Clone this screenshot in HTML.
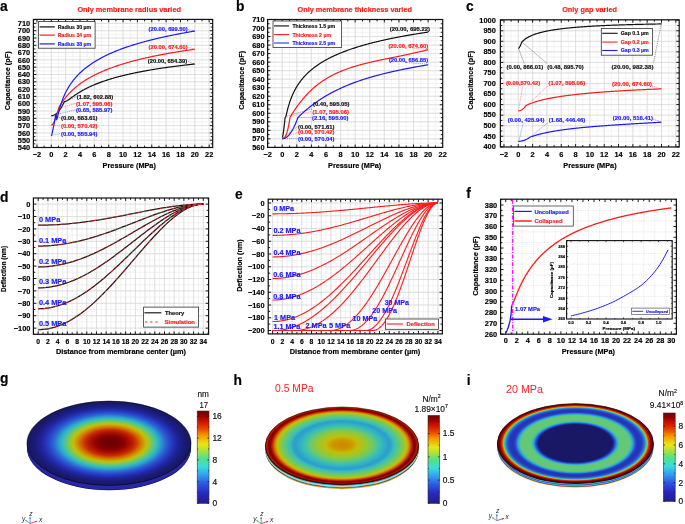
<!DOCTYPE html><html><head><meta charset="utf-8"><style>html,body{margin:0;padding:0;background:#fff;}svg{display:block;will-change:transform;}</style></head><body>
<svg width="685" height="524" viewBox="0 0 685 524" font-family='"Liberation Sans", sans-serif'>
<rect width="685" height="524" fill="#fff"/>
<line x1="36.95" y1="19.4" x2="36.95" y2="147.5" stroke="#ebebeb" stroke-width="0.6" />
<line x1="44.12" y1="19.4" x2="44.12" y2="147.5" stroke="#ebebeb" stroke-width="0.6" />
<line x1="51.3" y1="19.4" x2="51.3" y2="147.5" stroke="#ebebeb" stroke-width="0.6" />
<line x1="58.48" y1="19.4" x2="58.48" y2="147.5" stroke="#ebebeb" stroke-width="0.6" />
<line x1="65.65" y1="19.4" x2="65.65" y2="147.5" stroke="#ebebeb" stroke-width="0.6" />
<line x1="72.83" y1="19.4" x2="72.83" y2="147.5" stroke="#ebebeb" stroke-width="0.6" />
<line x1="80" y1="19.4" x2="80" y2="147.5" stroke="#ebebeb" stroke-width="0.6" />
<line x1="87.18" y1="19.4" x2="87.18" y2="147.5" stroke="#ebebeb" stroke-width="0.6" />
<line x1="94.36" y1="19.4" x2="94.36" y2="147.5" stroke="#ebebeb" stroke-width="0.6" />
<line x1="101.53" y1="19.4" x2="101.53" y2="147.5" stroke="#ebebeb" stroke-width="0.6" />
<line x1="108.71" y1="19.4" x2="108.71" y2="147.5" stroke="#ebebeb" stroke-width="0.6" />
<line x1="115.88" y1="19.4" x2="115.88" y2="147.5" stroke="#ebebeb" stroke-width="0.6" />
<line x1="123.06" y1="19.4" x2="123.06" y2="147.5" stroke="#ebebeb" stroke-width="0.6" />
<line x1="130.24" y1="19.4" x2="130.24" y2="147.5" stroke="#ebebeb" stroke-width="0.6" />
<line x1="137.41" y1="19.4" x2="137.41" y2="147.5" stroke="#ebebeb" stroke-width="0.6" />
<line x1="144.59" y1="19.4" x2="144.59" y2="147.5" stroke="#ebebeb" stroke-width="0.6" />
<line x1="151.76" y1="19.4" x2="151.76" y2="147.5" stroke="#ebebeb" stroke-width="0.6" />
<line x1="158.94" y1="19.4" x2="158.94" y2="147.5" stroke="#ebebeb" stroke-width="0.6" />
<line x1="166.12" y1="19.4" x2="166.12" y2="147.5" stroke="#ebebeb" stroke-width="0.6" />
<line x1="173.29" y1="19.4" x2="173.29" y2="147.5" stroke="#ebebeb" stroke-width="0.6" />
<line x1="180.47" y1="19.4" x2="180.47" y2="147.5" stroke="#ebebeb" stroke-width="0.6" />
<line x1="187.64" y1="19.4" x2="187.64" y2="147.5" stroke="#ebebeb" stroke-width="0.6" />
<line x1="194.82" y1="19.4" x2="194.82" y2="147.5" stroke="#ebebeb" stroke-width="0.6" />
<line x1="202" y1="19.4" x2="202" y2="147.5" stroke="#ebebeb" stroke-width="0.6" />
<line x1="209.17" y1="19.4" x2="209.17" y2="147.5" stroke="#ebebeb" stroke-width="0.6" />
<line x1="33.4" y1="143.85" x2="212.7" y2="143.85" stroke="#ebebeb" stroke-width="0.6" />
<line x1="33.4" y1="140.2" x2="212.7" y2="140.2" stroke="#ebebeb" stroke-width="0.6" />
<line x1="33.4" y1="136.55" x2="212.7" y2="136.55" stroke="#ebebeb" stroke-width="0.6" />
<line x1="33.4" y1="132.9" x2="212.7" y2="132.9" stroke="#ebebeb" stroke-width="0.6" />
<line x1="33.4" y1="129.25" x2="212.7" y2="129.25" stroke="#ebebeb" stroke-width="0.6" />
<line x1="33.4" y1="125.6" x2="212.7" y2="125.6" stroke="#ebebeb" stroke-width="0.6" />
<line x1="33.4" y1="121.95" x2="212.7" y2="121.95" stroke="#ebebeb" stroke-width="0.6" />
<line x1="33.4" y1="118.3" x2="212.7" y2="118.3" stroke="#ebebeb" stroke-width="0.6" />
<line x1="33.4" y1="114.65" x2="212.7" y2="114.65" stroke="#ebebeb" stroke-width="0.6" />
<line x1="33.4" y1="111" x2="212.7" y2="111" stroke="#ebebeb" stroke-width="0.6" />
<line x1="33.4" y1="107.35" x2="212.7" y2="107.35" stroke="#ebebeb" stroke-width="0.6" />
<line x1="33.4" y1="103.7" x2="212.7" y2="103.7" stroke="#ebebeb" stroke-width="0.6" />
<line x1="33.4" y1="100.05" x2="212.7" y2="100.05" stroke="#ebebeb" stroke-width="0.6" />
<line x1="33.4" y1="96.4" x2="212.7" y2="96.4" stroke="#ebebeb" stroke-width="0.6" />
<line x1="33.4" y1="92.75" x2="212.7" y2="92.75" stroke="#ebebeb" stroke-width="0.6" />
<line x1="33.4" y1="89.1" x2="212.7" y2="89.1" stroke="#ebebeb" stroke-width="0.6" />
<line x1="33.4" y1="85.45" x2="212.7" y2="85.45" stroke="#ebebeb" stroke-width="0.6" />
<line x1="33.4" y1="81.8" x2="212.7" y2="81.8" stroke="#ebebeb" stroke-width="0.6" />
<line x1="33.4" y1="78.15" x2="212.7" y2="78.15" stroke="#ebebeb" stroke-width="0.6" />
<line x1="33.4" y1="74.5" x2="212.7" y2="74.5" stroke="#ebebeb" stroke-width="0.6" />
<line x1="33.4" y1="70.85" x2="212.7" y2="70.85" stroke="#ebebeb" stroke-width="0.6" />
<line x1="33.4" y1="67.2" x2="212.7" y2="67.2" stroke="#ebebeb" stroke-width="0.6" />
<line x1="33.4" y1="63.55" x2="212.7" y2="63.55" stroke="#ebebeb" stroke-width="0.6" />
<line x1="33.4" y1="59.9" x2="212.7" y2="59.9" stroke="#ebebeb" stroke-width="0.6" />
<line x1="33.4" y1="56.25" x2="212.7" y2="56.25" stroke="#ebebeb" stroke-width="0.6" />
<line x1="33.4" y1="52.6" x2="212.7" y2="52.6" stroke="#ebebeb" stroke-width="0.6" />
<line x1="33.4" y1="48.95" x2="212.7" y2="48.95" stroke="#ebebeb" stroke-width="0.6" />
<line x1="33.4" y1="45.3" x2="212.7" y2="45.3" stroke="#ebebeb" stroke-width="0.6" />
<line x1="33.4" y1="41.65" x2="212.7" y2="41.65" stroke="#ebebeb" stroke-width="0.6" />
<line x1="33.4" y1="38" x2="212.7" y2="38" stroke="#ebebeb" stroke-width="0.6" />
<line x1="33.4" y1="34.35" x2="212.7" y2="34.35" stroke="#ebebeb" stroke-width="0.6" />
<line x1="33.4" y1="30.7" x2="212.7" y2="30.7" stroke="#ebebeb" stroke-width="0.6" />
<line x1="33.4" y1="27.05" x2="212.7" y2="27.05" stroke="#ebebeb" stroke-width="0.6" />
<line x1="33.4" y1="23.4" x2="212.7" y2="23.4" stroke="#ebebeb" stroke-width="0.6" />
<line x1="33.4" y1="19.75" x2="212.7" y2="19.75" stroke="#ebebeb" stroke-width="0.6" />
<line x1="36.95" y1="19.4" x2="36.95" y2="147.5" stroke="#d4d4d4" stroke-width="0.6" />
<line x1="51.3" y1="19.4" x2="51.3" y2="147.5" stroke="#d4d4d4" stroke-width="0.6" />
<line x1="65.65" y1="19.4" x2="65.65" y2="147.5" stroke="#d4d4d4" stroke-width="0.6" />
<line x1="80" y1="19.4" x2="80" y2="147.5" stroke="#d4d4d4" stroke-width="0.6" />
<line x1="94.36" y1="19.4" x2="94.36" y2="147.5" stroke="#d4d4d4" stroke-width="0.6" />
<line x1="108.71" y1="19.4" x2="108.71" y2="147.5" stroke="#d4d4d4" stroke-width="0.6" />
<line x1="123.06" y1="19.4" x2="123.06" y2="147.5" stroke="#d4d4d4" stroke-width="0.6" />
<line x1="137.41" y1="19.4" x2="137.41" y2="147.5" stroke="#d4d4d4" stroke-width="0.6" />
<line x1="151.76" y1="19.4" x2="151.76" y2="147.5" stroke="#d4d4d4" stroke-width="0.6" />
<line x1="166.12" y1="19.4" x2="166.12" y2="147.5" stroke="#d4d4d4" stroke-width="0.6" />
<line x1="180.47" y1="19.4" x2="180.47" y2="147.5" stroke="#d4d4d4" stroke-width="0.6" />
<line x1="194.82" y1="19.4" x2="194.82" y2="147.5" stroke="#d4d4d4" stroke-width="0.6" />
<line x1="209.17" y1="19.4" x2="209.17" y2="147.5" stroke="#d4d4d4" stroke-width="0.6" />
<line x1="33.4" y1="140.2" x2="212.7" y2="140.2" stroke="#d4d4d4" stroke-width="0.6" />
<line x1="33.4" y1="132.9" x2="212.7" y2="132.9" stroke="#d4d4d4" stroke-width="0.6" />
<line x1="33.4" y1="125.6" x2="212.7" y2="125.6" stroke="#d4d4d4" stroke-width="0.6" />
<line x1="33.4" y1="118.3" x2="212.7" y2="118.3" stroke="#d4d4d4" stroke-width="0.6" />
<line x1="33.4" y1="111" x2="212.7" y2="111" stroke="#d4d4d4" stroke-width="0.6" />
<line x1="33.4" y1="103.7" x2="212.7" y2="103.7" stroke="#d4d4d4" stroke-width="0.6" />
<line x1="33.4" y1="96.4" x2="212.7" y2="96.4" stroke="#d4d4d4" stroke-width="0.6" />
<line x1="33.4" y1="89.1" x2="212.7" y2="89.1" stroke="#d4d4d4" stroke-width="0.6" />
<line x1="33.4" y1="81.8" x2="212.7" y2="81.8" stroke="#d4d4d4" stroke-width="0.6" />
<line x1="33.4" y1="74.5" x2="212.7" y2="74.5" stroke="#d4d4d4" stroke-width="0.6" />
<line x1="33.4" y1="67.2" x2="212.7" y2="67.2" stroke="#d4d4d4" stroke-width="0.6" />
<line x1="33.4" y1="59.9" x2="212.7" y2="59.9" stroke="#d4d4d4" stroke-width="0.6" />
<line x1="33.4" y1="52.6" x2="212.7" y2="52.6" stroke="#d4d4d4" stroke-width="0.6" />
<line x1="33.4" y1="45.3" x2="212.7" y2="45.3" stroke="#d4d4d4" stroke-width="0.6" />
<line x1="33.4" y1="38" x2="212.7" y2="38" stroke="#d4d4d4" stroke-width="0.6" />
<line x1="33.4" y1="30.7" x2="212.7" y2="30.7" stroke="#d4d4d4" stroke-width="0.6" />
<line x1="33.4" y1="23.4" x2="212.7" y2="23.4" stroke="#d4d4d4" stroke-width="0.6" />
<path d="M51.3,115.66 L51.75,115.65 L52.2,115.6 L52.65,115.51 L53.1,115.4 L53.55,115.25 L54,115.06 L54.45,114.85 L54.9,114.59 L55.35,114.31 L55.8,113.99 L56.25,113.64 L56.7,113.26 L57.15,112.84 L57.6,112.39 L58.06,111.9 L58.51,111.38 L58.96,110.83 L59.41,110.25 L59.86,109.63 L60.31,108.97 L60.76,108.29 L61.21,107.57 L61.66,106.82 L62.11,106.03 L62.56,105.21 L63.01,104.36 L63.46,103.47 L63.91,102.55 L64.36,101.6 L64.36,101.6 L65.02,101.55 L65.67,101.36 L66.33,101.07 L66.98,100.72 L67.64,100.32 L68.29,99.89 L68.95,99.44 L69.6,98.98 L70.26,98.51 L70.92,98.04 L71.57,97.57 L72.23,97.1 L72.88,96.63 L73.54,96.17 L74.19,95.72 L74.85,95.26 L75.51,94.82 L76.16,94.38 L76.82,93.95 L77.47,93.53 L78.13,93.11 L78.78,92.7 L79.44,92.3 L80.09,91.9 L80.75,91.51 L81.41,91.13 L82.06,90.76 L82.72,90.39 L83.37,90.02 L84.03,89.67 L84.68,89.32 L85.34,88.97 L85.99,88.63 L86.65,88.3 L87.31,87.97 L87.96,87.65 L88.62,87.33 L89.27,87.02 L89.93,86.71 L90.58,86.41 L91.24,86.11 L91.89,85.81 L92.55,85.53 L93.21,85.24 L93.86,84.96 L94.52,84.68 L95.17,84.41 L95.83,84.14 L96.48,83.88 L97.14,83.62 L97.79,83.36 L98.45,83.11 L99.11,82.86 L99.76,82.61 L100.42,82.37 L101.07,82.13 L101.73,81.89 L102.38,81.66 L103.04,81.43 L103.69,81.2 L104.35,80.97 L105.01,80.75 L105.66,80.53 L106.32,80.32 L106.97,80.1 L107.63,79.89 L108.28,79.68 L108.94,79.48 L109.6,79.27 L110.25,79.07 L110.91,78.87 L111.56,78.68 L112.22,78.48 L112.87,78.29 L113.53,78.1 L114.18,77.91 L114.84,77.73 L115.5,77.54 L116.15,77.36 L116.81,77.18 L117.46,77 L118.12,76.83 L118.77,76.66 L119.43,76.48 L120.08,76.31 L120.74,76.14 L121.4,75.98 L122.05,75.81 L122.71,75.65 L123.36,75.49 L124.02,75.33 L124.67,75.17 L125.33,75.01 L125.98,74.86 L126.64,74.7 L127.3,74.55 L127.95,74.4 L128.61,74.25 L129.26,74.1 L129.92,73.96 L130.57,73.81 L131.23,73.67 L131.88,73.53 L132.54,73.38 L133.2,73.24 L133.85,73.11 L134.51,72.97 L135.16,72.83 L135.82,72.7 L136.47,72.56 L137.13,72.43 L137.78,72.3 L138.44,72.17 L139.1,72.04 L139.75,71.91 L140.41,71.79 L141.06,71.66 L141.72,71.54 L142.37,71.41 L143.03,71.29 L143.69,71.17 L144.34,71.05 L145,70.93 L145.65,70.81 L146.31,70.69 L146.96,70.57 L147.62,70.46 L148.27,70.34 L148.93,70.23 L149.59,70.12 L150.24,70 L150.9,69.89 L151.55,69.78 L152.21,69.67 L152.86,69.57 L153.52,69.46 L154.17,69.35 L154.83,69.24 L155.49,69.14 L156.14,69.03 L156.8,68.93 L157.45,68.83 L158.11,68.73 L158.76,68.62 L159.42,68.52 L160.07,68.42 L160.73,68.32 L161.39,68.23 L162.04,68.13 L162.7,68.03 L163.35,67.93 L164.01,67.84 L164.66,67.74 L165.32,67.65 L165.97,67.56 L166.63,67.46 L167.29,67.37 L167.94,67.28 L168.6,67.19 L169.25,67.1 L169.91,67.01 L170.56,66.92 L171.22,66.83 L171.87,66.74 L172.53,66.65 L173.19,66.57 L173.84,66.48 L174.5,66.39 L175.15,66.31 L175.81,66.23 L176.46,66.14 L177.12,66.06 L177.78,65.97 L178.43,65.89 L179.09,65.81 L179.74,65.73 L180.4,65.65 L181.05,65.57 L181.71,65.49 L182.36,65.41 L183.02,65.33 L183.68,65.25 L184.33,65.17 L184.99,65.1 L185.64,65.02 L186.3,64.94 L186.95,64.87 L187.61,64.79 L188.26,64.72 L188.92,64.64 L189.58,64.57 L190.23,64.5 L190.89,64.42 L191.54,64.35 L192.2,64.28 L192.85,64.21 L193.51,64.14 L194.16,64.07 L194.82,63.99" fill="none" stroke="#111111" stroke-width="1.2" stroke-linejoin="round" />
<path d="M51.3,125.29 L51.56,125.21 L51.83,125.04 L52.09,124.82 L52.36,124.54 L52.62,124.21 L52.89,123.85 L53.15,123.44 L53.42,123 L53.68,122.53 L53.95,122.02 L54.21,121.48 L54.48,120.91 L54.74,120.31 L55.01,119.68 L55.27,119.03 L55.54,118.35 L55.8,117.64 L56.07,116.91 L56.33,116.15 L56.6,115.37 L56.86,114.56 L57.12,113.73 L57.39,112.88 L57.65,112.01 L57.92,111.11 L58.18,110.19 L58.45,109.25 L58.71,108.29 L58.98,107.31 L58.98,107.31 L59.66,106.12 L60.34,104.98 L61.03,103.89 L61.71,102.84 L62.39,101.83 L63.07,100.86 L63.76,99.92 L64.44,99.01 L65.12,98.13 L65.8,97.28 L66.49,96.45 L67.17,95.65 L67.85,94.87 L68.54,94.12 L69.22,93.39 L69.9,92.67 L70.58,91.98 L71.27,91.3 L71.95,90.64 L72.63,90 L73.31,89.37 L74,88.76 L74.68,88.16 L75.36,87.58 L76.04,87 L76.73,86.44 L77.41,85.9 L78.09,85.36 L78.77,84.84 L79.46,84.32 L80.14,83.82 L80.82,83.33 L81.5,82.85 L82.19,82.37 L82.87,81.91 L83.55,81.45 L84.24,81 L84.92,80.56 L85.6,80.13 L86.28,79.7 L86.97,79.29 L87.65,78.88 L88.33,78.47 L89.01,78.08 L89.7,77.69 L90.38,77.3 L91.06,76.92 L91.74,76.55 L92.43,76.18 L93.11,75.82 L93.79,75.47 L94.47,75.12 L95.16,74.77 L95.84,74.43 L96.52,74.1 L97.21,73.77 L97.89,73.44 L98.57,73.12 L99.25,72.81 L99.94,72.5 L100.62,72.19 L101.3,71.88 L101.98,71.58 L102.67,71.29 L103.35,71 L104.03,70.71 L104.71,70.42 L105.4,70.14 L106.08,69.87 L106.76,69.59 L107.44,69.32 L108.13,69.05 L108.81,68.79 L109.49,68.53 L110.17,68.27 L110.86,68.01 L111.54,67.76 L112.22,67.51 L112.91,67.27 L113.59,67.02 L114.27,66.78 L114.95,66.54 L115.64,66.31 L116.32,66.08 L117,65.85 L117.68,65.62 L118.37,65.39 L119.05,65.17 L119.73,64.95 L120.41,64.73 L121.1,64.51 L121.78,64.3 L122.46,64.09 L123.14,63.88 L123.83,63.67 L124.51,63.46 L125.19,63.26 L125.88,63.06 L126.56,62.86 L127.24,62.66 L127.92,62.47 L128.61,62.27 L129.29,62.08 L129.97,61.89 L130.65,61.7 L131.34,61.51 L132.02,61.33 L132.7,61.14 L133.38,60.96 L134.07,60.78 L134.75,60.6 L135.43,60.43 L136.11,60.25 L136.8,60.08 L137.48,59.91 L138.16,59.73 L138.85,59.57 L139.53,59.4 L140.21,59.23 L140.89,59.07 L141.58,58.9 L142.26,58.74 L142.94,58.58 L143.62,58.42 L144.31,58.26 L144.99,58.1 L145.67,57.95 L146.35,57.79 L147.04,57.64 L147.72,57.49 L148.4,57.34 L149.08,57.19 L149.77,57.04 L150.45,56.89 L151.13,56.75 L151.81,56.6 L152.5,56.46 L153.18,56.31 L153.86,56.17 L154.55,56.03 L155.23,55.89 L155.91,55.75 L156.59,55.62 L157.28,55.48 L157.96,55.34 L158.64,55.21 L159.32,55.08 L160.01,54.94 L160.69,54.81 L161.37,54.68 L162.05,54.55 L162.74,54.42 L163.42,54.29 L164.1,54.17 L164.78,54.04 L165.47,53.92 L166.15,53.79 L166.83,53.67 L167.52,53.55 L168.2,53.42 L168.88,53.3 L169.56,53.18 L170.25,53.06 L170.93,52.95 L171.61,52.83 L172.29,52.71 L172.98,52.59 L173.66,52.48 L174.34,52.36 L175.02,52.25 L175.71,52.14 L176.39,52.03 L177.07,51.91 L177.75,51.8 L178.44,51.69 L179.12,51.58 L179.8,51.47 L180.48,51.37 L181.17,51.26 L181.85,51.15 L182.53,51.05 L183.22,50.94 L183.9,50.84 L184.58,50.73 L185.26,50.63 L185.95,50.52 L186.63,50.42 L187.31,50.32 L187.99,50.22 L188.68,50.12 L189.36,50.02 L190.04,49.92 L190.72,49.82 L191.41,49.72 L192.09,49.63 L192.77,49.53 L193.45,49.43 L194.14,49.34 L194.82,49.24" fill="none" stroke="#ff1a1a" stroke-width="1.2" stroke-linejoin="round" />
<path d="M51.3,135.86 L51.46,135.48 L51.62,134.98 L51.78,134.42 L51.94,133.83 L52.1,133.2 L52.27,132.55 L52.43,131.88 L52.59,131.19 L52.75,130.48 L52.91,129.75 L53.07,129.01 L53.23,128.26 L53.39,127.49 L53.55,126.72 L53.71,125.93 L53.87,125.13 L54.03,124.31 L54.2,123.49 L54.36,122.67 L54.52,121.83 L54.68,120.98 L54.84,120.13 L55,119.27 L55.16,118.4 L55.32,117.52 L55.48,116.63 L55.64,115.74 L55.8,114.85 L55.96,113.94 L55.96,113.94 L56.66,119.73 L57.36,117.55 L58.06,114.65 L58.76,111.81 L59.45,109.16 L60.15,106.71 L60.85,104.45 L61.55,102.36 L62.24,100.41 L62.94,98.59 L63.64,96.89 L64.34,95.29 L65.04,93.77 L65.73,92.34 L66.43,90.98 L67.13,89.69 L67.83,88.45 L68.52,87.28 L69.22,86.15 L69.92,85.06 L70.62,84.02 L71.32,83.02 L72.01,82.05 L72.71,81.12 L73.41,80.22 L74.11,79.35 L74.8,78.51 L75.5,77.69 L76.2,76.9 L76.9,76.13 L77.6,75.38 L78.29,74.66 L78.99,73.95 L79.69,73.26 L80.39,72.59 L81.08,71.94 L81.78,71.3 L82.48,70.68 L83.18,70.07 L83.88,69.48 L84.57,68.9 L85.27,68.33 L85.97,67.77 L86.67,67.23 L87.36,66.7 L88.06,66.17 L88.76,65.66 L89.46,65.16 L90.15,64.67 L90.85,64.19 L91.55,63.71 L92.25,63.25 L92.95,62.79 L93.64,62.34 L94.34,61.9 L95.04,61.47 L95.74,61.04 L96.43,60.62 L97.13,60.21 L97.83,59.81 L98.53,59.41 L99.23,59.01 L99.92,58.63 L100.62,58.25 L101.32,57.87 L102.02,57.5 L102.71,57.14 L103.41,56.78 L104.11,56.43 L104.81,56.08 L105.51,55.73 L106.2,55.39 L106.9,55.06 L107.6,54.73 L108.3,54.4 L108.99,54.08 L109.69,53.77 L110.39,53.45 L111.09,53.14 L111.79,52.84 L112.48,52.54 L113.18,52.24 L113.88,51.94 L114.58,51.65 L115.27,51.37 L115.97,51.08 L116.67,50.8 L117.37,50.52 L118.07,50.25 L118.76,49.98 L119.46,49.71 L120.16,49.45 L120.86,49.18 L121.55,48.92 L122.25,48.67 L122.95,48.41 L123.65,48.16 L124.35,47.91 L125.04,47.67 L125.74,47.42 L126.44,47.18 L127.14,46.94 L127.83,46.71 L128.53,46.47 L129.23,46.24 L129.93,46.01 L130.63,45.79 L131.32,45.56 L132.02,45.34 L132.72,45.12 L133.42,44.9 L134.11,44.68 L134.81,44.47 L135.51,44.26 L136.21,44.05 L136.91,43.84 L137.6,43.63 L138.3,43.43 L139,43.22 L139.7,43.02 L140.39,42.82 L141.09,42.62 L141.79,42.43 L142.49,42.23 L143.19,42.04 L143.88,41.85 L144.58,41.66 L145.28,41.47 L145.98,41.28 L146.67,41.1 L147.37,40.92 L148.07,40.73 L148.77,40.55 L149.47,40.37 L150.16,40.2 L150.86,40.02 L151.56,39.85 L152.26,39.67 L152.95,39.5 L153.65,39.33 L154.35,39.16 L155.05,38.99 L155.75,38.82 L156.44,38.66 L157.14,38.49 L157.84,38.33 L158.54,38.17 L159.23,38.01 L159.93,37.85 L160.63,37.69 L161.33,37.53 L162.02,37.37 L162.72,37.22 L163.42,37.06 L164.12,36.91 L164.82,36.76 L165.51,36.61 L166.21,36.46 L166.91,36.31 L167.61,36.16 L168.3,36.01 L169,35.87 L169.7,35.72 L170.4,35.58 L171.1,35.43 L171.79,35.29 L172.49,35.15 L173.19,35.01 L173.89,34.87 L174.58,34.73 L175.28,34.6 L175.98,34.46 L176.68,34.32 L177.38,34.19 L178.07,34.05 L178.77,33.92 L179.47,33.79 L180.17,33.66 L180.86,33.53 L181.56,33.4 L182.26,33.27 L182.96,33.14 L183.66,33.01 L184.35,32.88 L185.05,32.76 L185.75,32.63 L186.45,32.51 L187.14,32.38 L187.84,32.26 L188.54,32.14 L189.24,32.01 L189.94,31.89 L190.63,31.77 L191.33,31.65 L192.03,31.53 L192.73,31.42 L193.42,31.3 L194.12,31.18 L194.82,31.07" fill="none" stroke="#1a1aff" stroke-width="1.2" stroke-linejoin="round" />
<line x1="36.95" y1="147.5" x2="36.95" y2="144.6" stroke="#111" stroke-width="0.95" />
<line x1="36.95" y1="19.4" x2="36.95" y2="22.3" stroke="#111" stroke-width="0.95" />
<line x1="51.3" y1="147.5" x2="51.3" y2="144.6" stroke="#111" stroke-width="0.95" />
<line x1="51.3" y1="19.4" x2="51.3" y2="22.3" stroke="#111" stroke-width="0.95" />
<line x1="65.65" y1="147.5" x2="65.65" y2="144.6" stroke="#111" stroke-width="0.95" />
<line x1="65.65" y1="19.4" x2="65.65" y2="22.3" stroke="#111" stroke-width="0.95" />
<line x1="80" y1="147.5" x2="80" y2="144.6" stroke="#111" stroke-width="0.95" />
<line x1="80" y1="19.4" x2="80" y2="22.3" stroke="#111" stroke-width="0.95" />
<line x1="94.36" y1="147.5" x2="94.36" y2="144.6" stroke="#111" stroke-width="0.95" />
<line x1="94.36" y1="19.4" x2="94.36" y2="22.3" stroke="#111" stroke-width="0.95" />
<line x1="108.71" y1="147.5" x2="108.71" y2="144.6" stroke="#111" stroke-width="0.95" />
<line x1="108.71" y1="19.4" x2="108.71" y2="22.3" stroke="#111" stroke-width="0.95" />
<line x1="123.06" y1="147.5" x2="123.06" y2="144.6" stroke="#111" stroke-width="0.95" />
<line x1="123.06" y1="19.4" x2="123.06" y2="22.3" stroke="#111" stroke-width="0.95" />
<line x1="137.41" y1="147.5" x2="137.41" y2="144.6" stroke="#111" stroke-width="0.95" />
<line x1="137.41" y1="19.4" x2="137.41" y2="22.3" stroke="#111" stroke-width="0.95" />
<line x1="151.76" y1="147.5" x2="151.76" y2="144.6" stroke="#111" stroke-width="0.95" />
<line x1="151.76" y1="19.4" x2="151.76" y2="22.3" stroke="#111" stroke-width="0.95" />
<line x1="166.12" y1="147.5" x2="166.12" y2="144.6" stroke="#111" stroke-width="0.95" />
<line x1="166.12" y1="19.4" x2="166.12" y2="22.3" stroke="#111" stroke-width="0.95" />
<line x1="180.47" y1="147.5" x2="180.47" y2="144.6" stroke="#111" stroke-width="0.95" />
<line x1="180.47" y1="19.4" x2="180.47" y2="22.3" stroke="#111" stroke-width="0.95" />
<line x1="194.82" y1="147.5" x2="194.82" y2="144.6" stroke="#111" stroke-width="0.95" />
<line x1="194.82" y1="19.4" x2="194.82" y2="22.3" stroke="#111" stroke-width="0.95" />
<line x1="209.17" y1="147.5" x2="209.17" y2="144.6" stroke="#111" stroke-width="0.95" />
<line x1="209.17" y1="19.4" x2="209.17" y2="22.3" stroke="#111" stroke-width="0.95" />
<line x1="44.12" y1="147.5" x2="44.12" y2="145.6" stroke="#111" stroke-width="0.95" />
<line x1="44.12" y1="19.4" x2="44.12" y2="21.3" stroke="#111" stroke-width="0.95" />
<line x1="58.48" y1="147.5" x2="58.48" y2="145.6" stroke="#111" stroke-width="0.95" />
<line x1="58.48" y1="19.4" x2="58.48" y2="21.3" stroke="#111" stroke-width="0.95" />
<line x1="72.83" y1="147.5" x2="72.83" y2="145.6" stroke="#111" stroke-width="0.95" />
<line x1="72.83" y1="19.4" x2="72.83" y2="21.3" stroke="#111" stroke-width="0.95" />
<line x1="87.18" y1="147.5" x2="87.18" y2="145.6" stroke="#111" stroke-width="0.95" />
<line x1="87.18" y1="19.4" x2="87.18" y2="21.3" stroke="#111" stroke-width="0.95" />
<line x1="101.53" y1="147.5" x2="101.53" y2="145.6" stroke="#111" stroke-width="0.95" />
<line x1="101.53" y1="19.4" x2="101.53" y2="21.3" stroke="#111" stroke-width="0.95" />
<line x1="115.88" y1="147.5" x2="115.88" y2="145.6" stroke="#111" stroke-width="0.95" />
<line x1="115.88" y1="19.4" x2="115.88" y2="21.3" stroke="#111" stroke-width="0.95" />
<line x1="130.24" y1="147.5" x2="130.24" y2="145.6" stroke="#111" stroke-width="0.95" />
<line x1="130.24" y1="19.4" x2="130.24" y2="21.3" stroke="#111" stroke-width="0.95" />
<line x1="144.59" y1="147.5" x2="144.59" y2="145.6" stroke="#111" stroke-width="0.95" />
<line x1="144.59" y1="19.4" x2="144.59" y2="21.3" stroke="#111" stroke-width="0.95" />
<line x1="158.94" y1="147.5" x2="158.94" y2="145.6" stroke="#111" stroke-width="0.95" />
<line x1="158.94" y1="19.4" x2="158.94" y2="21.3" stroke="#111" stroke-width="0.95" />
<line x1="173.29" y1="147.5" x2="173.29" y2="145.6" stroke="#111" stroke-width="0.95" />
<line x1="173.29" y1="19.4" x2="173.29" y2="21.3" stroke="#111" stroke-width="0.95" />
<line x1="187.64" y1="147.5" x2="187.64" y2="145.6" stroke="#111" stroke-width="0.95" />
<line x1="187.64" y1="19.4" x2="187.64" y2="21.3" stroke="#111" stroke-width="0.95" />
<line x1="202" y1="147.5" x2="202" y2="145.6" stroke="#111" stroke-width="0.95" />
<line x1="202" y1="19.4" x2="202" y2="21.3" stroke="#111" stroke-width="0.95" />
<line x1="33.4" y1="140.2" x2="36.3" y2="140.2" stroke="#111" stroke-width="0.95" />
<line x1="212.7" y1="140.2" x2="209.8" y2="140.2" stroke="#111" stroke-width="0.95" />
<line x1="33.4" y1="132.9" x2="36.3" y2="132.9" stroke="#111" stroke-width="0.95" />
<line x1="212.7" y1="132.9" x2="209.8" y2="132.9" stroke="#111" stroke-width="0.95" />
<line x1="33.4" y1="125.6" x2="36.3" y2="125.6" stroke="#111" stroke-width="0.95" />
<line x1="212.7" y1="125.6" x2="209.8" y2="125.6" stroke="#111" stroke-width="0.95" />
<line x1="33.4" y1="118.3" x2="36.3" y2="118.3" stroke="#111" stroke-width="0.95" />
<line x1="212.7" y1="118.3" x2="209.8" y2="118.3" stroke="#111" stroke-width="0.95" />
<line x1="33.4" y1="111" x2="36.3" y2="111" stroke="#111" stroke-width="0.95" />
<line x1="212.7" y1="111" x2="209.8" y2="111" stroke="#111" stroke-width="0.95" />
<line x1="33.4" y1="103.7" x2="36.3" y2="103.7" stroke="#111" stroke-width="0.95" />
<line x1="212.7" y1="103.7" x2="209.8" y2="103.7" stroke="#111" stroke-width="0.95" />
<line x1="33.4" y1="96.4" x2="36.3" y2="96.4" stroke="#111" stroke-width="0.95" />
<line x1="212.7" y1="96.4" x2="209.8" y2="96.4" stroke="#111" stroke-width="0.95" />
<line x1="33.4" y1="89.1" x2="36.3" y2="89.1" stroke="#111" stroke-width="0.95" />
<line x1="212.7" y1="89.1" x2="209.8" y2="89.1" stroke="#111" stroke-width="0.95" />
<line x1="33.4" y1="81.8" x2="36.3" y2="81.8" stroke="#111" stroke-width="0.95" />
<line x1="212.7" y1="81.8" x2="209.8" y2="81.8" stroke="#111" stroke-width="0.95" />
<line x1="33.4" y1="74.5" x2="36.3" y2="74.5" stroke="#111" stroke-width="0.95" />
<line x1="212.7" y1="74.5" x2="209.8" y2="74.5" stroke="#111" stroke-width="0.95" />
<line x1="33.4" y1="67.2" x2="36.3" y2="67.2" stroke="#111" stroke-width="0.95" />
<line x1="212.7" y1="67.2" x2="209.8" y2="67.2" stroke="#111" stroke-width="0.95" />
<line x1="33.4" y1="59.9" x2="36.3" y2="59.9" stroke="#111" stroke-width="0.95" />
<line x1="212.7" y1="59.9" x2="209.8" y2="59.9" stroke="#111" stroke-width="0.95" />
<line x1="33.4" y1="52.6" x2="36.3" y2="52.6" stroke="#111" stroke-width="0.95" />
<line x1="212.7" y1="52.6" x2="209.8" y2="52.6" stroke="#111" stroke-width="0.95" />
<line x1="33.4" y1="45.3" x2="36.3" y2="45.3" stroke="#111" stroke-width="0.95" />
<line x1="212.7" y1="45.3" x2="209.8" y2="45.3" stroke="#111" stroke-width="0.95" />
<line x1="33.4" y1="38" x2="36.3" y2="38" stroke="#111" stroke-width="0.95" />
<line x1="212.7" y1="38" x2="209.8" y2="38" stroke="#111" stroke-width="0.95" />
<line x1="33.4" y1="30.7" x2="36.3" y2="30.7" stroke="#111" stroke-width="0.95" />
<line x1="212.7" y1="30.7" x2="209.8" y2="30.7" stroke="#111" stroke-width="0.95" />
<line x1="33.4" y1="23.4" x2="36.3" y2="23.4" stroke="#111" stroke-width="0.95" />
<line x1="212.7" y1="23.4" x2="209.8" y2="23.4" stroke="#111" stroke-width="0.95" />
<line x1="33.4" y1="143.85" x2="35.3" y2="143.85" stroke="#111" stroke-width="0.95" />
<line x1="212.7" y1="143.85" x2="210.8" y2="143.85" stroke="#111" stroke-width="0.95" />
<line x1="33.4" y1="136.55" x2="35.3" y2="136.55" stroke="#111" stroke-width="0.95" />
<line x1="212.7" y1="136.55" x2="210.8" y2="136.55" stroke="#111" stroke-width="0.95" />
<line x1="33.4" y1="129.25" x2="35.3" y2="129.25" stroke="#111" stroke-width="0.95" />
<line x1="212.7" y1="129.25" x2="210.8" y2="129.25" stroke="#111" stroke-width="0.95" />
<line x1="33.4" y1="121.95" x2="35.3" y2="121.95" stroke="#111" stroke-width="0.95" />
<line x1="212.7" y1="121.95" x2="210.8" y2="121.95" stroke="#111" stroke-width="0.95" />
<line x1="33.4" y1="114.65" x2="35.3" y2="114.65" stroke="#111" stroke-width="0.95" />
<line x1="212.7" y1="114.65" x2="210.8" y2="114.65" stroke="#111" stroke-width="0.95" />
<line x1="33.4" y1="107.35" x2="35.3" y2="107.35" stroke="#111" stroke-width="0.95" />
<line x1="212.7" y1="107.35" x2="210.8" y2="107.35" stroke="#111" stroke-width="0.95" />
<line x1="33.4" y1="100.05" x2="35.3" y2="100.05" stroke="#111" stroke-width="0.95" />
<line x1="212.7" y1="100.05" x2="210.8" y2="100.05" stroke="#111" stroke-width="0.95" />
<line x1="33.4" y1="92.75" x2="35.3" y2="92.75" stroke="#111" stroke-width="0.95" />
<line x1="212.7" y1="92.75" x2="210.8" y2="92.75" stroke="#111" stroke-width="0.95" />
<line x1="33.4" y1="85.45" x2="35.3" y2="85.45" stroke="#111" stroke-width="0.95" />
<line x1="212.7" y1="85.45" x2="210.8" y2="85.45" stroke="#111" stroke-width="0.95" />
<line x1="33.4" y1="78.15" x2="35.3" y2="78.15" stroke="#111" stroke-width="0.95" />
<line x1="212.7" y1="78.15" x2="210.8" y2="78.15" stroke="#111" stroke-width="0.95" />
<line x1="33.4" y1="70.85" x2="35.3" y2="70.85" stroke="#111" stroke-width="0.95" />
<line x1="212.7" y1="70.85" x2="210.8" y2="70.85" stroke="#111" stroke-width="0.95" />
<line x1="33.4" y1="63.55" x2="35.3" y2="63.55" stroke="#111" stroke-width="0.95" />
<line x1="212.7" y1="63.55" x2="210.8" y2="63.55" stroke="#111" stroke-width="0.95" />
<line x1="33.4" y1="56.25" x2="35.3" y2="56.25" stroke="#111" stroke-width="0.95" />
<line x1="212.7" y1="56.25" x2="210.8" y2="56.25" stroke="#111" stroke-width="0.95" />
<line x1="33.4" y1="48.95" x2="35.3" y2="48.95" stroke="#111" stroke-width="0.95" />
<line x1="212.7" y1="48.95" x2="210.8" y2="48.95" stroke="#111" stroke-width="0.95" />
<line x1="33.4" y1="41.65" x2="35.3" y2="41.65" stroke="#111" stroke-width="0.95" />
<line x1="212.7" y1="41.65" x2="210.8" y2="41.65" stroke="#111" stroke-width="0.95" />
<line x1="33.4" y1="34.35" x2="35.3" y2="34.35" stroke="#111" stroke-width="0.95" />
<line x1="212.7" y1="34.35" x2="210.8" y2="34.35" stroke="#111" stroke-width="0.95" />
<line x1="33.4" y1="27.05" x2="35.3" y2="27.05" stroke="#111" stroke-width="0.95" />
<line x1="212.7" y1="27.05" x2="210.8" y2="27.05" stroke="#111" stroke-width="0.95" />
<line x1="33.4" y1="19.75" x2="35.3" y2="19.75" stroke="#111" stroke-width="0.95" />
<line x1="212.7" y1="19.75" x2="210.8" y2="19.75" stroke="#111" stroke-width="0.95" />
<rect x="33.4" y="19.4" width="179.3" height="128.1" fill="none" stroke="#111" stroke-width="1.2"/>
<text x="36.95" y="157.3" font-size="7.4" text-anchor="middle" font-weight="bold" fill="#000" stroke="#000" stroke-width="0.16" >−2</text>
<text x="51.3" y="157.3" font-size="7.4" text-anchor="middle" font-weight="bold" fill="#000" stroke="#000" stroke-width="0.16" >0</text>
<text x="65.65" y="157.3" font-size="7.4" text-anchor="middle" font-weight="bold" fill="#000" stroke="#000" stroke-width="0.16" >2</text>
<text x="80" y="157.3" font-size="7.4" text-anchor="middle" font-weight="bold" fill="#000" stroke="#000" stroke-width="0.16" >4</text>
<text x="94.36" y="157.3" font-size="7.4" text-anchor="middle" font-weight="bold" fill="#000" stroke="#000" stroke-width="0.16" >6</text>
<text x="108.71" y="157.3" font-size="7.4" text-anchor="middle" font-weight="bold" fill="#000" stroke="#000" stroke-width="0.16" >8</text>
<text x="123.06" y="157.3" font-size="7.4" text-anchor="middle" font-weight="bold" fill="#000" stroke="#000" stroke-width="0.16" >10</text>
<text x="137.41" y="157.3" font-size="7.4" text-anchor="middle" font-weight="bold" fill="#000" stroke="#000" stroke-width="0.16" >12</text>
<text x="151.76" y="157.3" font-size="7.4" text-anchor="middle" font-weight="bold" fill="#000" stroke="#000" stroke-width="0.16" >14</text>
<text x="166.12" y="157.3" font-size="7.4" text-anchor="middle" font-weight="bold" fill="#000" stroke="#000" stroke-width="0.16" >16</text>
<text x="180.47" y="157.3" font-size="7.4" text-anchor="middle" font-weight="bold" fill="#000" stroke="#000" stroke-width="0.16" >18</text>
<text x="194.82" y="157.3" font-size="7.4" text-anchor="middle" font-weight="bold" fill="#000" stroke="#000" stroke-width="0.16" >20</text>
<text x="209.17" y="157.3" font-size="7.4" text-anchor="middle" font-weight="bold" fill="#000" stroke="#000" stroke-width="0.16" >22</text>
<text x="30.2" y="150.1" font-size="7.4" text-anchor="end" font-weight="bold" fill="#000" stroke="#000" stroke-width="0.16" >540</text>
<text x="30.2" y="142.8" font-size="7.4" text-anchor="end" font-weight="bold" fill="#000" stroke="#000" stroke-width="0.16" >550</text>
<text x="30.2" y="135.5" font-size="7.4" text-anchor="end" font-weight="bold" fill="#000" stroke="#000" stroke-width="0.16" >560</text>
<text x="30.2" y="128.2" font-size="7.4" text-anchor="end" font-weight="bold" fill="#000" stroke="#000" stroke-width="0.16" >570</text>
<text x="30.2" y="120.9" font-size="7.4" text-anchor="end" font-weight="bold" fill="#000" stroke="#000" stroke-width="0.16" >580</text>
<text x="30.2" y="113.6" font-size="7.4" text-anchor="end" font-weight="bold" fill="#000" stroke="#000" stroke-width="0.16" >590</text>
<text x="30.2" y="106.3" font-size="7.4" text-anchor="end" font-weight="bold" fill="#000" stroke="#000" stroke-width="0.16" >600</text>
<text x="30.2" y="99" font-size="7.4" text-anchor="end" font-weight="bold" fill="#000" stroke="#000" stroke-width="0.16" >610</text>
<text x="30.2" y="91.7" font-size="7.4" text-anchor="end" font-weight="bold" fill="#000" stroke="#000" stroke-width="0.16" >620</text>
<text x="30.2" y="84.4" font-size="7.4" text-anchor="end" font-weight="bold" fill="#000" stroke="#000" stroke-width="0.16" >630</text>
<text x="30.2" y="77.1" font-size="7.4" text-anchor="end" font-weight="bold" fill="#000" stroke="#000" stroke-width="0.16" >640</text>
<text x="30.2" y="69.8" font-size="7.4" text-anchor="end" font-weight="bold" fill="#000" stroke="#000" stroke-width="0.16" >650</text>
<text x="30.2" y="62.5" font-size="7.4" text-anchor="end" font-weight="bold" fill="#000" stroke="#000" stroke-width="0.16" >660</text>
<text x="30.2" y="55.2" font-size="7.4" text-anchor="end" font-weight="bold" fill="#000" stroke="#000" stroke-width="0.16" >670</text>
<text x="30.2" y="47.9" font-size="7.4" text-anchor="end" font-weight="bold" fill="#000" stroke="#000" stroke-width="0.16" >680</text>
<text x="30.2" y="40.6" font-size="7.4" text-anchor="end" font-weight="bold" fill="#000" stroke="#000" stroke-width="0.16" >690</text>
<text x="30.2" y="33.3" font-size="7.4" text-anchor="end" font-weight="bold" fill="#000" stroke="#000" stroke-width="0.16" >700</text>
<text x="30.2" y="26" font-size="7.4" text-anchor="end" font-weight="bold" fill="#000" stroke="#000" stroke-width="0.16" >710</text>
<text x="0" y="10.6" font-size="13.8" text-anchor="start" font-weight="bold" fill="#000" stroke="#000" stroke-width="0.16" >a</text>
<text x="77.4" y="11.9" font-size="7.2" text-anchor="start" font-weight="bold" fill="#ff1a1a" stroke="#ff1a1a" stroke-width="0.16" textLength="103.6" lengthAdjust="spacingAndGlyphs" >Only membrane radius varied</text>
<text x="10.2" y="80.8" font-size="7.2" text-anchor="middle" font-weight="bold" fill="#000" stroke="#000" stroke-width="0.16" textLength="58.8" lengthAdjust="spacingAndGlyphs" transform="rotate(-90 10.2 80.8)" >Capacitance (pF)</text>
<text x="102.6" y="167.5" font-size="7.2" text-anchor="start" font-weight="bold" fill="#000" stroke="#000" stroke-width="0.16" textLength="53.3" lengthAdjust="spacingAndGlyphs" >Pressure (MPa)</text>
<rect x="38.5" y="21.6" width="56.6" height="26.6" fill="#fff" stroke="#333" stroke-width="0.8"/>
<line x1="39.6" y1="26.9" x2="54.8" y2="26.9" stroke="#111111" stroke-width="1.2" />
<text x="57.8" y="28.7" font-size="5.2" text-anchor="start" font-weight="bold" fill="#111111" stroke="#111111" stroke-width="0.16" textLength="33.3" lengthAdjust="spacingAndGlyphs" >Radius 30 µm</text>
<line x1="39.6" y1="35.1" x2="54.8" y2="35.1" stroke="#ff1a1a" stroke-width="1.2" />
<text x="57.8" y="36.9" font-size="5.2" text-anchor="start" font-weight="bold" fill="#ff1a1a" stroke="#ff1a1a" stroke-width="0.16" textLength="33.3" lengthAdjust="spacingAndGlyphs" >Radius 34 µm</text>
<line x1="39.6" y1="43.9" x2="54.8" y2="43.9" stroke="#1a1aff" stroke-width="1.2" />
<text x="57.8" y="45.7" font-size="5.2" text-anchor="start" font-weight="bold" fill="#1a1aff" stroke="#1a1aff" stroke-width="0.16" textLength="33.3" lengthAdjust="spacingAndGlyphs" >Radius 38 µm</text>
<text x="76.7" y="98.6" font-size="5.6" text-anchor="start" font-weight="bold" fill="#111111" stroke="#111111" stroke-width="0.16" textLength="36.5" lengthAdjust="spacingAndGlyphs" >(1.82, 602.88)</text>
<text x="75.9" y="105.6" font-size="5.6" text-anchor="start" font-weight="bold" fill="#ff1a1a" stroke="#ff1a1a" stroke-width="0.16" textLength="36.5" lengthAdjust="spacingAndGlyphs" >(1.07, 595.06)</text>
<text x="75.9" y="111.9" font-size="5.6" text-anchor="start" font-weight="bold" fill="#1a1aff" stroke="#1a1aff" stroke-width="0.16" textLength="36.5" lengthAdjust="spacingAndGlyphs" >(0.65, 585.97)</text>
<text x="61" y="119.8" font-size="5.6" text-anchor="start" font-weight="bold" fill="#111111" stroke="#111111" stroke-width="0.16" textLength="36.5" lengthAdjust="spacingAndGlyphs" >(0.00, 583.61)</text>
<text x="61" y="127.8" font-size="5.6" text-anchor="start" font-weight="bold" fill="#ff1a1a" stroke="#ff1a1a" stroke-width="0.16" textLength="36.5" lengthAdjust="spacingAndGlyphs" >(0.00, 570.42)</text>
<text x="61" y="135.7" font-size="5.6" text-anchor="start" font-weight="bold" fill="#1a1aff" stroke="#1a1aff" stroke-width="0.16" textLength="36.5" lengthAdjust="spacingAndGlyphs" >(0.00, 555.94)</text>
<text x="148.6" y="31.1" font-size="5.6" text-anchor="start" font-weight="bold" fill="#1a1aff" stroke="#1a1aff" stroke-width="0.16" textLength="39.1" lengthAdjust="spacingAndGlyphs" >(20.00, 699.50)</text>
<text x="148.6" y="49.1" font-size="5.6" text-anchor="start" font-weight="bold" fill="#ff1a1a" stroke="#ff1a1a" stroke-width="0.16" textLength="39.1" lengthAdjust="spacingAndGlyphs" >(20.00, 674.60)</text>
<text x="147.8" y="63.1" font-size="5.6" text-anchor="start" font-weight="bold" fill="#111111" stroke="#111111" stroke-width="0.16" textLength="39.4" lengthAdjust="spacingAndGlyphs" >(20.00, 654.39)</text>
<line x1="76.5" y1="96.8" x2="64.4" y2="101.6" stroke="#111111" stroke-width="0.65" stroke-dasharray="1.0 0.9" stroke-opacity="0.7"/>
<line x1="75.5" y1="103.6" x2="59" y2="108.1" stroke="#ff1a1a" stroke-width="0.65" stroke-dasharray="1.0 0.9" stroke-opacity="0.7"/>
<line x1="75.5" y1="109.9" x2="56" y2="114.6" stroke="#1a1aff" stroke-width="0.65" stroke-dasharray="1.0 0.9" stroke-opacity="0.7"/>
<line x1="60.2" y1="117.6" x2="51.5" y2="115.6" stroke="#111111" stroke-width="0.65" stroke-dasharray="1.0 0.9" stroke-opacity="0.7"/>
<line x1="60" y1="125.8" x2="51.5" y2="125.3" stroke="#ff1a1a" stroke-width="0.65" stroke-dasharray="1.0 0.9" stroke-opacity="0.7"/>
<line x1="60" y1="133.5" x2="51.5" y2="135.6" stroke="#1a1aff" stroke-width="0.65" stroke-dasharray="1.0 0.9" stroke-opacity="0.7"/>
<line x1="188.5" y1="29.5" x2="194.7" y2="30.9" stroke="#1a1aff" stroke-width="0.65" stroke-dasharray="1.0 0.9" stroke-opacity="0.7"/>
<line x1="188.5" y1="47.3" x2="194.7" y2="49.3" stroke="#ff1a1a" stroke-width="0.65" stroke-dasharray="1.0 0.9" stroke-opacity="0.7"/>
<line x1="188" y1="61.5" x2="194.7" y2="64" stroke="#111111" stroke-width="0.65" stroke-dasharray="1.0 0.9" stroke-opacity="0.7"/>
<line x1="267.61" y1="19.5" x2="267.61" y2="147.4" stroke="#ebebeb" stroke-width="0.6" />
<line x1="274.9" y1="19.5" x2="274.9" y2="147.4" stroke="#ebebeb" stroke-width="0.6" />
<line x1="282.2" y1="19.5" x2="282.2" y2="147.4" stroke="#ebebeb" stroke-width="0.6" />
<line x1="289.5" y1="19.5" x2="289.5" y2="147.4" stroke="#ebebeb" stroke-width="0.6" />
<line x1="296.79" y1="19.5" x2="296.79" y2="147.4" stroke="#ebebeb" stroke-width="0.6" />
<line x1="304.09" y1="19.5" x2="304.09" y2="147.4" stroke="#ebebeb" stroke-width="0.6" />
<line x1="311.38" y1="19.5" x2="311.38" y2="147.4" stroke="#ebebeb" stroke-width="0.6" />
<line x1="318.68" y1="19.5" x2="318.68" y2="147.4" stroke="#ebebeb" stroke-width="0.6" />
<line x1="325.98" y1="19.5" x2="325.98" y2="147.4" stroke="#ebebeb" stroke-width="0.6" />
<line x1="333.27" y1="19.5" x2="333.27" y2="147.4" stroke="#ebebeb" stroke-width="0.6" />
<line x1="340.57" y1="19.5" x2="340.57" y2="147.4" stroke="#ebebeb" stroke-width="0.6" />
<line x1="347.86" y1="19.5" x2="347.86" y2="147.4" stroke="#ebebeb" stroke-width="0.6" />
<line x1="355.16" y1="19.5" x2="355.16" y2="147.4" stroke="#ebebeb" stroke-width="0.6" />
<line x1="362.46" y1="19.5" x2="362.46" y2="147.4" stroke="#ebebeb" stroke-width="0.6" />
<line x1="369.75" y1="19.5" x2="369.75" y2="147.4" stroke="#ebebeb" stroke-width="0.6" />
<line x1="377.05" y1="19.5" x2="377.05" y2="147.4" stroke="#ebebeb" stroke-width="0.6" />
<line x1="384.34" y1="19.5" x2="384.34" y2="147.4" stroke="#ebebeb" stroke-width="0.6" />
<line x1="391.64" y1="19.5" x2="391.64" y2="147.4" stroke="#ebebeb" stroke-width="0.6" />
<line x1="398.94" y1="19.5" x2="398.94" y2="147.4" stroke="#ebebeb" stroke-width="0.6" />
<line x1="406.23" y1="19.5" x2="406.23" y2="147.4" stroke="#ebebeb" stroke-width="0.6" />
<line x1="413.53" y1="19.5" x2="413.53" y2="147.4" stroke="#ebebeb" stroke-width="0.6" />
<line x1="420.82" y1="19.5" x2="420.82" y2="147.4" stroke="#ebebeb" stroke-width="0.6" />
<line x1="428.12" y1="19.5" x2="428.12" y2="147.4" stroke="#ebebeb" stroke-width="0.6" />
<line x1="435.42" y1="19.5" x2="435.42" y2="147.4" stroke="#ebebeb" stroke-width="0.6" />
<line x1="267.6" y1="143.14" x2="442.7" y2="143.14" stroke="#ebebeb" stroke-width="0.6" />
<line x1="267.6" y1="138.87" x2="442.7" y2="138.87" stroke="#ebebeb" stroke-width="0.6" />
<line x1="267.6" y1="134.61" x2="442.7" y2="134.61" stroke="#ebebeb" stroke-width="0.6" />
<line x1="267.6" y1="130.35" x2="442.7" y2="130.35" stroke="#ebebeb" stroke-width="0.6" />
<line x1="267.6" y1="126.08" x2="442.7" y2="126.08" stroke="#ebebeb" stroke-width="0.6" />
<line x1="267.6" y1="121.82" x2="442.7" y2="121.82" stroke="#ebebeb" stroke-width="0.6" />
<line x1="267.6" y1="117.56" x2="442.7" y2="117.56" stroke="#ebebeb" stroke-width="0.6" />
<line x1="267.6" y1="113.29" x2="442.7" y2="113.29" stroke="#ebebeb" stroke-width="0.6" />
<line x1="267.6" y1="109.03" x2="442.7" y2="109.03" stroke="#ebebeb" stroke-width="0.6" />
<line x1="267.6" y1="104.76" x2="442.7" y2="104.76" stroke="#ebebeb" stroke-width="0.6" />
<line x1="267.6" y1="100.5" x2="442.7" y2="100.5" stroke="#ebebeb" stroke-width="0.6" />
<line x1="267.6" y1="96.24" x2="442.7" y2="96.24" stroke="#ebebeb" stroke-width="0.6" />
<line x1="267.6" y1="91.97" x2="442.7" y2="91.97" stroke="#ebebeb" stroke-width="0.6" />
<line x1="267.6" y1="87.71" x2="442.7" y2="87.71" stroke="#ebebeb" stroke-width="0.6" />
<line x1="267.6" y1="83.45" x2="442.7" y2="83.45" stroke="#ebebeb" stroke-width="0.6" />
<line x1="267.6" y1="79.18" x2="442.7" y2="79.18" stroke="#ebebeb" stroke-width="0.6" />
<line x1="267.6" y1="74.92" x2="442.7" y2="74.92" stroke="#ebebeb" stroke-width="0.6" />
<line x1="267.6" y1="70.66" x2="442.7" y2="70.66" stroke="#ebebeb" stroke-width="0.6" />
<line x1="267.6" y1="66.39" x2="442.7" y2="66.39" stroke="#ebebeb" stroke-width="0.6" />
<line x1="267.6" y1="62.13" x2="442.7" y2="62.13" stroke="#ebebeb" stroke-width="0.6" />
<line x1="267.6" y1="57.87" x2="442.7" y2="57.87" stroke="#ebebeb" stroke-width="0.6" />
<line x1="267.6" y1="53.6" x2="442.7" y2="53.6" stroke="#ebebeb" stroke-width="0.6" />
<line x1="267.6" y1="49.34" x2="442.7" y2="49.34" stroke="#ebebeb" stroke-width="0.6" />
<line x1="267.6" y1="45.08" x2="442.7" y2="45.08" stroke="#ebebeb" stroke-width="0.6" />
<line x1="267.6" y1="40.81" x2="442.7" y2="40.81" stroke="#ebebeb" stroke-width="0.6" />
<line x1="267.6" y1="36.55" x2="442.7" y2="36.55" stroke="#ebebeb" stroke-width="0.6" />
<line x1="267.6" y1="32.29" x2="442.7" y2="32.29" stroke="#ebebeb" stroke-width="0.6" />
<line x1="267.6" y1="28.02" x2="442.7" y2="28.02" stroke="#ebebeb" stroke-width="0.6" />
<line x1="267.6" y1="23.76" x2="442.7" y2="23.76" stroke="#ebebeb" stroke-width="0.6" />
<line x1="267.61" y1="19.5" x2="267.61" y2="147.4" stroke="#d4d4d4" stroke-width="0.6" />
<line x1="282.2" y1="19.5" x2="282.2" y2="147.4" stroke="#d4d4d4" stroke-width="0.6" />
<line x1="296.79" y1="19.5" x2="296.79" y2="147.4" stroke="#d4d4d4" stroke-width="0.6" />
<line x1="311.38" y1="19.5" x2="311.38" y2="147.4" stroke="#d4d4d4" stroke-width="0.6" />
<line x1="325.98" y1="19.5" x2="325.98" y2="147.4" stroke="#d4d4d4" stroke-width="0.6" />
<line x1="340.57" y1="19.5" x2="340.57" y2="147.4" stroke="#d4d4d4" stroke-width="0.6" />
<line x1="355.16" y1="19.5" x2="355.16" y2="147.4" stroke="#d4d4d4" stroke-width="0.6" />
<line x1="369.75" y1="19.5" x2="369.75" y2="147.4" stroke="#d4d4d4" stroke-width="0.6" />
<line x1="384.34" y1="19.5" x2="384.34" y2="147.4" stroke="#d4d4d4" stroke-width="0.6" />
<line x1="398.94" y1="19.5" x2="398.94" y2="147.4" stroke="#d4d4d4" stroke-width="0.6" />
<line x1="413.53" y1="19.5" x2="413.53" y2="147.4" stroke="#d4d4d4" stroke-width="0.6" />
<line x1="428.12" y1="19.5" x2="428.12" y2="147.4" stroke="#d4d4d4" stroke-width="0.6" />
<line x1="267.6" y1="138.87" x2="442.7" y2="138.87" stroke="#d4d4d4" stroke-width="0.6" />
<line x1="267.6" y1="130.35" x2="442.7" y2="130.35" stroke="#d4d4d4" stroke-width="0.6" />
<line x1="267.6" y1="121.82" x2="442.7" y2="121.82" stroke="#d4d4d4" stroke-width="0.6" />
<line x1="267.6" y1="113.29" x2="442.7" y2="113.29" stroke="#d4d4d4" stroke-width="0.6" />
<line x1="267.6" y1="104.76" x2="442.7" y2="104.76" stroke="#d4d4d4" stroke-width="0.6" />
<line x1="267.6" y1="96.24" x2="442.7" y2="96.24" stroke="#d4d4d4" stroke-width="0.6" />
<line x1="267.6" y1="87.71" x2="442.7" y2="87.71" stroke="#d4d4d4" stroke-width="0.6" />
<line x1="267.6" y1="79.18" x2="442.7" y2="79.18" stroke="#d4d4d4" stroke-width="0.6" />
<line x1="267.6" y1="70.66" x2="442.7" y2="70.66" stroke="#d4d4d4" stroke-width="0.6" />
<line x1="267.6" y1="62.13" x2="442.7" y2="62.13" stroke="#d4d4d4" stroke-width="0.6" />
<line x1="267.6" y1="53.6" x2="442.7" y2="53.6" stroke="#d4d4d4" stroke-width="0.6" />
<line x1="267.6" y1="45.08" x2="442.7" y2="45.08" stroke="#d4d4d4" stroke-width="0.6" />
<line x1="267.6" y1="36.55" x2="442.7" y2="36.55" stroke="#d4d4d4" stroke-width="0.6" />
<line x1="267.6" y1="28.02" x2="442.7" y2="28.02" stroke="#d4d4d4" stroke-width="0.6" />
<path d="M282.2,137.5 L282.3,137.37 L282.4,137.14 L282.5,136.84 L282.6,136.48 L282.7,136.07 L282.8,135.62 L282.9,135.13 L283.01,134.6 L283.11,134.04 L283.21,133.45 L283.31,132.83 L283.41,132.18 L283.51,131.5 L283.61,130.8 L283.71,130.06 L283.81,129.31 L283.91,128.53 L284.01,127.73 L284.11,126.9 L284.21,126.05 L284.31,125.18 L284.41,124.29 L284.51,123.38 L284.62,122.45 L284.72,121.5 L284.82,120.53 L284.92,119.54 L285.02,118.54 L285.12,117.51 L285.12,117.51 L285.84,116.55 L286.56,113.67 L287.27,110.71 L287.99,107.94 L288.71,105.4 L289.43,103.07 L290.15,100.92 L290.87,98.93 L291.59,97.09 L292.3,95.36 L293.02,93.75 L293.74,92.23 L294.46,90.79 L295.18,89.44 L295.9,88.15 L296.62,86.92 L297.33,85.75 L298.05,84.63 L298.77,83.56 L299.49,82.54 L300.21,81.55 L300.93,80.6 L301.65,79.69 L302.36,78.81 L303.08,77.95 L303.8,77.13 L304.52,76.33 L305.24,75.56 L305.96,74.81 L306.68,74.09 L307.4,73.38 L308.11,72.69 L308.83,72.03 L309.55,71.38 L310.27,70.74 L310.99,70.13 L311.71,69.52 L312.43,68.94 L313.14,68.36 L313.86,67.8 L314.58,67.26 L315.3,66.72 L316.02,66.2 L316.74,65.69 L317.46,65.18 L318.17,64.69 L318.89,64.21 L319.61,63.74 L320.33,63.28 L321.05,62.82 L321.77,62.38 L322.49,61.94 L323.2,61.51 L323.92,61.09 L324.64,60.68 L325.36,60.27 L326.08,59.87 L326.8,59.48 L327.52,59.09 L328.23,58.71 L328.95,58.34 L329.67,57.97 L330.39,57.61 L331.11,57.25 L331.83,56.9 L332.55,56.55 L333.26,56.21 L333.98,55.88 L334.7,55.54 L335.42,55.22 L336.14,54.9 L336.86,54.58 L337.58,54.27 L338.29,53.96 L339.01,53.65 L339.73,53.35 L340.45,53.06 L341.17,52.76 L341.89,52.48 L342.61,52.19 L343.33,51.91 L344.04,51.63 L344.76,51.36 L345.48,51.09 L346.2,50.82 L346.92,50.55 L347.64,50.29 L348.36,50.03 L349.07,49.78 L349.79,49.53 L350.51,49.28 L351.23,49.03 L351.95,48.79 L352.67,48.55 L353.39,48.31 L354.1,48.07 L354.82,47.84 L355.54,47.61 L356.26,47.38 L356.98,47.15 L357.7,46.93 L358.42,46.71 L359.13,46.49 L359.85,46.27 L360.57,46.06 L361.29,45.84 L362.01,45.63 L362.73,45.42 L363.45,45.22 L364.16,45.01 L364.88,44.81 L365.6,44.61 L366.32,44.41 L367.04,44.22 L367.76,44.02 L368.48,43.83 L369.19,43.64 L369.91,43.45 L370.63,43.26 L371.35,43.07 L372.07,42.89 L372.79,42.7 L373.51,42.52 L374.22,42.34 L374.94,42.17 L375.66,41.99 L376.38,41.81 L377.1,41.64 L377.82,41.47 L378.54,41.3 L379.26,41.13 L379.97,40.96 L380.69,40.79 L381.41,40.63 L382.13,40.46 L382.85,40.3 L383.57,40.14 L384.29,39.98 L385,39.82 L385.72,39.66 L386.44,39.51 L387.16,39.35 L387.88,39.2 L388.6,39.05 L389.32,38.9 L390.03,38.75 L390.75,38.6 L391.47,38.45 L392.19,38.3 L392.91,38.16 L393.63,38.01 L394.35,37.87 L395.06,37.72 L395.78,37.58 L396.5,37.44 L397.22,37.3 L397.94,37.16 L398.66,37.03 L399.38,36.89 L400.09,36.75 L400.81,36.62 L401.53,36.48 L402.25,36.35 L402.97,36.22 L403.69,36.09 L404.41,35.96 L405.12,35.83 L405.84,35.7 L406.56,35.57 L407.28,35.45 L408,35.32 L408.72,35.19 L409.44,35.07 L410.15,34.95 L410.87,34.82 L411.59,34.7 L412.31,34.58 L413.03,34.46 L413.75,34.34 L414.47,34.22 L415.19,34.1 L415.9,33.99 L416.62,33.87 L417.34,33.75 L418.06,33.64 L418.78,33.52 L419.5,33.41 L420.22,33.3 L420.93,33.19 L421.65,33.07 L422.37,32.96 L423.09,32.85 L423.81,32.74 L424.53,32.63 L425.25,32.53 L425.96,32.42 L426.68,32.31 L427.4,32.2 L428.12,32.1" fill="none" stroke="#111111" stroke-width="1.2" stroke-linejoin="round" />
<path d="M282.2,138.51 L282.47,138.51 L282.74,138.49 L283.01,138.44 L283.28,138.37 L283.55,138.26 L283.82,138.11 L284.08,137.91 L284.35,137.68 L284.62,137.39 L284.89,137.05 L285.16,136.65 L285.43,136.2 L285.7,135.69 L285.97,135.11 L286.24,134.47 L286.51,133.76 L286.78,132.99 L287.05,132.14 L287.31,131.21 L287.58,130.22 L287.85,129.14 L288.12,127.98 L288.39,126.75 L288.66,125.42 L288.93,124.02 L289.2,122.52 L289.47,120.94 L289.74,119.27 L290.01,117.5 L290.01,117.5 L290.7,116.32 L291.39,115.16 L292.09,114.03 L292.78,112.91 L293.48,111.82 L294.17,110.75 L294.86,109.7 L295.56,108.67 L296.25,107.66 L296.95,106.68 L297.64,105.71 L298.34,104.76 L299.03,103.83 L299.72,102.92 L300.42,102.02 L301.11,101.15 L301.81,100.29 L302.5,99.45 L303.19,98.62 L303.89,97.81 L304.58,97.02 L305.28,96.24 L305.97,95.48 L306.66,94.73 L307.36,94 L308.05,93.28 L308.75,92.58 L309.44,91.89 L310.13,91.21 L310.83,90.55 L311.52,89.9 L312.22,89.26 L312.91,88.63 L313.6,88.02 L314.3,87.42 L314.99,86.83 L315.69,86.25 L316.38,85.69 L317.07,85.13 L317.77,84.59 L318.46,84.05 L319.16,83.53 L319.85,83.01 L320.54,82.51 L321.24,82.02 L321.93,81.53 L322.63,81.06 L323.32,80.59 L324.01,80.13 L324.71,79.68 L325.4,79.24 L326.1,78.81 L326.79,78.39 L327.48,77.97 L328.18,77.57 L328.87,77.16 L329.57,76.77 L330.26,76.39 L330.95,76.01 L331.65,75.64 L332.34,75.27 L333.04,74.92 L333.73,74.57 L334.43,74.22 L335.12,73.88 L335.81,73.55 L336.51,73.22 L337.2,72.9 L337.9,72.59 L338.59,72.28 L339.28,71.98 L339.98,71.68 L340.67,71.39 L341.37,71.1 L342.06,70.82 L342.75,70.54 L343.45,70.26 L344.14,70 L344.84,69.73 L345.53,69.47 L346.22,69.22 L346.92,68.96 L347.61,68.72 L348.31,68.47 L349,68.23 L349.69,68 L350.39,67.77 L351.08,67.54 L351.78,67.31 L352.47,67.09 L353.16,66.87 L353.86,66.66 L354.55,66.45 L355.25,66.24 L355.94,66.03 L356.63,65.83 L357.33,65.63 L358.02,65.43 L358.72,65.23 L359.41,65.04 L360.1,64.85 L360.8,64.66 L361.49,64.48 L362.19,64.29 L362.88,64.11 L363.57,63.93 L364.27,63.76 L364.96,63.58 L365.66,63.41 L366.35,63.24 L367.04,63.07 L367.74,62.9 L368.43,62.74 L369.13,62.57 L369.82,62.41 L370.51,62.25 L371.21,62.09 L371.9,61.93 L372.6,61.77 L373.29,61.61 L373.99,61.46 L374.68,61.3 L375.37,61.15 L376.07,61 L376.76,60.85 L377.46,60.7 L378.15,60.55 L378.84,60.4 L379.54,60.25 L380.23,60.11 L380.93,59.96 L381.62,59.82 L382.31,59.67 L383.01,59.53 L383.7,59.38 L384.4,59.24 L385.09,59.1 L385.78,58.95 L386.48,58.81 L387.17,58.67 L387.87,58.53 L388.56,58.38 L389.25,58.24 L389.95,58.1 L390.64,57.96 L391.34,57.82 L392.03,57.68 L392.72,57.54 L393.42,57.4 L394.11,57.25 L394.81,57.11 L395.5,56.97 L396.19,56.83 L396.89,56.69 L397.58,56.55 L398.28,56.4 L398.97,56.26 L399.66,56.12 L400.36,55.98 L401.05,55.83 L401.75,55.69 L402.44,55.54 L403.13,55.4 L403.83,55.25 L404.52,55.11 L405.22,54.96 L405.91,54.81 L406.6,54.67 L407.3,54.52 L407.99,54.37 L408.69,54.22 L409.38,54.07 L410.08,53.92 L410.77,53.77 L411.46,53.61 L412.16,53.46 L412.85,53.31 L413.55,53.15 L414.24,53 L414.93,52.84 L415.63,52.68 L416.32,52.52 L417.02,52.36 L417.71,52.2 L418.4,52.04 L419.1,51.88 L419.79,51.72 L420.49,51.55 L421.18,51.39 L421.87,51.22 L422.57,51.06 L423.26,50.89 L423.96,50.72 L424.65,50.55 L425.34,50.38 L426.04,50.21 L426.73,50.03 L427.43,49.86 L428.12,49.68" fill="none" stroke="#ff1a1a" stroke-width="1.2" stroke-linejoin="round" />
<path d="M282.2,138.84 L282.74,138.81 L283.29,138.74 L283.83,138.61 L284.37,138.43 L284.92,138.21 L285.46,137.93 L286,137.6 L286.55,137.22 L287.09,136.79 L287.63,136.31 L288.18,135.78 L288.72,135.19 L289.26,134.56 L289.81,133.88 L290.35,133.14 L290.89,132.36 L291.44,131.53 L291.98,130.64 L292.53,129.7 L293.07,128.72 L293.61,127.68 L294.16,126.59 L294.7,125.45 L295.24,124.26 L295.79,123.02 L296.33,121.73 L296.87,120.39 L297.42,119 L297.96,117.56 L297.96,117.56 L298.61,116.91 L299.27,116.27 L299.92,115.63 L300.58,115.01 L301.23,114.39 L301.88,113.78 L302.54,113.18 L303.19,112.59 L303.85,112 L304.5,111.42 L305.15,110.85 L305.81,110.29 L306.46,109.73 L307.12,109.18 L307.77,108.64 L308.42,108.1 L309.08,107.57 L309.73,107.05 L310.39,106.54 L311.04,106.02 L311.69,105.52 L312.35,105.02 L313,104.53 L313.66,104.05 L314.31,103.57 L314.97,103.09 L315.62,102.62 L316.27,102.16 L316.93,101.7 L317.58,101.25 L318.24,100.81 L318.89,100.37 L319.54,99.93 L320.2,99.5 L320.85,99.07 L321.51,98.65 L322.16,98.24 L322.81,97.83 L323.47,97.42 L324.12,97.02 L324.78,96.62 L325.43,96.23 L326.08,95.84 L326.74,95.46 L327.39,95.08 L328.05,94.71 L328.7,94.34 L329.35,93.97 L330.01,93.61 L330.66,93.25 L331.32,92.9 L331.97,92.55 L332.63,92.2 L333.28,91.86 L333.93,91.52 L334.59,91.19 L335.24,90.86 L335.9,90.53 L336.55,90.21 L337.2,89.89 L337.86,89.57 L338.51,89.26 L339.17,88.95 L339.82,88.64 L340.47,88.34 L341.13,88.04 L341.78,87.74 L342.44,87.45 L343.09,87.16 L343.74,86.87 L344.4,86.58 L345.05,86.3 L345.71,86.02 L346.36,85.75 L347.01,85.48 L347.67,85.21 L348.32,84.94 L348.98,84.67 L349.63,84.41 L350.29,84.15 L350.94,83.9 L351.59,83.64 L352.25,83.39 L352.9,83.14 L353.56,82.89 L354.21,82.65 L354.86,82.41 L355.52,82.17 L356.17,81.93 L356.83,81.7 L357.48,81.47 L358.13,81.24 L358.79,81.01 L359.44,80.78 L360.1,80.56 L360.75,80.34 L361.4,80.12 L362.06,79.9 L362.71,79.68 L363.37,79.47 L364.02,79.26 L364.67,79.05 L365.33,78.84 L365.98,78.64 L366.64,78.43 L367.29,78.23 L367.95,78.03 L368.6,77.83 L369.25,77.64 L369.91,77.44 L370.56,77.25 L371.22,77.06 L371.87,76.87 L372.52,76.68 L373.18,76.49 L373.83,76.31 L374.49,76.12 L375.14,75.94 L375.79,75.76 L376.45,75.58 L377.1,75.41 L377.76,75.23 L378.41,75.06 L379.06,74.88 L379.72,74.71 L380.37,74.54 L381.03,74.37 L381.68,74.21 L382.33,74.04 L382.99,73.88 L383.64,73.71 L384.3,73.55 L384.95,73.39 L385.61,73.23 L386.26,73.07 L386.91,72.91 L387.57,72.76 L388.22,72.6 L388.88,72.45 L389.53,72.3 L390.18,72.14 L390.84,71.99 L391.49,71.85 L392.15,71.7 L392.8,71.55 L393.45,71.4 L394.11,71.26 L394.76,71.11 L395.42,70.97 L396.07,70.83 L396.72,70.69 L397.38,70.55 L398.03,70.41 L398.69,70.27 L399.34,70.13 L399.99,70 L400.65,69.86 L401.3,69.73 L401.96,69.59 L402.61,69.46 L403.27,69.33 L403.92,69.2 L404.57,69.07 L405.23,68.94 L405.88,68.81 L406.54,68.68 L407.19,68.55 L407.84,68.43 L408.5,68.3 L409.15,68.17 L409.81,68.05 L410.46,67.93 L411.11,67.8 L411.77,67.68 L412.42,67.56 L413.08,67.44 L413.73,67.32 L414.38,67.2 L415.04,67.08 L415.69,66.96 L416.35,66.84 L417,66.73 L417.65,66.61 L418.31,66.49 L418.96,66.38 L419.62,66.26 L420.27,66.15 L420.93,66.03 L421.58,65.92 L422.23,65.81 L422.89,65.7 L423.54,65.58 L424.2,65.47 L424.85,65.36 L425.5,65.25 L426.16,65.14 L426.81,65.03 L427.47,64.92 L428.12,64.82" fill="none" stroke="#1a1aff" stroke-width="1.2" stroke-linejoin="round" />
<line x1="267.61" y1="147.4" x2="267.61" y2="144.5" stroke="#111" stroke-width="0.95" />
<line x1="267.61" y1="19.5" x2="267.61" y2="22.4" stroke="#111" stroke-width="0.95" />
<line x1="282.2" y1="147.4" x2="282.2" y2="144.5" stroke="#111" stroke-width="0.95" />
<line x1="282.2" y1="19.5" x2="282.2" y2="22.4" stroke="#111" stroke-width="0.95" />
<line x1="296.79" y1="147.4" x2="296.79" y2="144.5" stroke="#111" stroke-width="0.95" />
<line x1="296.79" y1="19.5" x2="296.79" y2="22.4" stroke="#111" stroke-width="0.95" />
<line x1="311.38" y1="147.4" x2="311.38" y2="144.5" stroke="#111" stroke-width="0.95" />
<line x1="311.38" y1="19.5" x2="311.38" y2="22.4" stroke="#111" stroke-width="0.95" />
<line x1="325.98" y1="147.4" x2="325.98" y2="144.5" stroke="#111" stroke-width="0.95" />
<line x1="325.98" y1="19.5" x2="325.98" y2="22.4" stroke="#111" stroke-width="0.95" />
<line x1="340.57" y1="147.4" x2="340.57" y2="144.5" stroke="#111" stroke-width="0.95" />
<line x1="340.57" y1="19.5" x2="340.57" y2="22.4" stroke="#111" stroke-width="0.95" />
<line x1="355.16" y1="147.4" x2="355.16" y2="144.5" stroke="#111" stroke-width="0.95" />
<line x1="355.16" y1="19.5" x2="355.16" y2="22.4" stroke="#111" stroke-width="0.95" />
<line x1="369.75" y1="147.4" x2="369.75" y2="144.5" stroke="#111" stroke-width="0.95" />
<line x1="369.75" y1="19.5" x2="369.75" y2="22.4" stroke="#111" stroke-width="0.95" />
<line x1="384.34" y1="147.4" x2="384.34" y2="144.5" stroke="#111" stroke-width="0.95" />
<line x1="384.34" y1="19.5" x2="384.34" y2="22.4" stroke="#111" stroke-width="0.95" />
<line x1="398.94" y1="147.4" x2="398.94" y2="144.5" stroke="#111" stroke-width="0.95" />
<line x1="398.94" y1="19.5" x2="398.94" y2="22.4" stroke="#111" stroke-width="0.95" />
<line x1="413.53" y1="147.4" x2="413.53" y2="144.5" stroke="#111" stroke-width="0.95" />
<line x1="413.53" y1="19.5" x2="413.53" y2="22.4" stroke="#111" stroke-width="0.95" />
<line x1="428.12" y1="147.4" x2="428.12" y2="144.5" stroke="#111" stroke-width="0.95" />
<line x1="428.12" y1="19.5" x2="428.12" y2="22.4" stroke="#111" stroke-width="0.95" />
<line x1="274.9" y1="147.4" x2="274.9" y2="145.5" stroke="#111" stroke-width="0.95" />
<line x1="274.9" y1="19.5" x2="274.9" y2="21.4" stroke="#111" stroke-width="0.95" />
<line x1="289.5" y1="147.4" x2="289.5" y2="145.5" stroke="#111" stroke-width="0.95" />
<line x1="289.5" y1="19.5" x2="289.5" y2="21.4" stroke="#111" stroke-width="0.95" />
<line x1="304.09" y1="147.4" x2="304.09" y2="145.5" stroke="#111" stroke-width="0.95" />
<line x1="304.09" y1="19.5" x2="304.09" y2="21.4" stroke="#111" stroke-width="0.95" />
<line x1="318.68" y1="147.4" x2="318.68" y2="145.5" stroke="#111" stroke-width="0.95" />
<line x1="318.68" y1="19.5" x2="318.68" y2="21.4" stroke="#111" stroke-width="0.95" />
<line x1="333.27" y1="147.4" x2="333.27" y2="145.5" stroke="#111" stroke-width="0.95" />
<line x1="333.27" y1="19.5" x2="333.27" y2="21.4" stroke="#111" stroke-width="0.95" />
<line x1="347.86" y1="147.4" x2="347.86" y2="145.5" stroke="#111" stroke-width="0.95" />
<line x1="347.86" y1="19.5" x2="347.86" y2="21.4" stroke="#111" stroke-width="0.95" />
<line x1="362.46" y1="147.4" x2="362.46" y2="145.5" stroke="#111" stroke-width="0.95" />
<line x1="362.46" y1="19.5" x2="362.46" y2="21.4" stroke="#111" stroke-width="0.95" />
<line x1="377.05" y1="147.4" x2="377.05" y2="145.5" stroke="#111" stroke-width="0.95" />
<line x1="377.05" y1="19.5" x2="377.05" y2="21.4" stroke="#111" stroke-width="0.95" />
<line x1="391.64" y1="147.4" x2="391.64" y2="145.5" stroke="#111" stroke-width="0.95" />
<line x1="391.64" y1="19.5" x2="391.64" y2="21.4" stroke="#111" stroke-width="0.95" />
<line x1="406.23" y1="147.4" x2="406.23" y2="145.5" stroke="#111" stroke-width="0.95" />
<line x1="406.23" y1="19.5" x2="406.23" y2="21.4" stroke="#111" stroke-width="0.95" />
<line x1="420.82" y1="147.4" x2="420.82" y2="145.5" stroke="#111" stroke-width="0.95" />
<line x1="420.82" y1="19.5" x2="420.82" y2="21.4" stroke="#111" stroke-width="0.95" />
<line x1="435.42" y1="147.4" x2="435.42" y2="145.5" stroke="#111" stroke-width="0.95" />
<line x1="435.42" y1="19.5" x2="435.42" y2="21.4" stroke="#111" stroke-width="0.95" />
<line x1="267.6" y1="138.87" x2="270.5" y2="138.87" stroke="#111" stroke-width="0.95" />
<line x1="442.7" y1="138.87" x2="439.8" y2="138.87" stroke="#111" stroke-width="0.95" />
<line x1="267.6" y1="130.35" x2="270.5" y2="130.35" stroke="#111" stroke-width="0.95" />
<line x1="442.7" y1="130.35" x2="439.8" y2="130.35" stroke="#111" stroke-width="0.95" />
<line x1="267.6" y1="121.82" x2="270.5" y2="121.82" stroke="#111" stroke-width="0.95" />
<line x1="442.7" y1="121.82" x2="439.8" y2="121.82" stroke="#111" stroke-width="0.95" />
<line x1="267.6" y1="113.29" x2="270.5" y2="113.29" stroke="#111" stroke-width="0.95" />
<line x1="442.7" y1="113.29" x2="439.8" y2="113.29" stroke="#111" stroke-width="0.95" />
<line x1="267.6" y1="104.76" x2="270.5" y2="104.76" stroke="#111" stroke-width="0.95" />
<line x1="442.7" y1="104.76" x2="439.8" y2="104.76" stroke="#111" stroke-width="0.95" />
<line x1="267.6" y1="96.24" x2="270.5" y2="96.24" stroke="#111" stroke-width="0.95" />
<line x1="442.7" y1="96.24" x2="439.8" y2="96.24" stroke="#111" stroke-width="0.95" />
<line x1="267.6" y1="87.71" x2="270.5" y2="87.71" stroke="#111" stroke-width="0.95" />
<line x1="442.7" y1="87.71" x2="439.8" y2="87.71" stroke="#111" stroke-width="0.95" />
<line x1="267.6" y1="79.18" x2="270.5" y2="79.18" stroke="#111" stroke-width="0.95" />
<line x1="442.7" y1="79.18" x2="439.8" y2="79.18" stroke="#111" stroke-width="0.95" />
<line x1="267.6" y1="70.66" x2="270.5" y2="70.66" stroke="#111" stroke-width="0.95" />
<line x1="442.7" y1="70.66" x2="439.8" y2="70.66" stroke="#111" stroke-width="0.95" />
<line x1="267.6" y1="62.13" x2="270.5" y2="62.13" stroke="#111" stroke-width="0.95" />
<line x1="442.7" y1="62.13" x2="439.8" y2="62.13" stroke="#111" stroke-width="0.95" />
<line x1="267.6" y1="53.6" x2="270.5" y2="53.6" stroke="#111" stroke-width="0.95" />
<line x1="442.7" y1="53.6" x2="439.8" y2="53.6" stroke="#111" stroke-width="0.95" />
<line x1="267.6" y1="45.08" x2="270.5" y2="45.08" stroke="#111" stroke-width="0.95" />
<line x1="442.7" y1="45.08" x2="439.8" y2="45.08" stroke="#111" stroke-width="0.95" />
<line x1="267.6" y1="36.55" x2="270.5" y2="36.55" stroke="#111" stroke-width="0.95" />
<line x1="442.7" y1="36.55" x2="439.8" y2="36.55" stroke="#111" stroke-width="0.95" />
<line x1="267.6" y1="28.02" x2="270.5" y2="28.02" stroke="#111" stroke-width="0.95" />
<line x1="442.7" y1="28.02" x2="439.8" y2="28.02" stroke="#111" stroke-width="0.95" />
<line x1="267.6" y1="143.14" x2="269.5" y2="143.14" stroke="#111" stroke-width="0.95" />
<line x1="442.7" y1="143.14" x2="440.8" y2="143.14" stroke="#111" stroke-width="0.95" />
<line x1="267.6" y1="134.61" x2="269.5" y2="134.61" stroke="#111" stroke-width="0.95" />
<line x1="442.7" y1="134.61" x2="440.8" y2="134.61" stroke="#111" stroke-width="0.95" />
<line x1="267.6" y1="126.08" x2="269.5" y2="126.08" stroke="#111" stroke-width="0.95" />
<line x1="442.7" y1="126.08" x2="440.8" y2="126.08" stroke="#111" stroke-width="0.95" />
<line x1="267.6" y1="117.56" x2="269.5" y2="117.56" stroke="#111" stroke-width="0.95" />
<line x1="442.7" y1="117.56" x2="440.8" y2="117.56" stroke="#111" stroke-width="0.95" />
<line x1="267.6" y1="109.03" x2="269.5" y2="109.03" stroke="#111" stroke-width="0.95" />
<line x1="442.7" y1="109.03" x2="440.8" y2="109.03" stroke="#111" stroke-width="0.95" />
<line x1="267.6" y1="100.5" x2="269.5" y2="100.5" stroke="#111" stroke-width="0.95" />
<line x1="442.7" y1="100.5" x2="440.8" y2="100.5" stroke="#111" stroke-width="0.95" />
<line x1="267.6" y1="91.97" x2="269.5" y2="91.97" stroke="#111" stroke-width="0.95" />
<line x1="442.7" y1="91.97" x2="440.8" y2="91.97" stroke="#111" stroke-width="0.95" />
<line x1="267.6" y1="83.45" x2="269.5" y2="83.45" stroke="#111" stroke-width="0.95" />
<line x1="442.7" y1="83.45" x2="440.8" y2="83.45" stroke="#111" stroke-width="0.95" />
<line x1="267.6" y1="74.92" x2="269.5" y2="74.92" stroke="#111" stroke-width="0.95" />
<line x1="442.7" y1="74.92" x2="440.8" y2="74.92" stroke="#111" stroke-width="0.95" />
<line x1="267.6" y1="66.39" x2="269.5" y2="66.39" stroke="#111" stroke-width="0.95" />
<line x1="442.7" y1="66.39" x2="440.8" y2="66.39" stroke="#111" stroke-width="0.95" />
<line x1="267.6" y1="57.87" x2="269.5" y2="57.87" stroke="#111" stroke-width="0.95" />
<line x1="442.7" y1="57.87" x2="440.8" y2="57.87" stroke="#111" stroke-width="0.95" />
<line x1="267.6" y1="49.34" x2="269.5" y2="49.34" stroke="#111" stroke-width="0.95" />
<line x1="442.7" y1="49.34" x2="440.8" y2="49.34" stroke="#111" stroke-width="0.95" />
<line x1="267.6" y1="40.81" x2="269.5" y2="40.81" stroke="#111" stroke-width="0.95" />
<line x1="442.7" y1="40.81" x2="440.8" y2="40.81" stroke="#111" stroke-width="0.95" />
<line x1="267.6" y1="32.29" x2="269.5" y2="32.29" stroke="#111" stroke-width="0.95" />
<line x1="442.7" y1="32.29" x2="440.8" y2="32.29" stroke="#111" stroke-width="0.95" />
<line x1="267.6" y1="23.76" x2="269.5" y2="23.76" stroke="#111" stroke-width="0.95" />
<line x1="442.7" y1="23.76" x2="440.8" y2="23.76" stroke="#111" stroke-width="0.95" />
<rect x="267.6" y="19.5" width="175.1" height="127.9" fill="none" stroke="#111" stroke-width="1.2"/>
<text x="267.61" y="157.3" font-size="7.4" text-anchor="middle" font-weight="bold" fill="#000" stroke="#000" stroke-width="0.16" >−2</text>
<text x="282.2" y="157.3" font-size="7.4" text-anchor="middle" font-weight="bold" fill="#000" stroke="#000" stroke-width="0.16" >0</text>
<text x="296.79" y="157.3" font-size="7.4" text-anchor="middle" font-weight="bold" fill="#000" stroke="#000" stroke-width="0.16" >2</text>
<text x="311.38" y="157.3" font-size="7.4" text-anchor="middle" font-weight="bold" fill="#000" stroke="#000" stroke-width="0.16" >4</text>
<text x="325.98" y="157.3" font-size="7.4" text-anchor="middle" font-weight="bold" fill="#000" stroke="#000" stroke-width="0.16" >6</text>
<text x="340.57" y="157.3" font-size="7.4" text-anchor="middle" font-weight="bold" fill="#000" stroke="#000" stroke-width="0.16" >8</text>
<text x="355.16" y="157.3" font-size="7.4" text-anchor="middle" font-weight="bold" fill="#000" stroke="#000" stroke-width="0.16" >10</text>
<text x="369.75" y="157.3" font-size="7.4" text-anchor="middle" font-weight="bold" fill="#000" stroke="#000" stroke-width="0.16" >12</text>
<text x="384.34" y="157.3" font-size="7.4" text-anchor="middle" font-weight="bold" fill="#000" stroke="#000" stroke-width="0.16" >14</text>
<text x="398.94" y="157.3" font-size="7.4" text-anchor="middle" font-weight="bold" fill="#000" stroke="#000" stroke-width="0.16" >16</text>
<text x="413.53" y="157.3" font-size="7.4" text-anchor="middle" font-weight="bold" fill="#000" stroke="#000" stroke-width="0.16" >18</text>
<text x="428.12" y="157.3" font-size="7.4" text-anchor="middle" font-weight="bold" fill="#000" stroke="#000" stroke-width="0.16" >20</text>
<text x="442.71" y="157.3" font-size="7.4" text-anchor="middle" font-weight="bold" fill="#000" stroke="#000" stroke-width="0.16" >22</text>
<text x="264.6" y="150" font-size="7.4" text-anchor="end" font-weight="bold" fill="#000" stroke="#000" stroke-width="0.16" >560</text>
<text x="264.6" y="141.47" font-size="7.4" text-anchor="end" font-weight="bold" fill="#000" stroke="#000" stroke-width="0.16" >570</text>
<text x="264.6" y="132.95" font-size="7.4" text-anchor="end" font-weight="bold" fill="#000" stroke="#000" stroke-width="0.16" >580</text>
<text x="264.6" y="124.42" font-size="7.4" text-anchor="end" font-weight="bold" fill="#000" stroke="#000" stroke-width="0.16" >590</text>
<text x="264.6" y="115.89" font-size="7.4" text-anchor="end" font-weight="bold" fill="#000" stroke="#000" stroke-width="0.16" >600</text>
<text x="264.6" y="107.36" font-size="7.4" text-anchor="end" font-weight="bold" fill="#000" stroke="#000" stroke-width="0.16" >610</text>
<text x="264.6" y="98.84" font-size="7.4" text-anchor="end" font-weight="bold" fill="#000" stroke="#000" stroke-width="0.16" >620</text>
<text x="264.6" y="90.31" font-size="7.4" text-anchor="end" font-weight="bold" fill="#000" stroke="#000" stroke-width="0.16" >630</text>
<text x="264.6" y="81.78" font-size="7.4" text-anchor="end" font-weight="bold" fill="#000" stroke="#000" stroke-width="0.16" >640</text>
<text x="264.6" y="73.26" font-size="7.4" text-anchor="end" font-weight="bold" fill="#000" stroke="#000" stroke-width="0.16" >650</text>
<text x="264.6" y="64.73" font-size="7.4" text-anchor="end" font-weight="bold" fill="#000" stroke="#000" stroke-width="0.16" >660</text>
<text x="264.6" y="56.2" font-size="7.4" text-anchor="end" font-weight="bold" fill="#000" stroke="#000" stroke-width="0.16" >670</text>
<text x="264.6" y="47.68" font-size="7.4" text-anchor="end" font-weight="bold" fill="#000" stroke="#000" stroke-width="0.16" >680</text>
<text x="264.6" y="39.15" font-size="7.4" text-anchor="end" font-weight="bold" fill="#000" stroke="#000" stroke-width="0.16" >690</text>
<text x="264.6" y="30.62" font-size="7.4" text-anchor="end" font-weight="bold" fill="#000" stroke="#000" stroke-width="0.16" >700</text>
<text x="264.6" y="22.1" font-size="7.4" text-anchor="end" font-weight="bold" fill="#000" stroke="#000" stroke-width="0.16" >710</text>
<text x="236" y="11.3" font-size="13.8" text-anchor="start" font-weight="bold" fill="#000" stroke="#000" stroke-width="0.16" >b</text>
<text x="297.5" y="11.9" font-size="7.2" text-anchor="start" font-weight="bold" fill="#ff1a1a" stroke="#ff1a1a" stroke-width="0.16" textLength="114.4" lengthAdjust="spacingAndGlyphs" >Only membrane thickness varied</text>
<text x="244.4" y="80.3" font-size="7.2" text-anchor="middle" font-weight="bold" fill="#000" stroke="#000" stroke-width="0.16" textLength="58.8" lengthAdjust="spacingAndGlyphs" transform="rotate(-90 244.4 80.3)" >Capacitance (pF)</text>
<text x="328" y="167.5" font-size="7.2" text-anchor="start" font-weight="bold" fill="#000" stroke="#000" stroke-width="0.16" textLength="53.3" lengthAdjust="spacingAndGlyphs" >Pressure (MPa)</text>
<rect x="273" y="21" width="68.6" height="26.4" fill="#fff" stroke="#333" stroke-width="0.8"/>
<line x1="274" y1="25.9" x2="289" y2="25.9" stroke="#555555" stroke-width="1.6" />
<text x="292.4" y="28" font-size="5.2" text-anchor="start" font-weight="bold" fill="#111111" stroke="#111111" stroke-width="0.16" textLength="42.6" lengthAdjust="spacingAndGlyphs" >Thickness 1.5 µm</text>
<line x1="274" y1="34.6" x2="289" y2="34.6" stroke="#ff1a1a" stroke-width="1.1" />
<text x="292.4" y="36.8" font-size="5.2" text-anchor="start" font-weight="bold" fill="#ff1a1a" stroke="#ff1a1a" stroke-width="0.16" textLength="38.6" lengthAdjust="spacingAndGlyphs" >Thickness 2 µm</text>
<line x1="274" y1="43" x2="289" y2="43" stroke="#5a78ff" stroke-width="1.6" />
<text x="292.4" y="44.8" font-size="5.2" text-anchor="start" font-weight="bold" fill="#1a1aff" stroke="#1a1aff" stroke-width="0.16" textLength="42.6" lengthAdjust="spacingAndGlyphs" >Thickness 2.5 µm</text>
<text x="313" y="106.4" font-size="5.6" text-anchor="start" font-weight="bold" fill="#111111" stroke="#111111" stroke-width="0.16" textLength="36.5" lengthAdjust="spacingAndGlyphs" >(0.40, 595.05)</text>
<text x="312.4" y="113.6" font-size="5.6" text-anchor="start" font-weight="bold" fill="#ff1a1a" stroke="#ff1a1a" stroke-width="0.16" textLength="36.5" lengthAdjust="spacingAndGlyphs" >(1.07, 595.06)</text>
<text x="312" y="120.4" font-size="5.6" text-anchor="start" font-weight="bold" fill="#1a1aff" stroke="#1a1aff" stroke-width="0.16" textLength="36.5" lengthAdjust="spacingAndGlyphs" >(2.16, 595.00)</text>
<text x="298" y="128.6" font-size="5.6" text-anchor="start" font-weight="bold" fill="#111111" stroke="#111111" stroke-width="0.16" textLength="36.5" lengthAdjust="spacingAndGlyphs" >(0.00, 571.61)</text>
<text x="298" y="134.4" font-size="5.6" text-anchor="start" font-weight="bold" fill="#ff1a1a" stroke="#ff1a1a" stroke-width="0.16" textLength="36.5" lengthAdjust="spacingAndGlyphs" >(0.00, 570.42)</text>
<text x="298" y="140.6" font-size="5.6" text-anchor="start" font-weight="bold" fill="#1a1aff" stroke="#1a1aff" stroke-width="0.16" textLength="36.5" lengthAdjust="spacingAndGlyphs" >(0.00, 570.04)</text>
<text x="389.8" y="30.6" font-size="5.6" text-anchor="start" font-weight="bold" fill="#111111" stroke="#111111" stroke-width="0.16" textLength="40.2" lengthAdjust="spacingAndGlyphs" >(20.00, 695.22)</text>
<text x="388.4" y="47.5" font-size="5.6" text-anchor="start" font-weight="bold" fill="#ff1a1a" stroke="#ff1a1a" stroke-width="0.16" textLength="39.8" lengthAdjust="spacingAndGlyphs" >(20.00, 674.60)</text>
<text x="388.9" y="62" font-size="5.6" text-anchor="start" font-weight="bold" fill="#1a1aff" stroke="#1a1aff" stroke-width="0.16" textLength="39.3" lengthAdjust="spacingAndGlyphs" >(20.00, 656.85)</text>
<line x1="312" y1="108.9" x2="285.4" y2="116.6" stroke="#111111" stroke-width="0.65" stroke-dasharray="1.0 0.9" stroke-opacity="0.7"/>
<line x1="311.2" y1="111.5" x2="290.2" y2="116.6" stroke="#ff1a1a" stroke-width="0.65" stroke-dasharray="1.0 0.9" stroke-opacity="0.7"/>
<line x1="311.2" y1="117.5" x2="297.4" y2="117.5" stroke="#1a1aff" stroke-width="0.65" stroke-dasharray="1.0 0.9" stroke-opacity="0.7"/>
<line x1="297.5" y1="126.6" x2="282.6" y2="138" stroke="#111111" stroke-width="0.65" stroke-dasharray="1.0 0.9" stroke-opacity="0.7"/>
<line x1="297.5" y1="132.4" x2="282.6" y2="138.2" stroke="#ff1a1a" stroke-width="0.65" stroke-dasharray="1.0 0.9" stroke-opacity="0.7"/>
<line x1="297.5" y1="138.6" x2="282.6" y2="138.5" stroke="#1a1aff" stroke-width="0.65" stroke-dasharray="1.0 0.9" stroke-opacity="0.7"/>
<line x1="430" y1="30" x2="428.2" y2="31.7" stroke="#111111" stroke-width="0.65" stroke-dasharray="1.0 0.9" stroke-opacity="0.7"/>
<line x1="410" y1="47.8" x2="428.2" y2="49.4" stroke="#ff1a1a" stroke-width="0.65" stroke-dasharray="1.0 0.9" stroke-opacity="0.7"/>
<line x1="405" y1="62.5" x2="428.2" y2="64.3" stroke="#1a1aff" stroke-width="0.65" stroke-dasharray="1.0 0.9" stroke-opacity="0.7"/>
<line x1="503.98" y1="19.8" x2="503.98" y2="147" stroke="#ebebeb" stroke-width="0.6" />
<line x1="511.14" y1="19.8" x2="511.14" y2="147" stroke="#ebebeb" stroke-width="0.6" />
<line x1="518.3" y1="19.8" x2="518.3" y2="147" stroke="#ebebeb" stroke-width="0.6" />
<line x1="525.46" y1="19.8" x2="525.46" y2="147" stroke="#ebebeb" stroke-width="0.6" />
<line x1="532.62" y1="19.8" x2="532.62" y2="147" stroke="#ebebeb" stroke-width="0.6" />
<line x1="539.78" y1="19.8" x2="539.78" y2="147" stroke="#ebebeb" stroke-width="0.6" />
<line x1="546.94" y1="19.8" x2="546.94" y2="147" stroke="#ebebeb" stroke-width="0.6" />
<line x1="554.1" y1="19.8" x2="554.1" y2="147" stroke="#ebebeb" stroke-width="0.6" />
<line x1="561.26" y1="19.8" x2="561.26" y2="147" stroke="#ebebeb" stroke-width="0.6" />
<line x1="568.42" y1="19.8" x2="568.42" y2="147" stroke="#ebebeb" stroke-width="0.6" />
<line x1="575.58" y1="19.8" x2="575.58" y2="147" stroke="#ebebeb" stroke-width="0.6" />
<line x1="582.74" y1="19.8" x2="582.74" y2="147" stroke="#ebebeb" stroke-width="0.6" />
<line x1="589.9" y1="19.8" x2="589.9" y2="147" stroke="#ebebeb" stroke-width="0.6" />
<line x1="597.06" y1="19.8" x2="597.06" y2="147" stroke="#ebebeb" stroke-width="0.6" />
<line x1="604.22" y1="19.8" x2="604.22" y2="147" stroke="#ebebeb" stroke-width="0.6" />
<line x1="611.38" y1="19.8" x2="611.38" y2="147" stroke="#ebebeb" stroke-width="0.6" />
<line x1="618.54" y1="19.8" x2="618.54" y2="147" stroke="#ebebeb" stroke-width="0.6" />
<line x1="625.7" y1="19.8" x2="625.7" y2="147" stroke="#ebebeb" stroke-width="0.6" />
<line x1="632.86" y1="19.8" x2="632.86" y2="147" stroke="#ebebeb" stroke-width="0.6" />
<line x1="640.02" y1="19.8" x2="640.02" y2="147" stroke="#ebebeb" stroke-width="0.6" />
<line x1="647.18" y1="19.8" x2="647.18" y2="147" stroke="#ebebeb" stroke-width="0.6" />
<line x1="654.34" y1="19.8" x2="654.34" y2="147" stroke="#ebebeb" stroke-width="0.6" />
<line x1="661.5" y1="19.8" x2="661.5" y2="147" stroke="#ebebeb" stroke-width="0.6" />
<line x1="668.66" y1="19.8" x2="668.66" y2="147" stroke="#ebebeb" stroke-width="0.6" />
<line x1="675.82" y1="19.8" x2="675.82" y2="147" stroke="#ebebeb" stroke-width="0.6" />
<line x1="500.4" y1="146.8" x2="679.2" y2="146.8" stroke="#ebebeb" stroke-width="0.6" />
<line x1="500.4" y1="141.52" x2="679.2" y2="141.52" stroke="#ebebeb" stroke-width="0.6" />
<line x1="500.4" y1="136.25" x2="679.2" y2="136.25" stroke="#ebebeb" stroke-width="0.6" />
<line x1="500.4" y1="130.97" x2="679.2" y2="130.97" stroke="#ebebeb" stroke-width="0.6" />
<line x1="500.4" y1="125.7" x2="679.2" y2="125.7" stroke="#ebebeb" stroke-width="0.6" />
<line x1="500.4" y1="120.42" x2="679.2" y2="120.42" stroke="#ebebeb" stroke-width="0.6" />
<line x1="500.4" y1="115.15" x2="679.2" y2="115.15" stroke="#ebebeb" stroke-width="0.6" />
<line x1="500.4" y1="109.87" x2="679.2" y2="109.87" stroke="#ebebeb" stroke-width="0.6" />
<line x1="500.4" y1="104.6" x2="679.2" y2="104.6" stroke="#ebebeb" stroke-width="0.6" />
<line x1="500.4" y1="99.32" x2="679.2" y2="99.32" stroke="#ebebeb" stroke-width="0.6" />
<line x1="500.4" y1="94.05" x2="679.2" y2="94.05" stroke="#ebebeb" stroke-width="0.6" />
<line x1="500.4" y1="88.78" x2="679.2" y2="88.78" stroke="#ebebeb" stroke-width="0.6" />
<line x1="500.4" y1="83.5" x2="679.2" y2="83.5" stroke="#ebebeb" stroke-width="0.6" />
<line x1="500.4" y1="78.22" x2="679.2" y2="78.22" stroke="#ebebeb" stroke-width="0.6" />
<line x1="500.4" y1="72.95" x2="679.2" y2="72.95" stroke="#ebebeb" stroke-width="0.6" />
<line x1="500.4" y1="67.67" x2="679.2" y2="67.67" stroke="#ebebeb" stroke-width="0.6" />
<line x1="500.4" y1="62.4" x2="679.2" y2="62.4" stroke="#ebebeb" stroke-width="0.6" />
<line x1="500.4" y1="57.12" x2="679.2" y2="57.12" stroke="#ebebeb" stroke-width="0.6" />
<line x1="500.4" y1="51.85" x2="679.2" y2="51.85" stroke="#ebebeb" stroke-width="0.6" />
<line x1="500.4" y1="46.57" x2="679.2" y2="46.57" stroke="#ebebeb" stroke-width="0.6" />
<line x1="500.4" y1="41.3" x2="679.2" y2="41.3" stroke="#ebebeb" stroke-width="0.6" />
<line x1="500.4" y1="36.03" x2="679.2" y2="36.03" stroke="#ebebeb" stroke-width="0.6" />
<line x1="500.4" y1="30.75" x2="679.2" y2="30.75" stroke="#ebebeb" stroke-width="0.6" />
<line x1="500.4" y1="25.47" x2="679.2" y2="25.47" stroke="#ebebeb" stroke-width="0.6" />
<line x1="500.4" y1="20.2" x2="679.2" y2="20.2" stroke="#ebebeb" stroke-width="0.6" />
<line x1="503.98" y1="19.8" x2="503.98" y2="147" stroke="#d4d4d4" stroke-width="0.6" />
<line x1="518.3" y1="19.8" x2="518.3" y2="147" stroke="#d4d4d4" stroke-width="0.6" />
<line x1="532.62" y1="19.8" x2="532.62" y2="147" stroke="#d4d4d4" stroke-width="0.6" />
<line x1="546.94" y1="19.8" x2="546.94" y2="147" stroke="#d4d4d4" stroke-width="0.6" />
<line x1="561.26" y1="19.8" x2="561.26" y2="147" stroke="#d4d4d4" stroke-width="0.6" />
<line x1="575.58" y1="19.8" x2="575.58" y2="147" stroke="#d4d4d4" stroke-width="0.6" />
<line x1="589.9" y1="19.8" x2="589.9" y2="147" stroke="#d4d4d4" stroke-width="0.6" />
<line x1="604.22" y1="19.8" x2="604.22" y2="147" stroke="#d4d4d4" stroke-width="0.6" />
<line x1="618.54" y1="19.8" x2="618.54" y2="147" stroke="#d4d4d4" stroke-width="0.6" />
<line x1="632.86" y1="19.8" x2="632.86" y2="147" stroke="#d4d4d4" stroke-width="0.6" />
<line x1="647.18" y1="19.8" x2="647.18" y2="147" stroke="#d4d4d4" stroke-width="0.6" />
<line x1="661.5" y1="19.8" x2="661.5" y2="147" stroke="#d4d4d4" stroke-width="0.6" />
<line x1="675.82" y1="19.8" x2="675.82" y2="147" stroke="#d4d4d4" stroke-width="0.6" />
<line x1="500.4" y1="146.8" x2="679.2" y2="146.8" stroke="#d4d4d4" stroke-width="0.6" />
<line x1="500.4" y1="136.25" x2="679.2" y2="136.25" stroke="#d4d4d4" stroke-width="0.6" />
<line x1="500.4" y1="125.7" x2="679.2" y2="125.7" stroke="#d4d4d4" stroke-width="0.6" />
<line x1="500.4" y1="115.15" x2="679.2" y2="115.15" stroke="#d4d4d4" stroke-width="0.6" />
<line x1="500.4" y1="104.6" x2="679.2" y2="104.6" stroke="#d4d4d4" stroke-width="0.6" />
<line x1="500.4" y1="94.05" x2="679.2" y2="94.05" stroke="#d4d4d4" stroke-width="0.6" />
<line x1="500.4" y1="83.5" x2="679.2" y2="83.5" stroke="#d4d4d4" stroke-width="0.6" />
<line x1="500.4" y1="72.95" x2="679.2" y2="72.95" stroke="#d4d4d4" stroke-width="0.6" />
<line x1="500.4" y1="62.4" x2="679.2" y2="62.4" stroke="#d4d4d4" stroke-width="0.6" />
<line x1="500.4" y1="51.85" x2="679.2" y2="51.85" stroke="#d4d4d4" stroke-width="0.6" />
<line x1="500.4" y1="41.3" x2="679.2" y2="41.3" stroke="#d4d4d4" stroke-width="0.6" />
<line x1="500.4" y1="30.75" x2="679.2" y2="30.75" stroke="#d4d4d4" stroke-width="0.6" />
<line x1="500.4" y1="20.2" x2="679.2" y2="20.2" stroke="#d4d4d4" stroke-width="0.6" />
<path d="M518.3,48.47 L518.42,48.43 L518.54,48.36 L518.66,48.26 L518.77,48.15 L518.89,48.02 L519.01,47.88 L519.13,47.73 L519.25,47.56 L519.37,47.39 L519.49,47.2 L519.6,47.01 L519.72,46.8 L519.84,46.59 L519.96,46.37 L520.08,46.14 L520.2,45.9 L520.31,45.66 L520.43,45.41 L520.55,45.15 L520.67,44.88 L520.79,44.61 L520.91,44.33 L521.03,44.05 L521.14,43.76 L521.26,43.46 L521.38,43.15 L521.5,42.84 L521.62,42.53 L521.74,42.21 L521.74,42.21 L522.44,41.47 L523.14,40.79 L523.84,40.17 L524.55,39.6 L525.25,39.07 L525.95,38.58 L526.65,38.12 L527.36,37.69 L528.06,37.28 L528.76,36.89 L529.46,36.53 L530.16,36.19 L530.87,35.86 L531.57,35.55 L532.27,35.25 L532.97,34.96 L533.68,34.69 L534.38,34.43 L535.08,34.18 L535.78,33.94 L536.49,33.71 L537.19,33.49 L537.89,33.27 L538.59,33.07 L539.29,32.87 L540,32.68 L540.7,32.49 L541.4,32.31 L542.1,32.13 L542.81,31.97 L543.51,31.8 L544.21,31.64 L544.91,31.49 L545.62,31.34 L546.32,31.19 L547.02,31.05 L547.72,30.91 L548.43,30.78 L549.13,30.65 L549.83,30.52 L550.53,30.39 L551.23,30.27 L551.94,30.15 L552.64,30.04 L553.34,29.93 L554.04,29.82 L554.75,29.71 L555.45,29.6 L556.15,29.5 L556.85,29.4 L557.56,29.3 L558.26,29.2 L558.96,29.11 L559.66,29.02 L560.36,28.93 L561.07,28.84 L561.77,28.75 L562.47,28.67 L563.17,28.59 L563.88,28.51 L564.58,28.43 L565.28,28.35 L565.98,28.27 L566.69,28.2 L567.39,28.12 L568.09,28.05 L568.79,27.98 L569.5,27.91 L570.2,27.84 L570.9,27.77 L571.6,27.71 L572.3,27.64 L573.01,27.58 L573.71,27.51 L574.41,27.45 L575.11,27.39 L575.82,27.33 L576.52,27.27 L577.22,27.22 L577.92,27.16 L578.63,27.1 L579.33,27.05 L580.03,27 L580.73,26.94 L581.43,26.89 L582.14,26.84 L582.84,26.79 L583.54,26.74 L584.24,26.69 L584.95,26.64 L585.65,26.59 L586.35,26.55 L587.05,26.5 L587.76,26.46 L588.46,26.41 L589.16,26.37 L589.86,26.32 L590.56,26.28 L591.27,26.24 L591.97,26.2 L592.67,26.16 L593.37,26.12 L594.08,26.08 L594.78,26.04 L595.48,26 L596.18,25.96 L596.89,25.92 L597.59,25.89 L598.29,25.85 L598.99,25.81 L599.7,25.78 L600.4,25.74 L601.1,25.71 L601.8,25.68 L602.5,25.64 L603.21,25.61 L603.91,25.58 L604.61,25.54 L605.31,25.51 L606.02,25.48 L606.72,25.45 L607.42,25.42 L608.12,25.39 L608.83,25.36 L609.53,25.33 L610.23,25.3 L610.93,25.27 L611.63,25.24 L612.34,25.22 L613.04,25.19 L613.74,25.16 L614.44,25.14 L615.15,25.11 L615.85,25.08 L616.55,25.06 L617.25,25.03 L617.96,25.01 L618.66,24.98 L619.36,24.96 L620.06,24.93 L620.76,24.91 L621.47,24.88 L622.17,24.86 L622.87,24.84 L623.57,24.82 L624.28,24.79 L624.98,24.77 L625.68,24.75 L626.38,24.73 L627.09,24.71 L627.79,24.69 L628.49,24.66 L629.19,24.64 L629.9,24.62 L630.6,24.6 L631.3,24.58 L632,24.56 L632.7,24.54 L633.41,24.52 L634.11,24.51 L634.81,24.49 L635.51,24.47 L636.22,24.45 L636.92,24.43 L637.62,24.41 L638.32,24.4 L639.03,24.38 L639.73,24.36 L640.43,24.35 L641.13,24.33 L641.83,24.31 L642.54,24.3 L643.24,24.28 L643.94,24.26 L644.64,24.25 L645.35,24.23 L646.05,24.22 L646.75,24.2 L647.45,24.19 L648.16,24.17 L648.86,24.16 L649.56,24.14 L650.26,24.13 L650.97,24.11 L651.67,24.1 L652.37,24.08 L653.07,24.07 L653.77,24.06 L654.48,24.04 L655.18,24.03 L655.88,24.02 L656.58,24 L657.29,23.99 L657.99,23.98 L658.69,23.97 L659.39,23.95 L660.1,23.94 L660.8,23.93 L661.5,23.92" fill="none" stroke="#111111" stroke-width="1.2" stroke-linejoin="round" />
<path d="M518.3,110.84 L518.56,110.84 L518.83,110.82 L519.09,110.79 L519.36,110.74 L519.62,110.69 L519.89,110.62 L520.15,110.54 L520.41,110.45 L520.68,110.34 L520.94,110.22 L521.21,110.09 L521.47,109.95 L521.73,109.8 L522,109.63 L522.26,109.45 L522.53,109.26 L522.79,109.05 L523.06,108.84 L523.32,108.61 L523.58,108.37 L523.85,108.12 L524.11,107.85 L524.38,107.57 L524.64,107.28 L524.9,106.98 L525.17,106.66 L525.43,106.33 L525.7,105.99 L525.96,105.64 L525.96,105.64 L526.64,105.3 L527.32,104.97 L528,104.66 L528.69,104.35 L529.37,104.06 L530.05,103.78 L530.73,103.51 L531.41,103.24 L532.09,102.99 L532.77,102.74 L533.45,102.51 L534.13,102.27 L534.82,102.05 L535.5,101.83 L536.18,101.62 L536.86,101.41 L537.54,101.21 L538.22,101.02 L538.9,100.83 L539.58,100.64 L540.26,100.46 L540.95,100.28 L541.63,100.11 L542.31,99.94 L542.99,99.77 L543.67,99.61 L544.35,99.45 L545.03,99.3 L545.71,99.15 L546.39,99 L547.08,98.85 L547.76,98.71 L548.44,98.57 L549.12,98.44 L549.8,98.3 L550.48,98.17 L551.16,98.04 L551.84,97.91 L552.52,97.79 L553.21,97.66 L553.89,97.54 L554.57,97.42 L555.25,97.31 L555.93,97.19 L556.61,97.08 L557.29,96.97 L557.97,96.86 L558.65,96.75 L559.34,96.65 L560.02,96.54 L560.7,96.44 L561.38,96.34 L562.06,96.24 L562.74,96.14 L563.42,96.04 L564.1,95.95 L564.78,95.85 L565.46,95.76 L566.15,95.67 L566.83,95.58 L567.51,95.49 L568.19,95.4 L568.87,95.32 L569.55,95.23 L570.23,95.15 L570.91,95.06 L571.59,94.98 L572.28,94.9 L572.96,94.82 L573.64,94.74 L574.32,94.66 L575,94.59 L575.68,94.51 L576.36,94.43 L577.04,94.36 L577.72,94.29 L578.41,94.21 L579.09,94.14 L579.77,94.07 L580.45,94 L581.13,93.93 L581.81,93.86 L582.49,93.79 L583.17,93.73 L583.85,93.66 L584.54,93.59 L585.22,93.53 L585.9,93.46 L586.58,93.4 L587.26,93.34 L587.94,93.27 L588.62,93.21 L589.3,93.15 L589.98,93.09 L590.67,93.03 L591.35,92.97 L592.03,92.91 L592.71,92.85 L593.39,92.8 L594.07,92.74 L594.75,92.68 L595.43,92.63 L596.11,92.57 L596.8,92.51 L597.48,92.46 L598.16,92.41 L598.84,92.35 L599.52,92.3 L600.2,92.25 L600.88,92.2 L601.56,92.14 L602.24,92.09 L602.93,92.04 L603.61,91.99 L604.29,91.94 L604.97,91.89 L605.65,91.84 L606.33,91.79 L607.01,91.75 L607.69,91.7 L608.37,91.65 L609.06,91.6 L609.74,91.56 L610.42,91.51 L611.1,91.47 L611.78,91.42 L612.46,91.38 L613.14,91.33 L613.82,91.29 L614.5,91.24 L615.19,91.2 L615.87,91.16 L616.55,91.11 L617.23,91.07 L617.91,91.03 L618.59,90.99 L619.27,90.94 L619.95,90.9 L620.63,90.86 L621.32,90.82 L622,90.78 L622.68,90.74 L623.36,90.7 L624.04,90.66 L624.72,90.62 L625.4,90.58 L626.08,90.55 L626.76,90.51 L627.45,90.47 L628.13,90.43 L628.81,90.39 L629.49,90.36 L630.17,90.32 L630.85,90.28 L631.53,90.25 L632.21,90.21 L632.89,90.17 L633.57,90.14 L634.26,90.1 L634.94,90.07 L635.62,90.03 L636.3,90 L636.98,89.96 L637.66,89.93 L638.34,89.9 L639.02,89.86 L639.7,89.83 L640.39,89.8 L641.07,89.76 L641.75,89.73 L642.43,89.7 L643.11,89.66 L643.79,89.63 L644.47,89.6 L645.15,89.57 L645.83,89.54 L646.52,89.5 L647.2,89.47 L647.88,89.44 L648.56,89.41 L649.24,89.38 L649.92,89.35 L650.6,89.32 L651.28,89.29 L651.96,89.26 L652.65,89.23 L653.33,89.2 L654.01,89.17 L654.69,89.14 L655.37,89.11 L656.05,89.08 L656.73,89.06 L657.41,89.03 L658.09,89 L658.78,88.97 L659.46,88.94 L660.14,88.91 L660.82,88.89 L661.5,88.86" fill="none" stroke="#ff1a1a" stroke-width="1.2" stroke-linejoin="round" />
<path d="M518.3,141.33 L518.71,141.32 L519.13,141.31 L519.54,141.28 L519.96,141.24 L520.37,141.2 L520.79,141.14 L521.2,141.07 L521.62,141 L522.03,140.91 L522.45,140.81 L522.86,140.7 L523.28,140.59 L523.69,140.46 L524.11,140.32 L524.52,140.17 L524.94,140.01 L525.35,139.84 L525.77,139.66 L526.18,139.47 L526.6,139.27 L527.01,139.06 L527.43,138.83 L527.84,138.6 L528.25,138.36 L528.67,138.11 L529.08,137.85 L529.5,137.57 L529.91,137.29 L530.33,137 L530.33,137 L530.99,136.77 L531.65,136.55 L532.31,136.33 L532.97,136.11 L533.62,135.91 L534.28,135.7 L534.94,135.5 L535.6,135.31 L536.26,135.12 L536.92,134.93 L537.58,134.75 L538.24,134.57 L538.9,134.4 L539.56,134.23 L540.22,134.06 L540.88,133.9 L541.53,133.74 L542.19,133.58 L542.85,133.43 L543.51,133.27 L544.17,133.13 L544.83,132.98 L545.49,132.84 L546.15,132.7 L546.81,132.56 L547.47,132.42 L548.13,132.29 L548.79,132.16 L549.44,132.03 L550.1,131.91 L550.76,131.78 L551.42,131.66 L552.08,131.54 L552.74,131.43 L553.4,131.31 L554.06,131.2 L554.72,131.09 L555.38,130.98 L556.04,130.87 L556.69,130.76 L557.35,130.66 L558.01,130.55 L558.67,130.45 L559.33,130.35 L559.99,130.25 L560.65,130.16 L561.31,130.06 L561.97,129.97 L562.63,129.87 L563.29,129.78 L563.95,129.69 L564.6,129.6 L565.26,129.52 L565.92,129.43 L566.58,129.34 L567.24,129.26 L567.9,129.18 L568.56,129.09 L569.22,129.01 L569.88,128.93 L570.54,128.85 L571.2,128.78 L571.86,128.7 L572.51,128.62 L573.17,128.55 L573.83,128.47 L574.49,128.4 L575.15,128.33 L575.81,128.26 L576.47,128.18 L577.13,128.11 L577.79,128.04 L578.45,127.98 L579.11,127.91 L579.77,127.84 L580.42,127.77 L581.08,127.71 L581.74,127.64 L582.4,127.58 L583.06,127.52 L583.72,127.45 L584.38,127.39 L585.04,127.33 L585.7,127.27 L586.36,127.21 L587.02,127.15 L587.68,127.09 L588.33,127.03 L588.99,126.97 L589.65,126.91 L590.31,126.85 L590.97,126.8 L591.63,126.74 L592.29,126.68 L592.95,126.63 L593.61,126.57 L594.27,126.52 L594.93,126.46 L595.58,126.41 L596.24,126.36 L596.9,126.3 L597.56,126.25 L598.22,126.2 L598.88,126.15 L599.54,126.09 L600.2,126.04 L600.86,125.99 L601.52,125.94 L602.18,125.89 L602.84,125.84 L603.49,125.79 L604.15,125.74 L604.81,125.7 L605.47,125.65 L606.13,125.6 L606.79,125.55 L607.45,125.5 L608.11,125.46 L608.77,125.41 L609.43,125.36 L610.09,125.32 L610.75,125.27 L611.4,125.23 L612.06,125.18 L612.72,125.13 L613.38,125.09 L614.04,125.04 L614.7,125 L615.36,124.96 L616.02,124.91 L616.68,124.87 L617.34,124.82 L618,124.78 L618.66,124.74 L619.31,124.69 L619.97,124.65 L620.63,124.61 L621.29,124.57 L621.95,124.53 L622.61,124.48 L623.27,124.44 L623.93,124.4 L624.59,124.36 L625.25,124.32 L625.91,124.28 L626.56,124.23 L627.22,124.19 L627.88,124.15 L628.54,124.11 L629.2,124.07 L629.86,124.03 L630.52,123.99 L631.18,123.95 L631.84,123.91 L632.5,123.87 L633.16,123.83 L633.82,123.79 L634.47,123.76 L635.13,123.72 L635.79,123.68 L636.45,123.64 L637.11,123.6 L637.77,123.56 L638.43,123.52 L639.09,123.48 L639.75,123.45 L640.41,123.41 L641.07,123.37 L641.73,123.33 L642.38,123.29 L643.04,123.26 L643.7,123.22 L644.36,123.18 L645.02,123.14 L645.68,123.11 L646.34,123.07 L647,123.03 L647.66,123 L648.32,122.96 L648.98,122.92 L649.64,122.89 L650.29,122.85 L650.95,122.81 L651.61,122.78 L652.27,122.74 L652.93,122.7 L653.59,122.67 L654.25,122.63 L654.91,122.59 L655.57,122.56 L656.23,122.52 L656.89,122.49 L657.55,122.45 L658.2,122.42 L658.86,122.38 L659.52,122.34 L660.18,122.31 L660.84,122.27 L661.5,122.24" fill="none" stroke="#1a1aff" stroke-width="1.2" stroke-linejoin="round" />
<line x1="503.98" y1="147" x2="503.98" y2="144.1" stroke="#111" stroke-width="0.95" />
<line x1="503.98" y1="19.8" x2="503.98" y2="22.7" stroke="#111" stroke-width="0.95" />
<line x1="518.3" y1="147" x2="518.3" y2="144.1" stroke="#111" stroke-width="0.95" />
<line x1="518.3" y1="19.8" x2="518.3" y2="22.7" stroke="#111" stroke-width="0.95" />
<line x1="532.62" y1="147" x2="532.62" y2="144.1" stroke="#111" stroke-width="0.95" />
<line x1="532.62" y1="19.8" x2="532.62" y2="22.7" stroke="#111" stroke-width="0.95" />
<line x1="546.94" y1="147" x2="546.94" y2="144.1" stroke="#111" stroke-width="0.95" />
<line x1="546.94" y1="19.8" x2="546.94" y2="22.7" stroke="#111" stroke-width="0.95" />
<line x1="561.26" y1="147" x2="561.26" y2="144.1" stroke="#111" stroke-width="0.95" />
<line x1="561.26" y1="19.8" x2="561.26" y2="22.7" stroke="#111" stroke-width="0.95" />
<line x1="575.58" y1="147" x2="575.58" y2="144.1" stroke="#111" stroke-width="0.95" />
<line x1="575.58" y1="19.8" x2="575.58" y2="22.7" stroke="#111" stroke-width="0.95" />
<line x1="589.9" y1="147" x2="589.9" y2="144.1" stroke="#111" stroke-width="0.95" />
<line x1="589.9" y1="19.8" x2="589.9" y2="22.7" stroke="#111" stroke-width="0.95" />
<line x1="604.22" y1="147" x2="604.22" y2="144.1" stroke="#111" stroke-width="0.95" />
<line x1="604.22" y1="19.8" x2="604.22" y2="22.7" stroke="#111" stroke-width="0.95" />
<line x1="618.54" y1="147" x2="618.54" y2="144.1" stroke="#111" stroke-width="0.95" />
<line x1="618.54" y1="19.8" x2="618.54" y2="22.7" stroke="#111" stroke-width="0.95" />
<line x1="632.86" y1="147" x2="632.86" y2="144.1" stroke="#111" stroke-width="0.95" />
<line x1="632.86" y1="19.8" x2="632.86" y2="22.7" stroke="#111" stroke-width="0.95" />
<line x1="647.18" y1="147" x2="647.18" y2="144.1" stroke="#111" stroke-width="0.95" />
<line x1="647.18" y1="19.8" x2="647.18" y2="22.7" stroke="#111" stroke-width="0.95" />
<line x1="661.5" y1="147" x2="661.5" y2="144.1" stroke="#111" stroke-width="0.95" />
<line x1="661.5" y1="19.8" x2="661.5" y2="22.7" stroke="#111" stroke-width="0.95" />
<line x1="675.82" y1="147" x2="675.82" y2="144.1" stroke="#111" stroke-width="0.95" />
<line x1="675.82" y1="19.8" x2="675.82" y2="22.7" stroke="#111" stroke-width="0.95" />
<line x1="511.14" y1="147" x2="511.14" y2="145.1" stroke="#111" stroke-width="0.95" />
<line x1="511.14" y1="19.8" x2="511.14" y2="21.7" stroke="#111" stroke-width="0.95" />
<line x1="525.46" y1="147" x2="525.46" y2="145.1" stroke="#111" stroke-width="0.95" />
<line x1="525.46" y1="19.8" x2="525.46" y2="21.7" stroke="#111" stroke-width="0.95" />
<line x1="539.78" y1="147" x2="539.78" y2="145.1" stroke="#111" stroke-width="0.95" />
<line x1="539.78" y1="19.8" x2="539.78" y2="21.7" stroke="#111" stroke-width="0.95" />
<line x1="554.1" y1="147" x2="554.1" y2="145.1" stroke="#111" stroke-width="0.95" />
<line x1="554.1" y1="19.8" x2="554.1" y2="21.7" stroke="#111" stroke-width="0.95" />
<line x1="568.42" y1="147" x2="568.42" y2="145.1" stroke="#111" stroke-width="0.95" />
<line x1="568.42" y1="19.8" x2="568.42" y2="21.7" stroke="#111" stroke-width="0.95" />
<line x1="582.74" y1="147" x2="582.74" y2="145.1" stroke="#111" stroke-width="0.95" />
<line x1="582.74" y1="19.8" x2="582.74" y2="21.7" stroke="#111" stroke-width="0.95" />
<line x1="597.06" y1="147" x2="597.06" y2="145.1" stroke="#111" stroke-width="0.95" />
<line x1="597.06" y1="19.8" x2="597.06" y2="21.7" stroke="#111" stroke-width="0.95" />
<line x1="611.38" y1="147" x2="611.38" y2="145.1" stroke="#111" stroke-width="0.95" />
<line x1="611.38" y1="19.8" x2="611.38" y2="21.7" stroke="#111" stroke-width="0.95" />
<line x1="625.7" y1="147" x2="625.7" y2="145.1" stroke="#111" stroke-width="0.95" />
<line x1="625.7" y1="19.8" x2="625.7" y2="21.7" stroke="#111" stroke-width="0.95" />
<line x1="640.02" y1="147" x2="640.02" y2="145.1" stroke="#111" stroke-width="0.95" />
<line x1="640.02" y1="19.8" x2="640.02" y2="21.7" stroke="#111" stroke-width="0.95" />
<line x1="654.34" y1="147" x2="654.34" y2="145.1" stroke="#111" stroke-width="0.95" />
<line x1="654.34" y1="19.8" x2="654.34" y2="21.7" stroke="#111" stroke-width="0.95" />
<line x1="668.66" y1="147" x2="668.66" y2="145.1" stroke="#111" stroke-width="0.95" />
<line x1="668.66" y1="19.8" x2="668.66" y2="21.7" stroke="#111" stroke-width="0.95" />
<line x1="500.4" y1="146.8" x2="503.3" y2="146.8" stroke="#111" stroke-width="0.95" />
<line x1="679.2" y1="146.8" x2="676.3" y2="146.8" stroke="#111" stroke-width="0.95" />
<line x1="500.4" y1="136.25" x2="503.3" y2="136.25" stroke="#111" stroke-width="0.95" />
<line x1="679.2" y1="136.25" x2="676.3" y2="136.25" stroke="#111" stroke-width="0.95" />
<line x1="500.4" y1="125.7" x2="503.3" y2="125.7" stroke="#111" stroke-width="0.95" />
<line x1="679.2" y1="125.7" x2="676.3" y2="125.7" stroke="#111" stroke-width="0.95" />
<line x1="500.4" y1="115.15" x2="503.3" y2="115.15" stroke="#111" stroke-width="0.95" />
<line x1="679.2" y1="115.15" x2="676.3" y2="115.15" stroke="#111" stroke-width="0.95" />
<line x1="500.4" y1="104.6" x2="503.3" y2="104.6" stroke="#111" stroke-width="0.95" />
<line x1="679.2" y1="104.6" x2="676.3" y2="104.6" stroke="#111" stroke-width="0.95" />
<line x1="500.4" y1="94.05" x2="503.3" y2="94.05" stroke="#111" stroke-width="0.95" />
<line x1="679.2" y1="94.05" x2="676.3" y2="94.05" stroke="#111" stroke-width="0.95" />
<line x1="500.4" y1="83.5" x2="503.3" y2="83.5" stroke="#111" stroke-width="0.95" />
<line x1="679.2" y1="83.5" x2="676.3" y2="83.5" stroke="#111" stroke-width="0.95" />
<line x1="500.4" y1="72.95" x2="503.3" y2="72.95" stroke="#111" stroke-width="0.95" />
<line x1="679.2" y1="72.95" x2="676.3" y2="72.95" stroke="#111" stroke-width="0.95" />
<line x1="500.4" y1="62.4" x2="503.3" y2="62.4" stroke="#111" stroke-width="0.95" />
<line x1="679.2" y1="62.4" x2="676.3" y2="62.4" stroke="#111" stroke-width="0.95" />
<line x1="500.4" y1="51.85" x2="503.3" y2="51.85" stroke="#111" stroke-width="0.95" />
<line x1="679.2" y1="51.85" x2="676.3" y2="51.85" stroke="#111" stroke-width="0.95" />
<line x1="500.4" y1="41.3" x2="503.3" y2="41.3" stroke="#111" stroke-width="0.95" />
<line x1="679.2" y1="41.3" x2="676.3" y2="41.3" stroke="#111" stroke-width="0.95" />
<line x1="500.4" y1="30.75" x2="503.3" y2="30.75" stroke="#111" stroke-width="0.95" />
<line x1="679.2" y1="30.75" x2="676.3" y2="30.75" stroke="#111" stroke-width="0.95" />
<line x1="500.4" y1="20.2" x2="503.3" y2="20.2" stroke="#111" stroke-width="0.95" />
<line x1="679.2" y1="20.2" x2="676.3" y2="20.2" stroke="#111" stroke-width="0.95" />
<line x1="500.4" y1="141.52" x2="502.3" y2="141.52" stroke="#111" stroke-width="0.95" />
<line x1="679.2" y1="141.52" x2="677.3" y2="141.52" stroke="#111" stroke-width="0.95" />
<line x1="500.4" y1="130.97" x2="502.3" y2="130.97" stroke="#111" stroke-width="0.95" />
<line x1="679.2" y1="130.97" x2="677.3" y2="130.97" stroke="#111" stroke-width="0.95" />
<line x1="500.4" y1="120.42" x2="502.3" y2="120.42" stroke="#111" stroke-width="0.95" />
<line x1="679.2" y1="120.42" x2="677.3" y2="120.42" stroke="#111" stroke-width="0.95" />
<line x1="500.4" y1="109.87" x2="502.3" y2="109.87" stroke="#111" stroke-width="0.95" />
<line x1="679.2" y1="109.87" x2="677.3" y2="109.87" stroke="#111" stroke-width="0.95" />
<line x1="500.4" y1="99.32" x2="502.3" y2="99.32" stroke="#111" stroke-width="0.95" />
<line x1="679.2" y1="99.32" x2="677.3" y2="99.32" stroke="#111" stroke-width="0.95" />
<line x1="500.4" y1="88.78" x2="502.3" y2="88.78" stroke="#111" stroke-width="0.95" />
<line x1="679.2" y1="88.78" x2="677.3" y2="88.78" stroke="#111" stroke-width="0.95" />
<line x1="500.4" y1="78.22" x2="502.3" y2="78.22" stroke="#111" stroke-width="0.95" />
<line x1="679.2" y1="78.22" x2="677.3" y2="78.22" stroke="#111" stroke-width="0.95" />
<line x1="500.4" y1="67.67" x2="502.3" y2="67.67" stroke="#111" stroke-width="0.95" />
<line x1="679.2" y1="67.67" x2="677.3" y2="67.67" stroke="#111" stroke-width="0.95" />
<line x1="500.4" y1="57.12" x2="502.3" y2="57.12" stroke="#111" stroke-width="0.95" />
<line x1="679.2" y1="57.12" x2="677.3" y2="57.12" stroke="#111" stroke-width="0.95" />
<line x1="500.4" y1="46.57" x2="502.3" y2="46.57" stroke="#111" stroke-width="0.95" />
<line x1="679.2" y1="46.57" x2="677.3" y2="46.57" stroke="#111" stroke-width="0.95" />
<line x1="500.4" y1="36.03" x2="502.3" y2="36.03" stroke="#111" stroke-width="0.95" />
<line x1="679.2" y1="36.03" x2="677.3" y2="36.03" stroke="#111" stroke-width="0.95" />
<line x1="500.4" y1="25.47" x2="502.3" y2="25.47" stroke="#111" stroke-width="0.95" />
<line x1="679.2" y1="25.47" x2="677.3" y2="25.47" stroke="#111" stroke-width="0.95" />
<rect x="500.4" y="19.8" width="178.8" height="127.2" fill="none" stroke="#111" stroke-width="1.2"/>
<text x="503.98" y="157.3" font-size="7.4" text-anchor="middle" font-weight="bold" fill="#000" stroke="#000" stroke-width="0.16" >−2</text>
<text x="518.3" y="157.3" font-size="7.4" text-anchor="middle" font-weight="bold" fill="#000" stroke="#000" stroke-width="0.16" >0</text>
<text x="532.62" y="157.3" font-size="7.4" text-anchor="middle" font-weight="bold" fill="#000" stroke="#000" stroke-width="0.16" >2</text>
<text x="546.94" y="157.3" font-size="7.4" text-anchor="middle" font-weight="bold" fill="#000" stroke="#000" stroke-width="0.16" >4</text>
<text x="561.26" y="157.3" font-size="7.4" text-anchor="middle" font-weight="bold" fill="#000" stroke="#000" stroke-width="0.16" >6</text>
<text x="575.58" y="157.3" font-size="7.4" text-anchor="middle" font-weight="bold" fill="#000" stroke="#000" stroke-width="0.16" >8</text>
<text x="589.9" y="157.3" font-size="7.4" text-anchor="middle" font-weight="bold" fill="#000" stroke="#000" stroke-width="0.16" >10</text>
<text x="604.22" y="157.3" font-size="7.4" text-anchor="middle" font-weight="bold" fill="#000" stroke="#000" stroke-width="0.16" >12</text>
<text x="618.54" y="157.3" font-size="7.4" text-anchor="middle" font-weight="bold" fill="#000" stroke="#000" stroke-width="0.16" >14</text>
<text x="632.86" y="157.3" font-size="7.4" text-anchor="middle" font-weight="bold" fill="#000" stroke="#000" stroke-width="0.16" >16</text>
<text x="647.18" y="157.3" font-size="7.4" text-anchor="middle" font-weight="bold" fill="#000" stroke="#000" stroke-width="0.16" >18</text>
<text x="661.5" y="157.3" font-size="7.4" text-anchor="middle" font-weight="bold" fill="#000" stroke="#000" stroke-width="0.16" >20</text>
<text x="675.82" y="157.3" font-size="7.4" text-anchor="middle" font-weight="bold" fill="#000" stroke="#000" stroke-width="0.16" >22</text>
<text x="495.8" y="149.1" font-size="7.4" text-anchor="end" font-weight="bold" fill="#000" stroke="#000" stroke-width="0.16" >400</text>
<text x="495.8" y="138.55" font-size="7.4" text-anchor="end" font-weight="bold" fill="#000" stroke="#000" stroke-width="0.16" >450</text>
<text x="495.8" y="128" font-size="7.4" text-anchor="end" font-weight="bold" fill="#000" stroke="#000" stroke-width="0.16" >500</text>
<text x="495.8" y="117.45" font-size="7.4" text-anchor="end" font-weight="bold" fill="#000" stroke="#000" stroke-width="0.16" >550</text>
<text x="495.8" y="106.9" font-size="7.4" text-anchor="end" font-weight="bold" fill="#000" stroke="#000" stroke-width="0.16" >600</text>
<text x="495.8" y="96.35" font-size="7.4" text-anchor="end" font-weight="bold" fill="#000" stroke="#000" stroke-width="0.16" >650</text>
<text x="495.8" y="85.8" font-size="7.4" text-anchor="end" font-weight="bold" fill="#000" stroke="#000" stroke-width="0.16" >700</text>
<text x="495.8" y="75.25" font-size="7.4" text-anchor="end" font-weight="bold" fill="#000" stroke="#000" stroke-width="0.16" >750</text>
<text x="495.8" y="64.7" font-size="7.4" text-anchor="end" font-weight="bold" fill="#000" stroke="#000" stroke-width="0.16" >800</text>
<text x="495.8" y="54.15" font-size="7.4" text-anchor="end" font-weight="bold" fill="#000" stroke="#000" stroke-width="0.16" >850</text>
<text x="495.8" y="43.6" font-size="7.4" text-anchor="end" font-weight="bold" fill="#000" stroke="#000" stroke-width="0.16" >900</text>
<text x="495.8" y="33.05" font-size="7.4" text-anchor="end" font-weight="bold" fill="#000" stroke="#000" stroke-width="0.16" >950</text>
<text x="495.8" y="22.5" font-size="7.4" text-anchor="end" font-weight="bold" fill="#000" stroke="#000" stroke-width="0.16" >1000</text>
<text x="466" y="10.6" font-size="13.8" text-anchor="start" font-weight="bold" fill="#000" stroke="#000" stroke-width="0.16" >c</text>
<text x="562.2" y="11.9" font-size="7.2" text-anchor="start" font-weight="bold" fill="#ff1a1a" stroke="#ff1a1a" stroke-width="0.16" textLength="54.8" lengthAdjust="spacingAndGlyphs" >Only gap varied</text>
<text x="472.6" y="80.3" font-size="7.2" text-anchor="middle" font-weight="bold" fill="#000" stroke="#000" stroke-width="0.16" textLength="58.8" lengthAdjust="spacingAndGlyphs" transform="rotate(-90 472.6 80.3)" >Capacitance (pF)</text>
<text x="563.3" y="167.5" font-size="7.2" text-anchor="start" font-weight="bold" fill="#000" stroke="#000" stroke-width="0.16" textLength="53.3" lengthAdjust="spacingAndGlyphs" >Pressure (MPa)</text>
<rect x="601.3" y="28.4" width="51.3" height="26.8" fill="#fff" stroke="#333" stroke-width="0.8"/>
<line x1="602.2" y1="33.3" x2="617.6" y2="33.3" stroke="#111111" stroke-width="1.1" />
<text x="620.7" y="35.1" font-size="5.2" text-anchor="start" font-weight="bold" fill="#111111" stroke="#111111" stroke-width="0.16" textLength="28" lengthAdjust="spacingAndGlyphs" >Gap 0.1 µm</text>
<line x1="602.2" y1="42.1" x2="617.6" y2="42.1" stroke="#ff7a7a" stroke-width="1.8" />
<text x="620.7" y="43.9" font-size="5.2" text-anchor="start" font-weight="bold" fill="#ff1a1a" stroke="#ff1a1a" stroke-width="0.16" textLength="28" lengthAdjust="spacingAndGlyphs" >Gap 0.2 µm</text>
<line x1="602.2" y1="50.5" x2="617.6" y2="50.5" stroke="#1a1aff" stroke-width="1.1" />
<text x="620.7" y="52.3" font-size="5.2" text-anchor="start" font-weight="bold" fill="#1a1aff" stroke="#1a1aff" stroke-width="0.16" textLength="28" lengthAdjust="spacingAndGlyphs" >Gap 0.3 µm</text>
<text x="506.6" y="69.3" font-size="5.6" text-anchor="start" font-weight="bold" fill="#111111" stroke="#111111" stroke-width="0.16" textLength="36.7" lengthAdjust="spacingAndGlyphs" >(0.00, 866.01)</text>
<text x="547.3" y="69.3" font-size="5.6" text-anchor="start" font-weight="bold" fill="#111111" stroke="#111111" stroke-width="0.16" textLength="36.3" lengthAdjust="spacingAndGlyphs" >(0.48, 895.70)</text>
<text x="611.4" y="68.9" font-size="6.2" text-anchor="start" font-weight="bold" fill="#111111" stroke="#111111" stroke-width="0.16" textLength="42.1" lengthAdjust="spacingAndGlyphs" >(20.00, 982.38)</text>
<text x="505.9" y="84.6" font-size="5.6" text-anchor="start" font-weight="bold" fill="#ff1a1a" stroke="#ff1a1a" stroke-width="0.16" textLength="34.2" lengthAdjust="spacingAndGlyphs" >(0.00,570.42)</text>
<text x="548.5" y="84.6" font-size="5.6" text-anchor="start" font-weight="bold" fill="#ff1a1a" stroke="#ff1a1a" stroke-width="0.16" textLength="36.6" lengthAdjust="spacingAndGlyphs" >(1.07, 595.06)</text>
<text x="612" y="85.9" font-size="5.6" text-anchor="start" font-weight="bold" fill="#ff1a1a" stroke="#ff1a1a" stroke-width="0.16" textLength="40" lengthAdjust="spacingAndGlyphs" >(20.00, 674.60)</text>
<text x="507.7" y="121.9" font-size="5.6" text-anchor="start" font-weight="bold" fill="#1a1aff" stroke="#1a1aff" stroke-width="0.16" textLength="36.8" lengthAdjust="spacingAndGlyphs" >(0.00, 425.94)</text>
<text x="548.8" y="121.9" font-size="5.6" text-anchor="start" font-weight="bold" fill="#1a1aff" stroke="#1a1aff" stroke-width="0.16" textLength="36.5" lengthAdjust="spacingAndGlyphs" >(1.68, 446.46)</text>
<text x="612.8" y="119.5" font-size="5.6" text-anchor="start" font-weight="bold" fill="#1a1aff" stroke="#1a1aff" stroke-width="0.16" textLength="40.3" lengthAdjust="spacingAndGlyphs" >(20.00, 516.41)</text>
<line x1="524.2" y1="63.5" x2="518.5" y2="48.5" stroke="#666" stroke-width="0.45" />
<line x1="547.1" y1="63.5" x2="521.9" y2="42.1" stroke="#666" stroke-width="0.45" />
<line x1="653.5" y1="62.6" x2="661.4" y2="23.1" stroke="#111111" stroke-width="0.65" stroke-dasharray="1.0 0.9" stroke-opacity="0.7"/>
<line x1="522.6" y1="86.6" x2="518.7" y2="109.4" stroke="#ff1a1a" stroke-width="0.65" stroke-dasharray="1.0 0.9" stroke-opacity="0.7"/>
<line x1="548" y1="85.8" x2="526.4" y2="105.9" stroke="#ff1a1a" stroke-width="0.65" stroke-dasharray="1.0 0.9" stroke-opacity="0.7"/>
<line x1="652" y1="86" x2="661.4" y2="88.8" stroke="#ff1a1a" stroke-width="0.65" stroke-dasharray="1.0 0.9" stroke-opacity="0.7"/>
<line x1="523.4" y1="122.6" x2="518.7" y2="141.5" stroke="#6a8aff" stroke-width="0.45" />
<line x1="548" y1="122.6" x2="530.4" y2="137.1" stroke="#6a8aff" stroke-width="0.45" />
<line x1="653" y1="119" x2="661.4" y2="122.2" stroke="#1a1aff" stroke-width="0.65" stroke-dasharray="1.0 0.9" stroke-opacity="0.7"/>
<line x1="38.2" y1="198" x2="38.2" y2="334.3" stroke="#ebebeb" stroke-width="0.6" />
<line x1="43.06" y1="198" x2="43.06" y2="334.3" stroke="#ebebeb" stroke-width="0.6" />
<line x1="47.91" y1="198" x2="47.91" y2="334.3" stroke="#ebebeb" stroke-width="0.6" />
<line x1="52.77" y1="198" x2="52.77" y2="334.3" stroke="#ebebeb" stroke-width="0.6" />
<line x1="57.62" y1="198" x2="57.62" y2="334.3" stroke="#ebebeb" stroke-width="0.6" />
<line x1="62.48" y1="198" x2="62.48" y2="334.3" stroke="#ebebeb" stroke-width="0.6" />
<line x1="67.34" y1="198" x2="67.34" y2="334.3" stroke="#ebebeb" stroke-width="0.6" />
<line x1="72.19" y1="198" x2="72.19" y2="334.3" stroke="#ebebeb" stroke-width="0.6" />
<line x1="77.05" y1="198" x2="77.05" y2="334.3" stroke="#ebebeb" stroke-width="0.6" />
<line x1="81.9" y1="198" x2="81.9" y2="334.3" stroke="#ebebeb" stroke-width="0.6" />
<line x1="86.76" y1="198" x2="86.76" y2="334.3" stroke="#ebebeb" stroke-width="0.6" />
<line x1="91.62" y1="198" x2="91.62" y2="334.3" stroke="#ebebeb" stroke-width="0.6" />
<line x1="96.47" y1="198" x2="96.47" y2="334.3" stroke="#ebebeb" stroke-width="0.6" />
<line x1="101.33" y1="198" x2="101.33" y2="334.3" stroke="#ebebeb" stroke-width="0.6" />
<line x1="106.18" y1="198" x2="106.18" y2="334.3" stroke="#ebebeb" stroke-width="0.6" />
<line x1="111.04" y1="198" x2="111.04" y2="334.3" stroke="#ebebeb" stroke-width="0.6" />
<line x1="115.9" y1="198" x2="115.9" y2="334.3" stroke="#ebebeb" stroke-width="0.6" />
<line x1="120.75" y1="198" x2="120.75" y2="334.3" stroke="#ebebeb" stroke-width="0.6" />
<line x1="125.61" y1="198" x2="125.61" y2="334.3" stroke="#ebebeb" stroke-width="0.6" />
<line x1="130.46" y1="198" x2="130.46" y2="334.3" stroke="#ebebeb" stroke-width="0.6" />
<line x1="135.32" y1="198" x2="135.32" y2="334.3" stroke="#ebebeb" stroke-width="0.6" />
<line x1="140.18" y1="198" x2="140.18" y2="334.3" stroke="#ebebeb" stroke-width="0.6" />
<line x1="145.03" y1="198" x2="145.03" y2="334.3" stroke="#ebebeb" stroke-width="0.6" />
<line x1="149.89" y1="198" x2="149.89" y2="334.3" stroke="#ebebeb" stroke-width="0.6" />
<line x1="154.74" y1="198" x2="154.74" y2="334.3" stroke="#ebebeb" stroke-width="0.6" />
<line x1="159.6" y1="198" x2="159.6" y2="334.3" stroke="#ebebeb" stroke-width="0.6" />
<line x1="164.46" y1="198" x2="164.46" y2="334.3" stroke="#ebebeb" stroke-width="0.6" />
<line x1="169.31" y1="198" x2="169.31" y2="334.3" stroke="#ebebeb" stroke-width="0.6" />
<line x1="174.17" y1="198" x2="174.17" y2="334.3" stroke="#ebebeb" stroke-width="0.6" />
<line x1="179.02" y1="198" x2="179.02" y2="334.3" stroke="#ebebeb" stroke-width="0.6" />
<line x1="183.88" y1="198" x2="183.88" y2="334.3" stroke="#ebebeb" stroke-width="0.6" />
<line x1="188.74" y1="198" x2="188.74" y2="334.3" stroke="#ebebeb" stroke-width="0.6" />
<line x1="193.59" y1="198" x2="193.59" y2="334.3" stroke="#ebebeb" stroke-width="0.6" />
<line x1="198.45" y1="198" x2="198.45" y2="334.3" stroke="#ebebeb" stroke-width="0.6" />
<line x1="203.3" y1="198" x2="203.3" y2="334.3" stroke="#ebebeb" stroke-width="0.6" />
<line x1="208.16" y1="198" x2="208.16" y2="334.3" stroke="#ebebeb" stroke-width="0.6" />
<line x1="33.4" y1="334.3" x2="208.6" y2="334.3" stroke="#ebebeb" stroke-width="0.6" />
<line x1="33.4" y1="328.1" x2="208.6" y2="328.1" stroke="#ebebeb" stroke-width="0.6" />
<line x1="33.4" y1="321.9" x2="208.6" y2="321.9" stroke="#ebebeb" stroke-width="0.6" />
<line x1="33.4" y1="315.7" x2="208.6" y2="315.7" stroke="#ebebeb" stroke-width="0.6" />
<line x1="33.4" y1="309.5" x2="208.6" y2="309.5" stroke="#ebebeb" stroke-width="0.6" />
<line x1="33.4" y1="303.3" x2="208.6" y2="303.3" stroke="#ebebeb" stroke-width="0.6" />
<line x1="33.4" y1="297.1" x2="208.6" y2="297.1" stroke="#ebebeb" stroke-width="0.6" />
<line x1="33.4" y1="290.9" x2="208.6" y2="290.9" stroke="#ebebeb" stroke-width="0.6" />
<line x1="33.4" y1="284.7" x2="208.6" y2="284.7" stroke="#ebebeb" stroke-width="0.6" />
<line x1="33.4" y1="278.5" x2="208.6" y2="278.5" stroke="#ebebeb" stroke-width="0.6" />
<line x1="33.4" y1="272.3" x2="208.6" y2="272.3" stroke="#ebebeb" stroke-width="0.6" />
<line x1="33.4" y1="266.1" x2="208.6" y2="266.1" stroke="#ebebeb" stroke-width="0.6" />
<line x1="33.4" y1="259.9" x2="208.6" y2="259.9" stroke="#ebebeb" stroke-width="0.6" />
<line x1="33.4" y1="253.7" x2="208.6" y2="253.7" stroke="#ebebeb" stroke-width="0.6" />
<line x1="33.4" y1="247.5" x2="208.6" y2="247.5" stroke="#ebebeb" stroke-width="0.6" />
<line x1="33.4" y1="241.3" x2="208.6" y2="241.3" stroke="#ebebeb" stroke-width="0.6" />
<line x1="33.4" y1="235.1" x2="208.6" y2="235.1" stroke="#ebebeb" stroke-width="0.6" />
<line x1="33.4" y1="228.9" x2="208.6" y2="228.9" stroke="#ebebeb" stroke-width="0.6" />
<line x1="33.4" y1="222.7" x2="208.6" y2="222.7" stroke="#ebebeb" stroke-width="0.6" />
<line x1="33.4" y1="216.5" x2="208.6" y2="216.5" stroke="#ebebeb" stroke-width="0.6" />
<line x1="33.4" y1="210.3" x2="208.6" y2="210.3" stroke="#ebebeb" stroke-width="0.6" />
<line x1="33.4" y1="204.1" x2="208.6" y2="204.1" stroke="#ebebeb" stroke-width="0.6" />
<line x1="38.2" y1="198" x2="38.2" y2="334.3" stroke="#d4d4d4" stroke-width="0.6" />
<line x1="47.91" y1="198" x2="47.91" y2="334.3" stroke="#d4d4d4" stroke-width="0.6" />
<line x1="57.62" y1="198" x2="57.62" y2="334.3" stroke="#d4d4d4" stroke-width="0.6" />
<line x1="67.34" y1="198" x2="67.34" y2="334.3" stroke="#d4d4d4" stroke-width="0.6" />
<line x1="77.05" y1="198" x2="77.05" y2="334.3" stroke="#d4d4d4" stroke-width="0.6" />
<line x1="86.76" y1="198" x2="86.76" y2="334.3" stroke="#d4d4d4" stroke-width="0.6" />
<line x1="96.47" y1="198" x2="96.47" y2="334.3" stroke="#d4d4d4" stroke-width="0.6" />
<line x1="106.18" y1="198" x2="106.18" y2="334.3" stroke="#d4d4d4" stroke-width="0.6" />
<line x1="115.9" y1="198" x2="115.9" y2="334.3" stroke="#d4d4d4" stroke-width="0.6" />
<line x1="125.61" y1="198" x2="125.61" y2="334.3" stroke="#d4d4d4" stroke-width="0.6" />
<line x1="135.32" y1="198" x2="135.32" y2="334.3" stroke="#d4d4d4" stroke-width="0.6" />
<line x1="145.03" y1="198" x2="145.03" y2="334.3" stroke="#d4d4d4" stroke-width="0.6" />
<line x1="154.74" y1="198" x2="154.74" y2="334.3" stroke="#d4d4d4" stroke-width="0.6" />
<line x1="164.46" y1="198" x2="164.46" y2="334.3" stroke="#d4d4d4" stroke-width="0.6" />
<line x1="174.17" y1="198" x2="174.17" y2="334.3" stroke="#d4d4d4" stroke-width="0.6" />
<line x1="183.88" y1="198" x2="183.88" y2="334.3" stroke="#d4d4d4" stroke-width="0.6" />
<line x1="193.59" y1="198" x2="193.59" y2="334.3" stroke="#d4d4d4" stroke-width="0.6" />
<line x1="203.3" y1="198" x2="203.3" y2="334.3" stroke="#d4d4d4" stroke-width="0.6" />
<line x1="33.4" y1="328.1" x2="208.6" y2="328.1" stroke="#d4d4d4" stroke-width="0.6" />
<line x1="33.4" y1="315.7" x2="208.6" y2="315.7" stroke="#d4d4d4" stroke-width="0.6" />
<line x1="33.4" y1="303.3" x2="208.6" y2="303.3" stroke="#d4d4d4" stroke-width="0.6" />
<line x1="33.4" y1="290.9" x2="208.6" y2="290.9" stroke="#d4d4d4" stroke-width="0.6" />
<line x1="33.4" y1="278.5" x2="208.6" y2="278.5" stroke="#d4d4d4" stroke-width="0.6" />
<line x1="33.4" y1="266.1" x2="208.6" y2="266.1" stroke="#d4d4d4" stroke-width="0.6" />
<line x1="33.4" y1="253.7" x2="208.6" y2="253.7" stroke="#d4d4d4" stroke-width="0.6" />
<line x1="33.4" y1="241.3" x2="208.6" y2="241.3" stroke="#d4d4d4" stroke-width="0.6" />
<line x1="33.4" y1="228.9" x2="208.6" y2="228.9" stroke="#d4d4d4" stroke-width="0.6" />
<line x1="33.4" y1="216.5" x2="208.6" y2="216.5" stroke="#d4d4d4" stroke-width="0.6" />
<line x1="33.4" y1="204.1" x2="208.6" y2="204.1" stroke="#d4d4d4" stroke-width="0.6" />
<path d="M38.2,225.18 L39.59,225.18 L40.97,225.17 L42.36,225.15 L43.75,225.13 L45.14,225.11 L46.52,225.07 L47.91,225.03 L49.3,224.99 L50.69,224.94 L52.07,224.88 L53.46,224.82 L54.85,224.75 L56.24,224.68 L57.62,224.6 L59.01,224.52 L60.4,224.42 L61.79,224.33 L63.17,224.23 L64.56,224.12 L65.95,224.01 L67.34,223.89 L68.72,223.76 L70.11,223.63 L71.5,223.5 L72.89,223.36 L74.27,223.22 L75.66,223.07 L77.05,222.91 L78.44,222.75 L79.82,222.59 L81.21,222.42 L82.6,222.24 L83.99,222.06 L85.37,221.88 L86.76,221.69 L88.15,221.5 L89.53,221.3 L90.92,221.1 L92.31,220.89 L93.7,220.69 L95.08,220.47 L96.47,220.26 L97.86,220.03 L99.25,219.81 L100.63,219.58 L102.02,219.35 L103.41,219.12 L104.8,218.88 L106.18,218.64 L107.57,218.39 L108.96,218.15 L110.35,217.9 L111.73,217.65 L113.12,217.39 L114.51,217.14 L115.9,216.88 L117.28,216.62 L118.67,216.35 L120.06,216.09 L121.45,215.82 L122.83,215.56 L124.22,215.29 L125.61,215.02 L127,214.75 L128.38,214.48 L129.77,214.21 L131.16,213.93 L132.55,213.66 L133.93,213.39 L135.32,213.12 L136.71,212.84 L138.09,212.57 L139.48,212.3 L140.87,212.03 L142.26,211.76 L143.64,211.49 L145.03,211.22 L146.42,210.96 L147.81,210.69 L149.19,210.43 L150.58,210.17 L151.97,209.91 L153.36,209.66 L154.74,209.41 L156.13,209.16 L157.52,208.91 L158.91,208.67 L160.29,208.43 L161.68,208.19 L163.07,207.96 L164.46,207.73 L165.84,207.51 L167.23,207.29 L168.62,207.08 L170.01,206.87 L171.39,206.67 L172.78,206.47 L174.17,206.28 L175.56,206.1 L176.94,205.92 L178.33,205.75 L179.72,205.58 L181.11,205.43 L182.49,205.28 L183.88,205.13 L185.27,205 L186.65,204.87 L188.04,204.76 L189.43,204.65 L190.82,204.55 L192.2,204.46 L193.59,204.37 L194.98,204.3 L196.37,204.24 L197.75,204.19 L199.14,204.15 L200.53,204.12 L201.92,204.11 L203.3,204.1" fill="none" stroke="#1a1a1a" stroke-width="1.25" stroke-linejoin="round" />
<path d="M38.2,246.07 L39.59,246.07 L40.97,246.05 L42.36,246.02 L43.75,245.98 L45.14,245.93 L46.52,245.86 L47.91,245.78 L49.3,245.7 L50.69,245.6 L52.07,245.48 L53.46,245.36 L54.85,245.22 L56.24,245.08 L57.62,244.92 L59.01,244.75 L60.4,244.57 L61.79,244.38 L63.17,244.18 L64.56,243.96 L65.95,243.74 L67.34,243.5 L68.72,243.25 L70.11,243 L71.5,242.73 L72.89,242.45 L74.27,242.16 L75.66,241.86 L77.05,241.56 L78.44,241.24 L79.82,240.91 L81.21,240.57 L82.6,240.22 L83.99,239.87 L85.37,239.5 L86.76,239.13 L88.15,238.74 L89.53,238.35 L90.92,237.95 L92.31,237.54 L93.7,237.12 L95.08,236.7 L96.47,236.27 L97.86,235.83 L99.25,235.38 L100.63,234.93 L102.02,234.47 L103.41,234 L104.8,233.53 L106.18,233.05 L107.57,232.56 L108.96,232.07 L110.35,231.57 L111.73,231.07 L113.12,230.57 L114.51,230.06 L115.9,229.54 L117.28,229.02 L118.67,228.5 L120.06,227.97 L121.45,227.45 L122.83,226.91 L124.22,226.38 L125.61,225.84 L127,225.3 L128.38,224.76 L129.77,224.22 L131.16,223.68 L132.55,223.14 L133.93,222.59 L135.32,222.05 L136.71,221.51 L138.09,220.97 L139.48,220.43 L140.87,219.89 L142.26,219.35 L143.64,218.82 L145.03,218.28 L146.42,217.76 L147.81,217.23 L149.19,216.71 L150.58,216.19 L151.97,215.68 L153.36,215.17 L154.74,214.67 L156.13,214.17 L157.52,213.68 L158.91,213.2 L160.29,212.72 L161.68,212.25 L163.07,211.79 L164.46,211.34 L165.84,210.89 L167.23,210.46 L168.62,210.04 L170.01,209.62 L171.39,209.22 L172.78,208.83 L174.17,208.45 L175.56,208.08 L176.94,207.72 L178.33,207.38 L179.72,207.05 L181.11,206.74 L182.49,206.44 L183.88,206.16 L185.27,205.89 L186.65,205.64 L188.04,205.41 L189.43,205.19 L190.82,204.99 L192.2,204.81 L193.59,204.65 L194.98,204.51 L196.37,204.38 L197.75,204.28 L199.14,204.2 L200.53,204.15 L201.92,204.11 L203.3,204.1" fill="none" stroke="#1a1a1a" stroke-width="1.25" stroke-linejoin="round" />
<path d="M38.2,266.97 L39.59,266.96 L40.97,266.93 L42.36,266.89 L43.75,266.83 L45.14,266.75 L46.52,266.65 L47.91,266.53 L49.3,266.4 L50.69,266.25 L52.07,266.08 L53.46,265.9 L54.85,265.7 L56.24,265.48 L57.62,265.24 L59.01,264.99 L60.4,264.72 L61.79,264.43 L63.17,264.12 L64.56,263.8 L65.95,263.47 L67.34,263.11 L68.72,262.74 L70.11,262.36 L71.5,261.96 L72.89,261.54 L74.27,261.11 L75.66,260.66 L77.05,260.2 L78.44,259.72 L79.82,259.23 L81.21,258.72 L82.6,258.2 L83.99,257.67 L85.37,257.12 L86.76,256.56 L88.15,255.99 L89.53,255.4 L90.92,254.8 L92.31,254.19 L93.7,253.56 L95.08,252.93 L96.47,252.28 L97.86,251.62 L99.25,250.95 L100.63,250.27 L102.02,249.58 L103.41,248.88 L104.8,248.17 L106.18,247.46 L107.57,246.73 L108.96,245.99 L110.35,245.25 L111.73,244.5 L113.12,243.74 L114.51,242.98 L115.9,242.21 L117.28,241.43 L118.67,240.65 L120.06,239.86 L121.45,239.07 L122.83,238.27 L124.22,237.47 L125.61,236.67 L127,235.86 L128.38,235.05 L129.77,234.24 L131.16,233.43 L132.55,232.61 L133.93,231.8 L135.32,230.99 L136.71,230.18 L138.09,229.36 L139.48,228.55 L140.87,227.75 L142.26,226.94 L143.64,226.14 L145.03,225.34 L146.42,224.55 L147.81,223.76 L149.19,222.98 L150.58,222.21 L151.97,221.44 L153.36,220.68 L154.74,219.93 L156.13,219.18 L157.52,218.45 L158.91,217.72 L160.29,217.01 L161.68,216.31 L163.07,215.62 L164.46,214.94 L165.84,214.27 L167.23,213.62 L168.62,212.99 L170.01,212.37 L171.39,211.77 L172.78,211.18 L174.17,210.61 L175.56,210.06 L176.94,209.53 L178.33,209.02 L179.72,208.53 L181.11,208.06 L182.49,207.61 L183.88,207.18 L185.27,206.78 L186.65,206.41 L188.04,206.05 L189.43,205.73 L190.82,205.43 L192.2,205.16 L193.59,204.92 L194.98,204.71 L196.37,204.53 L197.75,204.37 L199.14,204.26 L200.53,204.17 L201.92,204.12 L203.3,204.1" fill="none" stroke="#1a1a1a" stroke-width="1.25" stroke-linejoin="round" />
<path d="M38.2,287.86 L39.59,287.85 L40.97,287.81 L42.36,287.76 L43.75,287.67 L45.14,287.57 L46.52,287.44 L47.91,287.28 L49.3,287.11 L50.69,286.91 L52.07,286.68 L53.46,286.44 L54.85,286.17 L56.24,285.87 L57.62,285.56 L59.01,285.22 L60.4,284.86 L61.79,284.48 L63.17,284.07 L64.56,283.65 L65.95,283.2 L67.34,282.73 L68.72,282.23 L70.11,281.72 L71.5,281.19 L72.89,280.63 L74.27,280.06 L75.66,279.46 L77.05,278.84 L78.44,278.21 L79.82,277.55 L81.21,276.88 L82.6,276.19 L83.99,275.47 L85.37,274.74 L86.76,274 L88.15,273.23 L89.53,272.45 L90.92,271.65 L92.31,270.83 L93.7,270 L95.08,269.16 L96.47,268.29 L97.86,267.42 L99.25,266.52 L100.63,265.62 L102.02,264.7 L103.41,263.77 L104.8,262.82 L106.18,261.87 L107.57,260.9 L108.96,259.92 L110.35,258.93 L111.73,257.93 L113.12,256.92 L114.51,255.9 L115.9,254.87 L117.28,253.84 L118.67,252.79 L120.06,251.74 L121.45,250.69 L122.83,249.63 L124.22,248.56 L125.61,247.49 L127,246.41 L128.38,245.34 L129.77,244.26 L131.16,243.17 L132.55,242.09 L133.93,241.01 L135.32,239.92 L136.71,238.84 L138.09,237.76 L139.48,236.68 L140.87,235.61 L142.26,234.53 L143.64,233.47 L145.03,232.41 L146.42,231.35 L147.81,230.3 L149.19,229.26 L150.58,228.23 L151.97,227.2 L153.36,226.19 L154.74,225.19 L156.13,224.19 L157.52,223.22 L158.91,222.25 L160.29,221.3 L161.68,220.36 L163.07,219.44 L164.46,218.54 L165.84,217.66 L167.23,216.79 L168.62,215.94 L170.01,215.12 L171.39,214.31 L172.78,213.53 L174.17,212.77 L175.56,212.04 L176.94,211.33 L178.33,210.65 L179.72,210 L181.11,209.37 L182.49,208.77 L183.88,208.21 L185.27,207.67 L186.65,207.17 L188.04,206.7 L189.43,206.27 L190.82,205.87 L192.2,205.51 L193.59,205.19 L194.98,204.91 L196.37,204.67 L197.75,204.47 L199.14,204.31 L200.53,204.19 L201.92,204.12 L203.3,204.1" fill="none" stroke="#1a1a1a" stroke-width="1.25" stroke-linejoin="round" />
<path d="M38.2,308.76 L39.59,308.74 L40.97,308.7 L42.36,308.62 L43.75,308.52 L45.14,308.39 L46.52,308.22 L47.91,308.03 L49.3,307.81 L50.69,307.56 L52.07,307.28 L53.46,306.98 L54.85,306.64 L56.24,306.27 L57.62,305.88 L59.01,305.46 L60.4,305.01 L61.79,304.53 L63.17,304.02 L64.56,303.49 L65.95,302.93 L67.34,302.34 L68.72,301.72 L70.11,301.08 L71.5,300.42 L72.89,299.72 L74.27,299 L75.66,298.26 L77.05,297.49 L78.44,296.69 L79.82,295.88 L81.21,295.03 L82.6,294.17 L83.99,293.28 L85.37,292.37 L86.76,291.43 L88.15,290.48 L89.53,289.5 L90.92,288.5 L92.31,287.48 L93.7,286.44 L95.08,285.38 L96.47,284.31 L97.86,283.21 L99.25,282.1 L100.63,280.96 L102.02,279.82 L103.41,278.65 L104.8,277.47 L106.18,276.28 L107.57,275.07 L108.96,273.84 L110.35,272.6 L111.73,271.35 L113.12,270.09 L114.51,268.82 L115.9,267.54 L117.28,266.24 L118.67,264.94 L120.06,263.63 L121.45,262.31 L122.83,260.98 L124.22,259.65 L125.61,258.31 L127,256.97 L128.38,255.62 L129.77,254.27 L131.16,252.92 L132.55,251.57 L133.93,250.21 L135.32,248.86 L136.71,247.51 L138.09,246.16 L139.48,244.81 L140.87,243.47 L142.26,242.13 L143.64,240.79 L145.03,239.47 L146.42,238.15 L147.81,236.84 L149.19,235.53 L150.58,234.24 L151.97,232.97 L153.36,231.7 L154.74,230.45 L156.13,229.21 L157.52,227.98 L158.91,226.78 L160.29,225.59 L161.68,224.42 L163.07,223.27 L164.46,222.14 L165.84,221.04 L167.23,219.96 L168.62,218.9 L170.01,217.87 L171.39,216.86 L172.78,215.88 L174.17,214.94 L175.56,214.02 L176.94,213.14 L178.33,212.28 L179.72,211.47 L181.11,210.68 L182.49,209.94 L183.88,209.23 L185.27,208.57 L186.65,207.94 L188.04,207.35 L189.43,206.81 L190.82,206.32 L192.2,205.87 L193.59,205.46 L194.98,205.11 L196.37,204.81 L197.75,204.56 L199.14,204.36 L200.53,204.22 L201.92,204.13 L203.3,204.1" fill="none" stroke="#1a1a1a" stroke-width="1.25" stroke-linejoin="round" />
<path d="M38.2,329.65 L39.59,329.63 L40.97,329.58 L42.36,329.49 L43.75,329.37 L45.14,329.21 L46.52,329.01 L47.91,328.78 L49.3,328.52 L50.69,328.22 L52.07,327.88 L53.46,327.51 L54.85,327.11 L56.24,326.67 L57.62,326.2 L59.01,325.69 L60.4,325.15 L61.79,324.58 L63.17,323.97 L64.56,323.33 L65.95,322.66 L67.34,321.95 L68.72,321.21 L70.11,320.45 L71.5,319.64 L72.89,318.81 L74.27,317.95 L75.66,317.06 L77.05,316.13 L78.44,315.18 L79.82,314.2 L81.21,313.19 L82.6,312.15 L83.99,311.08 L85.37,309.99 L86.76,308.87 L88.15,307.72 L89.53,306.55 L90.92,305.35 L92.31,304.13 L93.7,302.88 L95.08,301.61 L96.47,300.32 L97.86,299 L99.25,297.67 L100.63,296.31 L102.02,294.93 L103.41,293.54 L104.8,292.12 L106.18,290.69 L107.57,289.23 L108.96,287.77 L110.35,286.28 L111.73,284.78 L113.12,283.27 L114.51,281.74 L115.9,280.2 L117.28,278.65 L118.67,277.09 L120.06,275.51 L121.45,273.93 L122.83,272.34 L124.22,270.74 L125.61,269.14 L127,267.52 L128.38,265.91 L129.77,264.29 L131.16,262.67 L132.55,261.04 L133.93,259.42 L135.32,257.8 L136.71,256.17 L138.09,254.55 L139.48,252.94 L140.87,251.32 L142.26,249.72 L143.64,248.12 L145.03,246.53 L146.42,244.94 L147.81,243.37 L149.19,241.81 L150.58,240.26 L151.97,238.73 L153.36,237.21 L154.74,235.71 L156.13,234.22 L157.52,232.75 L158.91,231.31 L160.29,229.88 L161.68,228.48 L163.07,227.1 L164.46,225.75 L165.84,224.42 L167.23,223.12 L168.62,221.85 L170.01,220.62 L171.39,219.41 L172.78,218.24 L174.17,217.1 L175.56,216 L176.94,214.94 L178.33,213.92 L179.72,212.94 L181.11,212 L182.49,211.11 L183.88,210.26 L185.27,209.46 L186.65,208.7 L188.04,208 L189.43,207.35 L190.82,206.76 L192.2,206.22 L193.59,205.74 L194.98,205.31 L196.37,204.95 L197.75,204.65 L199.14,204.41 L200.53,204.24 L201.92,204.14 L203.3,204.1" fill="none" stroke="#1a1a1a" stroke-width="1.25" stroke-linejoin="round" />
<path d="M38.2,225.18 L39.59,225.18 L40.97,225.17 L42.36,225.15 L43.75,225.13 L45.14,225.11 L46.52,225.07 L47.91,225.03 L49.3,224.99 L50.69,224.94 L52.07,224.88 L53.46,224.82 L54.85,224.75 L56.24,224.68 L57.62,224.6 L59.01,224.52 L60.4,224.42 L61.79,224.33 L63.17,224.23 L64.56,224.12 L65.95,224.01 L67.34,223.89 L68.72,223.76 L70.11,223.63 L71.5,223.5 L72.89,223.36 L74.27,223.22 L75.66,223.07 L77.05,222.91 L78.44,222.75 L79.82,222.59 L81.21,222.42 L82.6,222.24 L83.99,222.06 L85.37,221.88 L86.76,221.69 L88.15,221.5 L89.53,221.3 L90.92,221.1 L92.31,220.89 L93.7,220.69 L95.08,220.47 L96.47,220.26 L97.86,220.03 L99.25,219.81 L100.63,219.58 L102.02,219.35 L103.41,219.12 L104.8,218.88 L106.18,218.64 L107.57,218.39 L108.96,218.15 L110.35,217.9 L111.73,217.65 L113.12,217.39 L114.51,217.14 L115.9,216.88 L117.28,216.62 L118.67,216.35 L120.06,216.09 L121.45,215.82 L122.83,215.56 L124.22,215.29 L125.61,215.02 L127,214.75 L128.38,214.48 L129.77,214.21 L131.16,213.93 L132.55,213.66 L133.93,213.39 L135.32,213.12 L136.71,212.84 L138.09,212.57 L139.48,212.3 L140.87,212.03 L142.26,211.76 L143.64,211.49 L145.03,211.22 L146.42,210.96 L147.81,210.69 L149.19,210.43 L150.58,210.17 L151.97,209.91 L153.36,209.66 L154.74,209.41 L156.13,209.16 L157.52,208.91 L158.91,208.67 L160.29,208.43 L161.68,208.19 L163.07,207.96 L164.46,207.73 L165.84,207.51 L167.23,207.29 L168.62,207.08 L170.01,206.87 L171.39,206.67 L172.78,206.47 L174.17,206.28 L175.56,206.1 L176.94,205.92 L178.33,205.75 L179.72,205.58 L181.11,205.43 L182.49,205.28 L183.88,205.13 L185.27,205 L186.65,204.87 L188.04,204.76 L189.43,204.65 L190.82,204.55 L192.2,204.46 L193.59,204.37 L194.98,204.3 L196.37,204.24 L197.75,204.19 L199.14,204.15 L200.53,204.12 L201.92,204.11 L203.3,204.1" fill="none" stroke="#ff2020" stroke-width="1.0" stroke-linejoin="round" stroke-dasharray="2.2 3.4"/>
<path d="M38.2,246.07 L39.59,246.07 L40.97,246.05 L42.36,246.02 L43.75,245.98 L45.14,245.93 L46.52,245.86 L47.91,245.78 L49.3,245.7 L50.69,245.6 L52.07,245.48 L53.46,245.36 L54.85,245.22 L56.24,245.08 L57.62,244.92 L59.01,244.75 L60.4,244.57 L61.79,244.38 L63.17,244.18 L64.56,243.96 L65.95,243.74 L67.34,243.5 L68.72,243.25 L70.11,243 L71.5,242.73 L72.89,242.45 L74.27,242.16 L75.66,241.86 L77.05,241.56 L78.44,241.24 L79.82,240.91 L81.21,240.57 L82.6,240.22 L83.99,239.87 L85.37,239.5 L86.76,239.13 L88.15,238.74 L89.53,238.35 L90.92,237.95 L92.31,237.54 L93.7,237.12 L95.08,236.7 L96.47,236.27 L97.86,235.83 L99.25,235.38 L100.63,234.93 L102.02,234.47 L103.41,234 L104.8,233.53 L106.18,233.05 L107.57,232.56 L108.96,232.07 L110.35,231.57 L111.73,231.07 L113.12,230.57 L114.51,230.06 L115.9,229.54 L117.28,229.02 L118.67,228.5 L120.06,227.97 L121.45,227.45 L122.83,226.91 L124.22,226.38 L125.61,225.84 L127,225.3 L128.38,224.76 L129.77,224.22 L131.16,223.68 L132.55,223.14 L133.93,222.59 L135.32,222.05 L136.71,221.51 L138.09,220.97 L139.48,220.43 L140.87,219.89 L142.26,219.35 L143.64,218.82 L145.03,218.28 L146.42,217.76 L147.81,217.23 L149.19,216.71 L150.58,216.19 L151.97,215.68 L153.36,215.17 L154.74,214.67 L156.13,214.17 L157.52,213.68 L158.91,213.2 L160.29,212.72 L161.68,212.25 L163.07,211.79 L164.46,211.34 L165.84,210.89 L167.23,210.46 L168.62,210.04 L170.01,209.62 L171.39,209.22 L172.78,208.83 L174.17,208.45 L175.56,208.08 L176.94,207.72 L178.33,207.38 L179.72,207.05 L181.11,206.74 L182.49,206.44 L183.88,206.16 L185.27,205.89 L186.65,205.64 L188.04,205.41 L189.43,205.19 L190.82,204.99 L192.2,204.81 L193.59,204.65 L194.98,204.51 L196.37,204.38 L197.75,204.28 L199.14,204.2 L200.53,204.15 L201.92,204.11 L203.3,204.1" fill="none" stroke="#ff2020" stroke-width="1.0" stroke-linejoin="round" stroke-dasharray="2.2 3.4"/>
<path d="M38.2,266.97 L39.59,266.96 L40.97,266.93 L42.36,266.89 L43.75,266.83 L45.14,266.75 L46.52,266.65 L47.91,266.53 L49.3,266.4 L50.69,266.25 L52.07,266.08 L53.46,265.9 L54.85,265.7 L56.24,265.48 L57.62,265.24 L59.01,264.99 L60.4,264.72 L61.79,264.43 L63.17,264.12 L64.56,263.8 L65.95,263.47 L67.34,263.11 L68.72,262.74 L70.11,262.36 L71.5,261.96 L72.89,261.54 L74.27,261.11 L75.66,260.66 L77.05,260.2 L78.44,259.72 L79.82,259.23 L81.21,258.72 L82.6,258.2 L83.99,257.67 L85.37,257.12 L86.76,256.56 L88.15,255.99 L89.53,255.4 L90.92,254.8 L92.31,254.19 L93.7,253.56 L95.08,252.93 L96.47,252.28 L97.86,251.62 L99.25,250.95 L100.63,250.27 L102.02,249.58 L103.41,248.88 L104.8,248.17 L106.18,247.46 L107.57,246.73 L108.96,245.99 L110.35,245.25 L111.73,244.5 L113.12,243.74 L114.51,242.98 L115.9,242.21 L117.28,241.43 L118.67,240.65 L120.06,239.86 L121.45,239.07 L122.83,238.27 L124.22,237.47 L125.61,236.67 L127,235.86 L128.38,235.05 L129.77,234.24 L131.16,233.43 L132.55,232.61 L133.93,231.8 L135.32,230.99 L136.71,230.18 L138.09,229.36 L139.48,228.55 L140.87,227.75 L142.26,226.94 L143.64,226.14 L145.03,225.34 L146.42,224.55 L147.81,223.76 L149.19,222.98 L150.58,222.21 L151.97,221.44 L153.36,220.68 L154.74,219.93 L156.13,219.18 L157.52,218.45 L158.91,217.72 L160.29,217.01 L161.68,216.31 L163.07,215.62 L164.46,214.94 L165.84,214.27 L167.23,213.62 L168.62,212.99 L170.01,212.37 L171.39,211.77 L172.78,211.18 L174.17,210.61 L175.56,210.06 L176.94,209.53 L178.33,209.02 L179.72,208.53 L181.11,208.06 L182.49,207.61 L183.88,207.18 L185.27,206.78 L186.65,206.41 L188.04,206.05 L189.43,205.73 L190.82,205.43 L192.2,205.16 L193.59,204.92 L194.98,204.71 L196.37,204.53 L197.75,204.37 L199.14,204.26 L200.53,204.17 L201.92,204.12 L203.3,204.1" fill="none" stroke="#ff2020" stroke-width="1.0" stroke-linejoin="round" stroke-dasharray="2.2 3.4"/>
<path d="M38.2,287.86 L39.59,287.85 L40.97,287.81 L42.36,287.76 L43.75,287.67 L45.14,287.57 L46.52,287.44 L47.91,287.28 L49.3,287.11 L50.69,286.91 L52.07,286.68 L53.46,286.44 L54.85,286.17 L56.24,285.87 L57.62,285.56 L59.01,285.22 L60.4,284.86 L61.79,284.48 L63.17,284.07 L64.56,283.65 L65.95,283.2 L67.34,282.73 L68.72,282.23 L70.11,281.72 L71.5,281.19 L72.89,280.63 L74.27,280.06 L75.66,279.46 L77.05,278.84 L78.44,278.21 L79.82,277.55 L81.21,276.88 L82.6,276.19 L83.99,275.47 L85.37,274.74 L86.76,274 L88.15,273.23 L89.53,272.45 L90.92,271.65 L92.31,270.83 L93.7,270 L95.08,269.16 L96.47,268.29 L97.86,267.42 L99.25,266.52 L100.63,265.62 L102.02,264.7 L103.41,263.77 L104.8,262.82 L106.18,261.87 L107.57,260.9 L108.96,259.92 L110.35,258.93 L111.73,257.93 L113.12,256.92 L114.51,255.9 L115.9,254.87 L117.28,253.84 L118.67,252.79 L120.06,251.74 L121.45,250.69 L122.83,249.63 L124.22,248.56 L125.61,247.49 L127,246.41 L128.38,245.34 L129.77,244.26 L131.16,243.17 L132.55,242.09 L133.93,241.01 L135.32,239.92 L136.71,238.84 L138.09,237.76 L139.48,236.68 L140.87,235.61 L142.26,234.53 L143.64,233.47 L145.03,232.41 L146.42,231.35 L147.81,230.3 L149.19,229.26 L150.58,228.23 L151.97,227.2 L153.36,226.19 L154.74,225.19 L156.13,224.19 L157.52,223.22 L158.91,222.25 L160.29,221.3 L161.68,220.36 L163.07,219.44 L164.46,218.54 L165.84,217.66 L167.23,216.79 L168.62,215.94 L170.01,215.12 L171.39,214.31 L172.78,213.53 L174.17,212.77 L175.56,212.04 L176.94,211.33 L178.33,210.65 L179.72,210 L181.11,209.37 L182.49,208.77 L183.88,208.21 L185.27,207.67 L186.65,207.17 L188.04,206.7 L189.43,206.27 L190.82,205.87 L192.2,205.51 L193.59,205.19 L194.98,204.91 L196.37,204.67 L197.75,204.47 L199.14,204.31 L200.53,204.19 L201.92,204.12 L203.3,204.1" fill="none" stroke="#ff2020" stroke-width="1.0" stroke-linejoin="round" stroke-dasharray="2.2 3.4"/>
<path d="M38.2,308.76 L39.59,308.74 L40.97,308.7 L42.36,308.62 L43.75,308.52 L45.14,308.39 L46.52,308.22 L47.91,308.03 L49.3,307.81 L50.69,307.56 L52.07,307.28 L53.46,306.98 L54.85,306.64 L56.24,306.27 L57.62,305.88 L59.01,305.46 L60.4,305.01 L61.79,304.53 L63.17,304.02 L64.56,303.49 L65.95,302.93 L67.34,302.34 L68.72,301.72 L70.11,301.08 L71.5,300.42 L72.89,299.72 L74.27,299 L75.66,298.26 L77.05,297.49 L78.44,296.69 L79.82,295.88 L81.21,295.03 L82.6,294.17 L83.99,293.28 L85.37,292.37 L86.76,291.43 L88.15,290.48 L89.53,289.5 L90.92,288.5 L92.31,287.48 L93.7,286.44 L95.08,285.38 L96.47,284.31 L97.86,283.21 L99.25,282.1 L100.63,280.96 L102.02,279.82 L103.41,278.65 L104.8,277.47 L106.18,276.28 L107.57,275.07 L108.96,273.84 L110.35,272.6 L111.73,271.35 L113.12,270.09 L114.51,268.82 L115.9,267.54 L117.28,266.24 L118.67,264.94 L120.06,263.63 L121.45,262.31 L122.83,260.98 L124.22,259.65 L125.61,258.31 L127,256.97 L128.38,255.62 L129.77,254.27 L131.16,252.92 L132.55,251.57 L133.93,250.21 L135.32,248.86 L136.71,247.51 L138.09,246.16 L139.48,244.81 L140.87,243.47 L142.26,242.13 L143.64,240.79 L145.03,239.47 L146.42,238.15 L147.81,236.84 L149.19,235.53 L150.58,234.24 L151.97,232.97 L153.36,231.7 L154.74,230.45 L156.13,229.21 L157.52,227.98 L158.91,226.78 L160.29,225.59 L161.68,224.42 L163.07,223.27 L164.46,222.14 L165.84,221.04 L167.23,219.96 L168.62,218.9 L170.01,217.87 L171.39,216.86 L172.78,215.88 L174.17,214.94 L175.56,214.02 L176.94,213.14 L178.33,212.28 L179.72,211.47 L181.11,210.68 L182.49,209.94 L183.88,209.23 L185.27,208.57 L186.65,207.94 L188.04,207.35 L189.43,206.81 L190.82,206.32 L192.2,205.87 L193.59,205.46 L194.98,205.11 L196.37,204.81 L197.75,204.56 L199.14,204.36 L200.53,204.22 L201.92,204.13 L203.3,204.1" fill="none" stroke="#ff2020" stroke-width="1.0" stroke-linejoin="round" stroke-dasharray="2.2 3.4"/>
<path d="M38.2,329.65 L39.59,329.63 L40.97,329.58 L42.36,329.49 L43.75,329.37 L45.14,329.21 L46.52,329.01 L47.91,328.78 L49.3,328.52 L50.69,328.22 L52.07,327.88 L53.46,327.51 L54.85,327.11 L56.24,326.67 L57.62,326.2 L59.01,325.69 L60.4,325.15 L61.79,324.58 L63.17,323.97 L64.56,323.33 L65.95,322.66 L67.34,321.95 L68.72,321.21 L70.11,320.45 L71.5,319.64 L72.89,318.81 L74.27,317.95 L75.66,317.06 L77.05,316.13 L78.44,315.18 L79.82,314.2 L81.21,313.19 L82.6,312.15 L83.99,311.08 L85.37,309.99 L86.76,308.87 L88.15,307.72 L89.53,306.55 L90.92,305.35 L92.31,304.13 L93.7,302.88 L95.08,301.61 L96.47,300.32 L97.86,299 L99.25,297.67 L100.63,296.31 L102.02,294.93 L103.41,293.54 L104.8,292.12 L106.18,290.69 L107.57,289.23 L108.96,287.77 L110.35,286.28 L111.73,284.78 L113.12,283.27 L114.51,281.74 L115.9,280.2 L117.28,278.65 L118.67,277.09 L120.06,275.51 L121.45,273.93 L122.83,272.34 L124.22,270.74 L125.61,269.14 L127,267.52 L128.38,265.91 L129.77,264.29 L131.16,262.67 L132.55,261.04 L133.93,259.42 L135.32,257.8 L136.71,256.17 L138.09,254.55 L139.48,252.94 L140.87,251.32 L142.26,249.72 L143.64,248.12 L145.03,246.53 L146.42,244.94 L147.81,243.37 L149.19,241.81 L150.58,240.26 L151.97,238.73 L153.36,237.21 L154.74,235.71 L156.13,234.22 L157.52,232.75 L158.91,231.31 L160.29,229.88 L161.68,228.48 L163.07,227.1 L164.46,225.75 L165.84,224.42 L167.23,223.12 L168.62,221.85 L170.01,220.62 L171.39,219.41 L172.78,218.24 L174.17,217.1 L175.56,216 L176.94,214.94 L178.33,213.92 L179.72,212.94 L181.11,212 L182.49,211.11 L183.88,210.26 L185.27,209.46 L186.65,208.7 L188.04,208 L189.43,207.35 L190.82,206.76 L192.2,206.22 L193.59,205.74 L194.98,205.31 L196.37,204.95 L197.75,204.65 L199.14,204.41 L200.53,204.24 L201.92,204.14 L203.3,204.1" fill="none" stroke="#ff2020" stroke-width="1.0" stroke-linejoin="round" stroke-dasharray="2.2 3.4"/>
<line x1="38.2" y1="334.3" x2="38.2" y2="331.4" stroke="#111" stroke-width="0.95" />
<line x1="38.2" y1="198" x2="38.2" y2="200.9" stroke="#111" stroke-width="0.95" />
<line x1="47.91" y1="334.3" x2="47.91" y2="331.4" stroke="#111" stroke-width="0.95" />
<line x1="47.91" y1="198" x2="47.91" y2="200.9" stroke="#111" stroke-width="0.95" />
<line x1="57.62" y1="334.3" x2="57.62" y2="331.4" stroke="#111" stroke-width="0.95" />
<line x1="57.62" y1="198" x2="57.62" y2="200.9" stroke="#111" stroke-width="0.95" />
<line x1="67.34" y1="334.3" x2="67.34" y2="331.4" stroke="#111" stroke-width="0.95" />
<line x1="67.34" y1="198" x2="67.34" y2="200.9" stroke="#111" stroke-width="0.95" />
<line x1="77.05" y1="334.3" x2="77.05" y2="331.4" stroke="#111" stroke-width="0.95" />
<line x1="77.05" y1="198" x2="77.05" y2="200.9" stroke="#111" stroke-width="0.95" />
<line x1="86.76" y1="334.3" x2="86.76" y2="331.4" stroke="#111" stroke-width="0.95" />
<line x1="86.76" y1="198" x2="86.76" y2="200.9" stroke="#111" stroke-width="0.95" />
<line x1="96.47" y1="334.3" x2="96.47" y2="331.4" stroke="#111" stroke-width="0.95" />
<line x1="96.47" y1="198" x2="96.47" y2="200.9" stroke="#111" stroke-width="0.95" />
<line x1="106.18" y1="334.3" x2="106.18" y2="331.4" stroke="#111" stroke-width="0.95" />
<line x1="106.18" y1="198" x2="106.18" y2="200.9" stroke="#111" stroke-width="0.95" />
<line x1="115.9" y1="334.3" x2="115.9" y2="331.4" stroke="#111" stroke-width="0.95" />
<line x1="115.9" y1="198" x2="115.9" y2="200.9" stroke="#111" stroke-width="0.95" />
<line x1="125.61" y1="334.3" x2="125.61" y2="331.4" stroke="#111" stroke-width="0.95" />
<line x1="125.61" y1="198" x2="125.61" y2="200.9" stroke="#111" stroke-width="0.95" />
<line x1="135.32" y1="334.3" x2="135.32" y2="331.4" stroke="#111" stroke-width="0.95" />
<line x1="135.32" y1="198" x2="135.32" y2="200.9" stroke="#111" stroke-width="0.95" />
<line x1="145.03" y1="334.3" x2="145.03" y2="331.4" stroke="#111" stroke-width="0.95" />
<line x1="145.03" y1="198" x2="145.03" y2="200.9" stroke="#111" stroke-width="0.95" />
<line x1="154.74" y1="334.3" x2="154.74" y2="331.4" stroke="#111" stroke-width="0.95" />
<line x1="154.74" y1="198" x2="154.74" y2="200.9" stroke="#111" stroke-width="0.95" />
<line x1="164.46" y1="334.3" x2="164.46" y2="331.4" stroke="#111" stroke-width="0.95" />
<line x1="164.46" y1="198" x2="164.46" y2="200.9" stroke="#111" stroke-width="0.95" />
<line x1="174.17" y1="334.3" x2="174.17" y2="331.4" stroke="#111" stroke-width="0.95" />
<line x1="174.17" y1="198" x2="174.17" y2="200.9" stroke="#111" stroke-width="0.95" />
<line x1="183.88" y1="334.3" x2="183.88" y2="331.4" stroke="#111" stroke-width="0.95" />
<line x1="183.88" y1="198" x2="183.88" y2="200.9" stroke="#111" stroke-width="0.95" />
<line x1="193.59" y1="334.3" x2="193.59" y2="331.4" stroke="#111" stroke-width="0.95" />
<line x1="193.59" y1="198" x2="193.59" y2="200.9" stroke="#111" stroke-width="0.95" />
<line x1="203.3" y1="334.3" x2="203.3" y2="331.4" stroke="#111" stroke-width="0.95" />
<line x1="203.3" y1="198" x2="203.3" y2="200.9" stroke="#111" stroke-width="0.95" />
<line x1="43.06" y1="334.3" x2="43.06" y2="332.4" stroke="#111" stroke-width="0.95" />
<line x1="43.06" y1="198" x2="43.06" y2="199.9" stroke="#111" stroke-width="0.95" />
<line x1="52.77" y1="334.3" x2="52.77" y2="332.4" stroke="#111" stroke-width="0.95" />
<line x1="52.77" y1="198" x2="52.77" y2="199.9" stroke="#111" stroke-width="0.95" />
<line x1="62.48" y1="334.3" x2="62.48" y2="332.4" stroke="#111" stroke-width="0.95" />
<line x1="62.48" y1="198" x2="62.48" y2="199.9" stroke="#111" stroke-width="0.95" />
<line x1="72.19" y1="334.3" x2="72.19" y2="332.4" stroke="#111" stroke-width="0.95" />
<line x1="72.19" y1="198" x2="72.19" y2="199.9" stroke="#111" stroke-width="0.95" />
<line x1="81.9" y1="334.3" x2="81.9" y2="332.4" stroke="#111" stroke-width="0.95" />
<line x1="81.9" y1="198" x2="81.9" y2="199.9" stroke="#111" stroke-width="0.95" />
<line x1="91.62" y1="334.3" x2="91.62" y2="332.4" stroke="#111" stroke-width="0.95" />
<line x1="91.62" y1="198" x2="91.62" y2="199.9" stroke="#111" stroke-width="0.95" />
<line x1="101.33" y1="334.3" x2="101.33" y2="332.4" stroke="#111" stroke-width="0.95" />
<line x1="101.33" y1="198" x2="101.33" y2="199.9" stroke="#111" stroke-width="0.95" />
<line x1="111.04" y1="334.3" x2="111.04" y2="332.4" stroke="#111" stroke-width="0.95" />
<line x1="111.04" y1="198" x2="111.04" y2="199.9" stroke="#111" stroke-width="0.95" />
<line x1="120.75" y1="334.3" x2="120.75" y2="332.4" stroke="#111" stroke-width="0.95" />
<line x1="120.75" y1="198" x2="120.75" y2="199.9" stroke="#111" stroke-width="0.95" />
<line x1="130.46" y1="334.3" x2="130.46" y2="332.4" stroke="#111" stroke-width="0.95" />
<line x1="130.46" y1="198" x2="130.46" y2="199.9" stroke="#111" stroke-width="0.95" />
<line x1="140.18" y1="334.3" x2="140.18" y2="332.4" stroke="#111" stroke-width="0.95" />
<line x1="140.18" y1="198" x2="140.18" y2="199.9" stroke="#111" stroke-width="0.95" />
<line x1="149.89" y1="334.3" x2="149.89" y2="332.4" stroke="#111" stroke-width="0.95" />
<line x1="149.89" y1="198" x2="149.89" y2="199.9" stroke="#111" stroke-width="0.95" />
<line x1="159.6" y1="334.3" x2="159.6" y2="332.4" stroke="#111" stroke-width="0.95" />
<line x1="159.6" y1="198" x2="159.6" y2="199.9" stroke="#111" stroke-width="0.95" />
<line x1="169.31" y1="334.3" x2="169.31" y2="332.4" stroke="#111" stroke-width="0.95" />
<line x1="169.31" y1="198" x2="169.31" y2="199.9" stroke="#111" stroke-width="0.95" />
<line x1="179.02" y1="334.3" x2="179.02" y2="332.4" stroke="#111" stroke-width="0.95" />
<line x1="179.02" y1="198" x2="179.02" y2="199.9" stroke="#111" stroke-width="0.95" />
<line x1="188.74" y1="334.3" x2="188.74" y2="332.4" stroke="#111" stroke-width="0.95" />
<line x1="188.74" y1="198" x2="188.74" y2="199.9" stroke="#111" stroke-width="0.95" />
<line x1="198.45" y1="334.3" x2="198.45" y2="332.4" stroke="#111" stroke-width="0.95" />
<line x1="198.45" y1="198" x2="198.45" y2="199.9" stroke="#111" stroke-width="0.95" />
<line x1="208.16" y1="334.3" x2="208.16" y2="332.4" stroke="#111" stroke-width="0.95" />
<line x1="208.16" y1="198" x2="208.16" y2="199.9" stroke="#111" stroke-width="0.95" />
<line x1="33.4" y1="328.1" x2="36.3" y2="328.1" stroke="#111" stroke-width="0.95" />
<line x1="208.6" y1="328.1" x2="205.7" y2="328.1" stroke="#111" stroke-width="0.95" />
<line x1="33.4" y1="315.7" x2="36.3" y2="315.7" stroke="#111" stroke-width="0.95" />
<line x1="208.6" y1="315.7" x2="205.7" y2="315.7" stroke="#111" stroke-width="0.95" />
<line x1="33.4" y1="303.3" x2="36.3" y2="303.3" stroke="#111" stroke-width="0.95" />
<line x1="208.6" y1="303.3" x2="205.7" y2="303.3" stroke="#111" stroke-width="0.95" />
<line x1="33.4" y1="290.9" x2="36.3" y2="290.9" stroke="#111" stroke-width="0.95" />
<line x1="208.6" y1="290.9" x2="205.7" y2="290.9" stroke="#111" stroke-width="0.95" />
<line x1="33.4" y1="278.5" x2="36.3" y2="278.5" stroke="#111" stroke-width="0.95" />
<line x1="208.6" y1="278.5" x2="205.7" y2="278.5" stroke="#111" stroke-width="0.95" />
<line x1="33.4" y1="266.1" x2="36.3" y2="266.1" stroke="#111" stroke-width="0.95" />
<line x1="208.6" y1="266.1" x2="205.7" y2="266.1" stroke="#111" stroke-width="0.95" />
<line x1="33.4" y1="253.7" x2="36.3" y2="253.7" stroke="#111" stroke-width="0.95" />
<line x1="208.6" y1="253.7" x2="205.7" y2="253.7" stroke="#111" stroke-width="0.95" />
<line x1="33.4" y1="241.3" x2="36.3" y2="241.3" stroke="#111" stroke-width="0.95" />
<line x1="208.6" y1="241.3" x2="205.7" y2="241.3" stroke="#111" stroke-width="0.95" />
<line x1="33.4" y1="228.9" x2="36.3" y2="228.9" stroke="#111" stroke-width="0.95" />
<line x1="208.6" y1="228.9" x2="205.7" y2="228.9" stroke="#111" stroke-width="0.95" />
<line x1="33.4" y1="216.5" x2="36.3" y2="216.5" stroke="#111" stroke-width="0.95" />
<line x1="208.6" y1="216.5" x2="205.7" y2="216.5" stroke="#111" stroke-width="0.95" />
<line x1="33.4" y1="204.1" x2="36.3" y2="204.1" stroke="#111" stroke-width="0.95" />
<line x1="208.6" y1="204.1" x2="205.7" y2="204.1" stroke="#111" stroke-width="0.95" />
<line x1="33.4" y1="334.3" x2="35.3" y2="334.3" stroke="#111" stroke-width="0.95" />
<line x1="208.6" y1="334.3" x2="206.7" y2="334.3" stroke="#111" stroke-width="0.95" />
<line x1="33.4" y1="321.9" x2="35.3" y2="321.9" stroke="#111" stroke-width="0.95" />
<line x1="208.6" y1="321.9" x2="206.7" y2="321.9" stroke="#111" stroke-width="0.95" />
<line x1="33.4" y1="309.5" x2="35.3" y2="309.5" stroke="#111" stroke-width="0.95" />
<line x1="208.6" y1="309.5" x2="206.7" y2="309.5" stroke="#111" stroke-width="0.95" />
<line x1="33.4" y1="297.1" x2="35.3" y2="297.1" stroke="#111" stroke-width="0.95" />
<line x1="208.6" y1="297.1" x2="206.7" y2="297.1" stroke="#111" stroke-width="0.95" />
<line x1="33.4" y1="284.7" x2="35.3" y2="284.7" stroke="#111" stroke-width="0.95" />
<line x1="208.6" y1="284.7" x2="206.7" y2="284.7" stroke="#111" stroke-width="0.95" />
<line x1="33.4" y1="272.3" x2="35.3" y2="272.3" stroke="#111" stroke-width="0.95" />
<line x1="208.6" y1="272.3" x2="206.7" y2="272.3" stroke="#111" stroke-width="0.95" />
<line x1="33.4" y1="259.9" x2="35.3" y2="259.9" stroke="#111" stroke-width="0.95" />
<line x1="208.6" y1="259.9" x2="206.7" y2="259.9" stroke="#111" stroke-width="0.95" />
<line x1="33.4" y1="247.5" x2="35.3" y2="247.5" stroke="#111" stroke-width="0.95" />
<line x1="208.6" y1="247.5" x2="206.7" y2="247.5" stroke="#111" stroke-width="0.95" />
<line x1="33.4" y1="235.1" x2="35.3" y2="235.1" stroke="#111" stroke-width="0.95" />
<line x1="208.6" y1="235.1" x2="206.7" y2="235.1" stroke="#111" stroke-width="0.95" />
<line x1="33.4" y1="222.7" x2="35.3" y2="222.7" stroke="#111" stroke-width="0.95" />
<line x1="208.6" y1="222.7" x2="206.7" y2="222.7" stroke="#111" stroke-width="0.95" />
<line x1="33.4" y1="210.3" x2="35.3" y2="210.3" stroke="#111" stroke-width="0.95" />
<line x1="208.6" y1="210.3" x2="206.7" y2="210.3" stroke="#111" stroke-width="0.95" />
<rect x="33.4" y="198" width="175.2" height="136.3" fill="none" stroke="#111" stroke-width="1.2"/>
<text x="38.2" y="343.6" font-size="6.8" text-anchor="middle" font-weight="bold" fill="#000" stroke="#000" stroke-width="0.16" >0</text>
<text x="47.91" y="343.6" font-size="6.8" text-anchor="middle" font-weight="bold" fill="#000" stroke="#000" stroke-width="0.16" >2</text>
<text x="57.62" y="343.6" font-size="6.8" text-anchor="middle" font-weight="bold" fill="#000" stroke="#000" stroke-width="0.16" >4</text>
<text x="67.34" y="343.6" font-size="6.8" text-anchor="middle" font-weight="bold" fill="#000" stroke="#000" stroke-width="0.16" >6</text>
<text x="77.05" y="343.6" font-size="6.8" text-anchor="middle" font-weight="bold" fill="#000" stroke="#000" stroke-width="0.16" >8</text>
<text x="86.76" y="343.6" font-size="6.8" text-anchor="middle" font-weight="bold" fill="#000" stroke="#000" stroke-width="0.16" >10</text>
<text x="96.47" y="343.6" font-size="6.8" text-anchor="middle" font-weight="bold" fill="#000" stroke="#000" stroke-width="0.16" >12</text>
<text x="106.18" y="343.6" font-size="6.8" text-anchor="middle" font-weight="bold" fill="#000" stroke="#000" stroke-width="0.16" >14</text>
<text x="115.9" y="343.6" font-size="6.8" text-anchor="middle" font-weight="bold" fill="#000" stroke="#000" stroke-width="0.16" >16</text>
<text x="125.61" y="343.6" font-size="6.8" text-anchor="middle" font-weight="bold" fill="#000" stroke="#000" stroke-width="0.16" >18</text>
<text x="135.32" y="343.6" font-size="6.8" text-anchor="middle" font-weight="bold" fill="#000" stroke="#000" stroke-width="0.16" >20</text>
<text x="145.03" y="343.6" font-size="6.8" text-anchor="middle" font-weight="bold" fill="#000" stroke="#000" stroke-width="0.16" >22</text>
<text x="154.74" y="343.6" font-size="6.8" text-anchor="middle" font-weight="bold" fill="#000" stroke="#000" stroke-width="0.16" >24</text>
<text x="164.46" y="343.6" font-size="6.8" text-anchor="middle" font-weight="bold" fill="#000" stroke="#000" stroke-width="0.16" >26</text>
<text x="174.17" y="343.6" font-size="6.8" text-anchor="middle" font-weight="bold" fill="#000" stroke="#000" stroke-width="0.16" >28</text>
<text x="183.88" y="343.6" font-size="6.8" text-anchor="middle" font-weight="bold" fill="#000" stroke="#000" stroke-width="0.16" >30</text>
<text x="193.59" y="343.6" font-size="6.8" text-anchor="middle" font-weight="bold" fill="#000" stroke="#000" stroke-width="0.16" >32</text>
<text x="203.3" y="343.6" font-size="6.8" text-anchor="middle" font-weight="bold" fill="#000" stroke="#000" stroke-width="0.16" >34</text>
<text x="30.4" y="330.7" font-size="7.4" text-anchor="end" font-weight="bold" fill="#000" stroke="#000" stroke-width="0.16" >−100</text>
<text x="30.4" y="318.3" font-size="7.4" text-anchor="end" font-weight="bold" fill="#000" stroke="#000" stroke-width="0.16" >−90</text>
<text x="30.4" y="305.9" font-size="7.4" text-anchor="end" font-weight="bold" fill="#000" stroke="#000" stroke-width="0.16" >−80</text>
<text x="30.4" y="293.5" font-size="7.4" text-anchor="end" font-weight="bold" fill="#000" stroke="#000" stroke-width="0.16" >−70</text>
<text x="30.4" y="281.1" font-size="7.4" text-anchor="end" font-weight="bold" fill="#000" stroke="#000" stroke-width="0.16" >−60</text>
<text x="30.4" y="268.7" font-size="7.4" text-anchor="end" font-weight="bold" fill="#000" stroke="#000" stroke-width="0.16" >−50</text>
<text x="30.4" y="256.3" font-size="7.4" text-anchor="end" font-weight="bold" fill="#000" stroke="#000" stroke-width="0.16" >−40</text>
<text x="30.4" y="243.9" font-size="7.4" text-anchor="end" font-weight="bold" fill="#000" stroke="#000" stroke-width="0.16" >−30</text>
<text x="30.4" y="231.5" font-size="7.4" text-anchor="end" font-weight="bold" fill="#000" stroke="#000" stroke-width="0.16" >−20</text>
<text x="30.4" y="219.1" font-size="7.4" text-anchor="end" font-weight="bold" fill="#000" stroke="#000" stroke-width="0.16" >−10</text>
<text x="30.4" y="206.7" font-size="7.4" text-anchor="end" font-weight="bold" fill="#000" stroke="#000" stroke-width="0.16" >0</text>
<text x="38.9" y="221.78" font-size="7.4" text-anchor="start" font-weight="bold" fill="#1a1aff" stroke="#1a1aff" stroke-width="0.16" >0 MPa</text>
<text x="38.9" y="242.67" font-size="7.4" text-anchor="start" font-weight="bold" fill="#1a1aff" stroke="#1a1aff" stroke-width="0.16" >0.1 MPa</text>
<text x="38.9" y="263.57" font-size="7.4" text-anchor="start" font-weight="bold" fill="#1a1aff" stroke="#1a1aff" stroke-width="0.16" >0.2 MPa</text>
<text x="38.9" y="284.46" font-size="7.4" text-anchor="start" font-weight="bold" fill="#1a1aff" stroke="#1a1aff" stroke-width="0.16" >0.3 MPa</text>
<text x="38.9" y="305.36" font-size="7.4" text-anchor="start" font-weight="bold" fill="#1a1aff" stroke="#1a1aff" stroke-width="0.16" >0.4 MPa</text>
<text x="38.9" y="326.25" font-size="7.4" text-anchor="start" font-weight="bold" fill="#1a1aff" stroke="#1a1aff" stroke-width="0.16" >0.5 MPa</text>
<text x="0" y="202" font-size="13.8" text-anchor="start" font-weight="bold" fill="#000" stroke="#000" stroke-width="0.16" >d</text>
<text x="5.8" y="269" font-size="6.6" text-anchor="middle" font-weight="bold" fill="#000" stroke="#000" stroke-width="0.16" textLength="46" lengthAdjust="spacingAndGlyphs" transform="rotate(-90 5.8 269)" >Deflection (nm)</text>
<text x="55.9" y="353.5" font-size="6.8" text-anchor="start" font-weight="bold" fill="#000" stroke="#000" stroke-width="0.16" textLength="130.1" lengthAdjust="spacingAndGlyphs" >Distance from membrane center (µm)</text>
<rect x="143.6" y="307.1" width="55" height="20" fill="#fff" stroke="#333" stroke-width="0.8"/>
<line x1="144.4" y1="312.8" x2="161.4" y2="312.8" stroke="#1a1a1a" stroke-width="1.2" />
<text x="165" y="315" font-size="5.4" text-anchor="start" font-weight="bold" fill="#111" stroke="#111" stroke-width="0.16" textLength="19.3" lengthAdjust="spacingAndGlyphs" >Theory</text>
<line x1="145" y1="322" x2="158.4" y2="322" stroke="#ff2020" stroke-width="1.1" stroke-dasharray="2.2 3.0"/>
<text x="164.6" y="324.1" font-size="5.4" text-anchor="start" font-weight="bold" fill="#ff1a1a" stroke="#ff1a1a" stroke-width="0.16" textLength="30.4" lengthAdjust="spacingAndGlyphs" >Simulation</text>
<line x1="272.6" y1="199.2" x2="272.6" y2="333.9" stroke="#ebebeb" stroke-width="0.6" />
<line x1="277.46" y1="199.2" x2="277.46" y2="333.9" stroke="#ebebeb" stroke-width="0.6" />
<line x1="282.32" y1="199.2" x2="282.32" y2="333.9" stroke="#ebebeb" stroke-width="0.6" />
<line x1="287.19" y1="199.2" x2="287.19" y2="333.9" stroke="#ebebeb" stroke-width="0.6" />
<line x1="292.05" y1="199.2" x2="292.05" y2="333.9" stroke="#ebebeb" stroke-width="0.6" />
<line x1="296.91" y1="199.2" x2="296.91" y2="333.9" stroke="#ebebeb" stroke-width="0.6" />
<line x1="301.77" y1="199.2" x2="301.77" y2="333.9" stroke="#ebebeb" stroke-width="0.6" />
<line x1="306.63" y1="199.2" x2="306.63" y2="333.9" stroke="#ebebeb" stroke-width="0.6" />
<line x1="311.5" y1="199.2" x2="311.5" y2="333.9" stroke="#ebebeb" stroke-width="0.6" />
<line x1="316.36" y1="199.2" x2="316.36" y2="333.9" stroke="#ebebeb" stroke-width="0.6" />
<line x1="321.22" y1="199.2" x2="321.22" y2="333.9" stroke="#ebebeb" stroke-width="0.6" />
<line x1="326.08" y1="199.2" x2="326.08" y2="333.9" stroke="#ebebeb" stroke-width="0.6" />
<line x1="330.94" y1="199.2" x2="330.94" y2="333.9" stroke="#ebebeb" stroke-width="0.6" />
<line x1="335.81" y1="199.2" x2="335.81" y2="333.9" stroke="#ebebeb" stroke-width="0.6" />
<line x1="340.67" y1="199.2" x2="340.67" y2="333.9" stroke="#ebebeb" stroke-width="0.6" />
<line x1="345.53" y1="199.2" x2="345.53" y2="333.9" stroke="#ebebeb" stroke-width="0.6" />
<line x1="350.39" y1="199.2" x2="350.39" y2="333.9" stroke="#ebebeb" stroke-width="0.6" />
<line x1="355.25" y1="199.2" x2="355.25" y2="333.9" stroke="#ebebeb" stroke-width="0.6" />
<line x1="360.12" y1="199.2" x2="360.12" y2="333.9" stroke="#ebebeb" stroke-width="0.6" />
<line x1="364.98" y1="199.2" x2="364.98" y2="333.9" stroke="#ebebeb" stroke-width="0.6" />
<line x1="369.84" y1="199.2" x2="369.84" y2="333.9" stroke="#ebebeb" stroke-width="0.6" />
<line x1="374.7" y1="199.2" x2="374.7" y2="333.9" stroke="#ebebeb" stroke-width="0.6" />
<line x1="379.56" y1="199.2" x2="379.56" y2="333.9" stroke="#ebebeb" stroke-width="0.6" />
<line x1="384.43" y1="199.2" x2="384.43" y2="333.9" stroke="#ebebeb" stroke-width="0.6" />
<line x1="389.29" y1="199.2" x2="389.29" y2="333.9" stroke="#ebebeb" stroke-width="0.6" />
<line x1="394.15" y1="199.2" x2="394.15" y2="333.9" stroke="#ebebeb" stroke-width="0.6" />
<line x1="399.01" y1="199.2" x2="399.01" y2="333.9" stroke="#ebebeb" stroke-width="0.6" />
<line x1="403.87" y1="199.2" x2="403.87" y2="333.9" stroke="#ebebeb" stroke-width="0.6" />
<line x1="408.74" y1="199.2" x2="408.74" y2="333.9" stroke="#ebebeb" stroke-width="0.6" />
<line x1="413.6" y1="199.2" x2="413.6" y2="333.9" stroke="#ebebeb" stroke-width="0.6" />
<line x1="418.46" y1="199.2" x2="418.46" y2="333.9" stroke="#ebebeb" stroke-width="0.6" />
<line x1="423.32" y1="199.2" x2="423.32" y2="333.9" stroke="#ebebeb" stroke-width="0.6" />
<line x1="428.18" y1="199.2" x2="428.18" y2="333.9" stroke="#ebebeb" stroke-width="0.6" />
<line x1="433.05" y1="199.2" x2="433.05" y2="333.9" stroke="#ebebeb" stroke-width="0.6" />
<line x1="437.91" y1="199.2" x2="437.91" y2="333.9" stroke="#ebebeb" stroke-width="0.6" />
<line x1="268.2" y1="330.5" x2="442.4" y2="330.5" stroke="#ebebeb" stroke-width="0.6" />
<line x1="268.2" y1="324.12" x2="442.4" y2="324.12" stroke="#ebebeb" stroke-width="0.6" />
<line x1="268.2" y1="317.75" x2="442.4" y2="317.75" stroke="#ebebeb" stroke-width="0.6" />
<line x1="268.2" y1="311.38" x2="442.4" y2="311.38" stroke="#ebebeb" stroke-width="0.6" />
<line x1="268.2" y1="305" x2="442.4" y2="305" stroke="#ebebeb" stroke-width="0.6" />
<line x1="268.2" y1="298.62" x2="442.4" y2="298.62" stroke="#ebebeb" stroke-width="0.6" />
<line x1="268.2" y1="292.25" x2="442.4" y2="292.25" stroke="#ebebeb" stroke-width="0.6" />
<line x1="268.2" y1="285.88" x2="442.4" y2="285.88" stroke="#ebebeb" stroke-width="0.6" />
<line x1="268.2" y1="279.5" x2="442.4" y2="279.5" stroke="#ebebeb" stroke-width="0.6" />
<line x1="268.2" y1="273.12" x2="442.4" y2="273.12" stroke="#ebebeb" stroke-width="0.6" />
<line x1="268.2" y1="266.75" x2="442.4" y2="266.75" stroke="#ebebeb" stroke-width="0.6" />
<line x1="268.2" y1="260.38" x2="442.4" y2="260.38" stroke="#ebebeb" stroke-width="0.6" />
<line x1="268.2" y1="254" x2="442.4" y2="254" stroke="#ebebeb" stroke-width="0.6" />
<line x1="268.2" y1="247.62" x2="442.4" y2="247.62" stroke="#ebebeb" stroke-width="0.6" />
<line x1="268.2" y1="241.25" x2="442.4" y2="241.25" stroke="#ebebeb" stroke-width="0.6" />
<line x1="268.2" y1="234.88" x2="442.4" y2="234.88" stroke="#ebebeb" stroke-width="0.6" />
<line x1="268.2" y1="228.5" x2="442.4" y2="228.5" stroke="#ebebeb" stroke-width="0.6" />
<line x1="268.2" y1="222.12" x2="442.4" y2="222.12" stroke="#ebebeb" stroke-width="0.6" />
<line x1="268.2" y1="215.75" x2="442.4" y2="215.75" stroke="#ebebeb" stroke-width="0.6" />
<line x1="268.2" y1="209.38" x2="442.4" y2="209.38" stroke="#ebebeb" stroke-width="0.6" />
<line x1="268.2" y1="203" x2="442.4" y2="203" stroke="#ebebeb" stroke-width="0.6" />
<line x1="272.6" y1="199.2" x2="272.6" y2="333.9" stroke="#d4d4d4" stroke-width="0.6" />
<line x1="282.32" y1="199.2" x2="282.32" y2="333.9" stroke="#d4d4d4" stroke-width="0.6" />
<line x1="292.05" y1="199.2" x2="292.05" y2="333.9" stroke="#d4d4d4" stroke-width="0.6" />
<line x1="301.77" y1="199.2" x2="301.77" y2="333.9" stroke="#d4d4d4" stroke-width="0.6" />
<line x1="311.5" y1="199.2" x2="311.5" y2="333.9" stroke="#d4d4d4" stroke-width="0.6" />
<line x1="321.22" y1="199.2" x2="321.22" y2="333.9" stroke="#d4d4d4" stroke-width="0.6" />
<line x1="330.94" y1="199.2" x2="330.94" y2="333.9" stroke="#d4d4d4" stroke-width="0.6" />
<line x1="340.67" y1="199.2" x2="340.67" y2="333.9" stroke="#d4d4d4" stroke-width="0.6" />
<line x1="350.39" y1="199.2" x2="350.39" y2="333.9" stroke="#d4d4d4" stroke-width="0.6" />
<line x1="360.12" y1="199.2" x2="360.12" y2="333.9" stroke="#d4d4d4" stroke-width="0.6" />
<line x1="369.84" y1="199.2" x2="369.84" y2="333.9" stroke="#d4d4d4" stroke-width="0.6" />
<line x1="379.56" y1="199.2" x2="379.56" y2="333.9" stroke="#d4d4d4" stroke-width="0.6" />
<line x1="389.29" y1="199.2" x2="389.29" y2="333.9" stroke="#d4d4d4" stroke-width="0.6" />
<line x1="399.01" y1="199.2" x2="399.01" y2="333.9" stroke="#d4d4d4" stroke-width="0.6" />
<line x1="408.74" y1="199.2" x2="408.74" y2="333.9" stroke="#d4d4d4" stroke-width="0.6" />
<line x1="418.46" y1="199.2" x2="418.46" y2="333.9" stroke="#d4d4d4" stroke-width="0.6" />
<line x1="428.18" y1="199.2" x2="428.18" y2="333.9" stroke="#d4d4d4" stroke-width="0.6" />
<line x1="437.91" y1="199.2" x2="437.91" y2="333.9" stroke="#d4d4d4" stroke-width="0.6" />
<line x1="268.2" y1="330.5" x2="442.4" y2="330.5" stroke="#d4d4d4" stroke-width="0.6" />
<line x1="268.2" y1="317.75" x2="442.4" y2="317.75" stroke="#d4d4d4" stroke-width="0.6" />
<line x1="268.2" y1="305" x2="442.4" y2="305" stroke="#d4d4d4" stroke-width="0.6" />
<line x1="268.2" y1="292.25" x2="442.4" y2="292.25" stroke="#d4d4d4" stroke-width="0.6" />
<line x1="268.2" y1="279.5" x2="442.4" y2="279.5" stroke="#d4d4d4" stroke-width="0.6" />
<line x1="268.2" y1="266.75" x2="442.4" y2="266.75" stroke="#d4d4d4" stroke-width="0.6" />
<line x1="268.2" y1="254" x2="442.4" y2="254" stroke="#d4d4d4" stroke-width="0.6" />
<line x1="268.2" y1="241.25" x2="442.4" y2="241.25" stroke="#d4d4d4" stroke-width="0.6" />
<line x1="268.2" y1="228.5" x2="442.4" y2="228.5" stroke="#d4d4d4" stroke-width="0.6" />
<line x1="268.2" y1="215.75" x2="442.4" y2="215.75" stroke="#d4d4d4" stroke-width="0.6" />
<line x1="268.2" y1="203" x2="442.4" y2="203" stroke="#d4d4d4" stroke-width="0.6" />
<path d="M272.6,213.84 L273.64,213.84 L274.68,213.83 L275.72,213.83 L276.76,213.82 L277.8,213.82 L278.84,213.81 L279.88,213.8 L280.92,213.78 L281.96,213.77 L283,213.75 L284.04,213.73 L285.08,213.71 L286.12,213.69 L287.16,213.67 L288.2,213.65 L289.23,213.62 L290.27,213.59 L291.31,213.56 L292.35,213.53 L293.39,213.5 L294.43,213.46 L295.47,213.43 L296.51,213.39 L297.55,213.35 L298.59,213.31 L299.63,213.27 L300.67,213.22 L301.71,213.18 L302.75,213.13 L303.79,213.08 L304.83,213.03 L305.87,212.98 L306.91,212.92 L307.95,212.87 L308.99,212.81 L310.03,212.75 L311.07,212.7 L312.11,212.63 L313.15,212.57 L314.19,212.51 L315.23,212.44 L316.27,212.38 L317.31,212.31 L318.35,212.24 L319.39,212.17 L320.42,212.1 L321.46,212.03 L322.5,211.95 L323.54,211.88 L324.58,211.8 L325.62,211.72 L326.66,211.64 L327.7,211.56 L328.74,211.48 L329.78,211.4 L330.82,211.32 L331.86,211.23 L332.9,211.15 L333.94,211.06 L334.98,210.97 L336.02,210.88 L337.06,210.79 L338.1,210.7 L339.14,210.61 L340.18,210.52 L341.22,210.42 L342.26,210.33 L343.3,210.24 L344.34,210.14 L345.38,210.04 L346.42,209.95 L347.46,209.85 L348.5,209.75 L349.54,209.65 L350.58,209.55 L351.62,209.45 L352.65,209.35 L353.69,209.25 L354.73,209.15 L355.77,209.04 L356.81,208.94 L357.85,208.84 L358.89,208.74 L359.93,208.63 L360.97,208.53 L362.01,208.42 L363.05,208.32 L364.09,208.21 L365.13,208.11 L366.17,208.01 L367.21,207.9 L368.25,207.8 L369.29,207.69 L370.33,207.59 L371.37,207.48 L372.41,207.38 L373.45,207.27 L374.49,207.17 L375.53,207.06 L376.57,206.96 L377.61,206.86 L378.65,206.75 L379.69,206.65 L380.73,206.55 L381.77,206.45 L382.81,206.34 L383.85,206.24 L384.88,206.14 L385.92,206.04 L386.96,205.95 L388,205.85 L389.04,205.75 L390.08,205.65 L391.12,205.56 L392.16,205.46 L393.2,205.37 L394.24,205.28 L395.28,205.19 L396.32,205.1 L397.36,205.01 L398.4,204.92 L399.44,204.83 L400.48,204.75 L401.52,204.66 L402.56,204.58 L403.6,204.5 L404.64,204.42 L405.68,204.34 L406.72,204.27 L407.76,204.19 L408.8,204.12 L409.84,204.05 L410.88,203.98 L411.92,203.91 L412.96,203.84 L414,203.78 L415.04,203.72 L416.07,203.66 L417.11,203.6 L418.15,203.55 L419.19,203.49 L420.23,203.44 L421.27,203.4 L422.31,203.35 L423.35,203.31 L424.39,203.27 L425.43,203.23 L426.47,203.19 L427.51,203.16 L428.55,203.13 L429.59,203.1 L430.63,203.08 L431.67,203.06 L432.71,203.04 L433.75,203.03 L434.79,203.02 L435.83,203.01 L436.87,203 L437.91,203" fill="none" stroke="#ff1a1a" stroke-width="1.1" stroke-linejoin="round" />
<path d="M272.6,235.38 L273.64,235.38 L274.68,235.37 L275.72,235.36 L276.76,235.34 L277.8,235.32 L278.84,235.29 L279.88,235.26 L280.92,235.22 L281.96,235.18 L283,235.13 L284.04,235.08 L285.08,235.02 L286.12,234.95 L287.16,234.88 L288.2,234.81 L289.23,234.73 L290.27,234.65 L291.31,234.56 L292.35,234.47 L293.39,234.37 L294.43,234.27 L295.47,234.16 L296.51,234.04 L297.55,233.93 L298.59,233.8 L299.63,233.68 L300.67,233.54 L301.71,233.41 L302.75,233.27 L303.79,233.12 L304.83,232.97 L305.87,232.81 L306.91,232.66 L307.95,232.49 L308.99,232.32 L310.03,232.15 L311.07,231.97 L312.11,231.79 L313.15,231.61 L314.19,231.42 L315.23,231.22 L316.27,231.02 L317.31,230.82 L318.35,230.61 L319.39,230.4 L320.42,230.19 L321.46,229.97 L322.5,229.75 L323.54,229.53 L324.58,229.3 L325.62,229.06 L326.66,228.83 L327.7,228.59 L328.74,228.35 L329.78,228.1 L330.82,227.85 L331.86,227.6 L332.9,227.34 L333.94,227.08 L334.98,226.82 L336.02,226.55 L337.06,226.29 L338.1,226.01 L339.14,225.74 L340.18,225.47 L341.22,225.19 L342.26,224.91 L343.3,224.62 L344.34,224.34 L345.38,224.05 L346.42,223.76 L347.46,223.47 L348.5,223.17 L349.54,222.87 L350.58,222.58 L351.62,222.28 L352.65,221.98 L353.69,221.67 L354.73,221.37 L355.77,221.06 L356.81,220.76 L357.85,220.45 L358.89,220.14 L359.93,219.83 L360.97,219.52 L362.01,219.21 L363.05,218.9 L364.09,218.58 L365.13,218.27 L366.17,217.96 L367.21,217.64 L368.25,217.33 L369.29,217.02 L370.33,216.7 L371.37,216.39 L372.41,216.08 L373.45,215.76 L374.49,215.45 L375.53,215.14 L376.57,214.83 L377.61,214.52 L378.65,214.21 L379.69,213.91 L380.73,213.6 L381.77,213.3 L382.81,213 L383.85,212.69 L384.88,212.4 L385.92,212.1 L386.96,211.8 L388,211.51 L389.04,211.22 L390.08,210.93 L391.12,210.65 L392.16,210.36 L393.2,210.09 L394.24,209.81 L395.28,209.54 L396.32,209.27 L397.36,209 L398.4,208.74 L399.44,208.48 L400.48,208.22 L401.52,207.97 L402.56,207.72 L403.6,207.48 L404.64,207.24 L405.68,207.01 L406.72,206.78 L407.76,206.56 L408.8,206.34 L409.84,206.13 L410.88,205.92 L411.92,205.72 L412.96,205.52 L414,205.33 L415.04,205.15 L416.07,204.97 L417.11,204.8 L418.15,204.64 L419.19,204.48 L420.23,204.33 L421.27,204.18 L422.31,204.05 L423.35,203.92 L424.39,203.8 L425.43,203.68 L426.47,203.58 L427.51,203.48 L428.55,203.39 L429.59,203.31 L430.63,203.24 L431.67,203.18 L432.71,203.12 L433.75,203.08 L434.79,203.05 L435.83,203.02 L436.87,203.01 L437.91,203" fill="none" stroke="#ff1a1a" stroke-width="1.1" stroke-linejoin="round" />
<path d="M272.6,256.93 L273.64,256.93 L274.68,256.92 L275.72,256.89 L276.76,256.86 L277.8,256.83 L278.84,256.78 L279.88,256.72 L280.92,256.66 L281.96,256.59 L283,256.51 L284.04,256.42 L285.08,256.32 L286.12,256.21 L287.16,256.1 L288.2,255.98 L289.23,255.85 L290.27,255.71 L291.31,255.56 L292.35,255.4 L293.39,255.24 L294.43,255.07 L295.47,254.89 L296.51,254.7 L297.55,254.5 L298.59,254.3 L299.63,254.09 L300.67,253.87 L301.71,253.64 L302.75,253.4 L303.79,253.16 L304.83,252.91 L305.87,252.65 L306.91,252.39 L307.95,252.11 L308.99,251.83 L310.03,251.54 L311.07,251.25 L312.11,250.95 L313.15,250.64 L314.19,250.32 L315.23,250 L316.27,249.67 L317.31,249.33 L318.35,248.99 L319.39,248.64 L320.42,248.28 L321.46,247.92 L322.5,247.55 L323.54,247.17 L324.58,246.79 L325.62,246.41 L326.66,246.01 L327.7,245.61 L328.74,245.21 L329.78,244.8 L330.82,244.38 L331.86,243.96 L332.9,243.53 L333.94,243.1 L334.98,242.67 L336.02,242.22 L337.06,241.78 L338.1,241.33 L339.14,240.87 L340.18,240.41 L341.22,239.95 L342.26,239.48 L343.3,239.01 L344.34,238.53 L345.38,238.05 L346.42,237.57 L347.46,237.08 L348.5,236.59 L349.54,236.1 L350.58,235.6 L351.62,235.1 L352.65,234.6 L353.69,234.1 L354.73,233.59 L355.77,233.08 L356.81,232.57 L357.85,232.06 L358.89,231.54 L359.93,231.03 L360.97,230.51 L362.01,229.99 L363.05,229.47 L364.09,228.95 L365.13,228.43 L366.17,227.91 L367.21,227.39 L368.25,226.86 L369.29,226.34 L370.33,225.82 L371.37,225.3 L372.41,224.78 L373.45,224.26 L374.49,223.74 L375.53,223.22 L376.57,222.7 L377.61,222.19 L378.65,221.68 L379.69,221.17 L380.73,220.66 L381.77,220.15 L382.81,219.65 L383.85,219.14 L384.88,218.65 L385.92,218.15 L386.96,217.66 L388,217.17 L389.04,216.69 L390.08,216.21 L391.12,215.74 L392.16,215.27 L393.2,214.8 L394.24,214.34 L395.28,213.88 L396.32,213.43 L397.36,212.99 L398.4,212.55 L399.44,212.12 L400.48,211.7 L401.52,211.28 L402.56,210.87 L403.6,210.46 L404.64,210.07 L405.68,209.68 L406.72,209.3 L407.76,208.93 L408.8,208.56 L409.84,208.21 L410.88,207.86 L411.92,207.53 L412.96,207.2 L414,206.88 L415.04,206.58 L416.07,206.28 L417.11,206 L418.15,205.72 L419.19,205.46 L420.23,205.21 L421.27,204.97 L422.31,204.74 L423.35,204.53 L424.39,204.33 L425.43,204.14 L426.47,203.96 L427.51,203.8 L428.55,203.65 L429.59,203.52 L430.63,203.4 L431.67,203.3 L432.71,203.21 L433.75,203.13 L434.79,203.08 L435.83,203.03 L436.87,203.01 L437.91,203" fill="none" stroke="#ff1a1a" stroke-width="1.1" stroke-linejoin="round" />
<path d="M272.6,278.48 L273.64,278.47 L274.68,278.46 L275.72,278.43 L276.76,278.38 L277.8,278.33 L278.84,278.27 L279.88,278.19 L280.92,278.1 L281.96,278 L283,277.88 L284.04,277.76 L285.08,277.62 L286.12,277.47 L287.16,277.31 L288.2,277.14 L289.23,276.96 L290.27,276.76 L291.31,276.56 L292.35,276.34 L293.39,276.11 L294.43,275.87 L295.47,275.62 L296.51,275.35 L297.55,275.08 L298.59,274.79 L299.63,274.5 L300.67,274.19 L301.71,273.87 L302.75,273.54 L303.79,273.2 L304.83,272.85 L305.87,272.49 L306.91,272.12 L307.95,271.74 L308.99,271.34 L310.03,270.94 L311.07,270.53 L312.11,270.1 L313.15,269.67 L314.19,269.23 L315.23,268.78 L316.27,268.31 L317.31,267.84 L318.35,267.36 L319.39,266.87 L320.42,266.37 L321.46,265.87 L322.5,265.35 L323.54,264.82 L324.58,264.29 L325.62,263.75 L326.66,263.2 L327.7,262.64 L328.74,262.07 L329.78,261.5 L330.82,260.92 L331.86,260.33 L332.9,259.73 L333.94,259.13 L334.98,258.51 L336.02,257.9 L337.06,257.27 L338.1,256.64 L339.14,256 L340.18,255.36 L341.22,254.71 L342.26,254.05 L343.3,253.39 L344.34,252.73 L345.38,252.06 L346.42,251.38 L347.46,250.7 L348.5,250.01 L349.54,249.32 L350.58,248.63 L351.62,247.93 L352.65,247.23 L353.69,246.52 L354.73,245.81 L355.77,245.1 L356.81,244.39 L357.85,243.67 L358.89,242.95 L359.93,242.23 L360.97,241.5 L362.01,240.78 L363.05,240.05 L364.09,239.32 L365.13,238.59 L366.17,237.86 L367.21,237.13 L368.25,236.4 L369.29,235.67 L370.33,234.94 L371.37,234.21 L372.41,233.48 L373.45,232.75 L374.49,232.02 L375.53,231.3 L376.57,230.58 L377.61,229.86 L378.65,229.14 L379.69,228.42 L380.73,227.71 L381.77,227 L382.81,226.3 L383.85,225.6 L384.88,224.9 L385.92,224.21 L386.96,223.52 L388,222.84 L389.04,222.16 L390.08,221.49 L391.12,220.82 L392.16,220.17 L393.2,219.51 L394.24,218.87 L395.28,218.23 L396.32,217.6 L397.36,216.98 L398.4,216.37 L399.44,215.77 L400.48,215.17 L401.52,214.59 L402.56,214.01 L403.6,213.45 L404.64,212.89 L405.68,212.35 L406.72,211.82 L407.76,211.3 L408.8,210.79 L409.84,210.29 L410.88,209.81 L411.92,209.34 L412.96,208.88 L414,208.44 L415.04,208.01 L416.07,207.59 L417.11,207.2 L418.15,206.81 L419.19,206.44 L420.23,206.09 L421.27,205.76 L422.31,205.44 L423.35,205.14 L424.39,204.86 L425.43,204.59 L426.47,204.35 L427.51,204.12 L428.55,203.91 L429.59,203.73 L430.63,203.56 L431.67,203.41 L432.71,203.29 L433.75,203.19 L434.79,203.11 L435.83,203.05 L436.87,203.01 L437.91,203" fill="none" stroke="#ff1a1a" stroke-width="1.1" stroke-linejoin="round" />
<path d="M272.6,300.03 L273.64,300.02 L274.68,300 L275.72,299.96 L276.76,299.9 L277.8,299.84 L278.84,299.75 L279.88,299.65 L280.92,299.54 L281.96,299.41 L283,299.26 L284.04,299.1 L285.08,298.93 L286.12,298.73 L287.16,298.53 L288.2,298.31 L289.23,298.07 L290.27,297.82 L291.31,297.56 L292.35,297.28 L293.39,296.98 L294.43,296.67 L295.47,296.35 L296.51,296.01 L297.55,295.66 L298.59,295.29 L299.63,294.91 L300.67,294.51 L301.71,294.1 L302.75,293.68 L303.79,293.24 L304.83,292.79 L305.87,292.33 L306.91,291.85 L307.95,291.36 L308.99,290.85 L310.03,290.33 L311.07,289.8 L312.11,289.26 L313.15,288.7 L314.19,288.13 L315.23,287.55 L316.27,286.96 L317.31,286.35 L318.35,285.74 L319.39,285.11 L320.42,284.46 L321.46,283.81 L322.5,283.15 L323.54,282.47 L324.58,281.79 L325.62,281.09 L326.66,280.38 L327.7,279.66 L328.74,278.94 L329.78,278.2 L330.82,277.45 L331.86,276.69 L332.9,275.92 L333.94,275.15 L334.98,274.36 L336.02,273.57 L337.06,272.76 L338.1,271.95 L339.14,271.13 L340.18,270.31 L341.22,269.47 L342.26,268.63 L343.3,267.78 L344.34,266.92 L345.38,266.06 L346.42,265.19 L347.46,264.32 L348.5,263.43 L349.54,262.55 L350.58,261.65 L351.62,260.76 L352.65,259.85 L353.69,258.95 L354.73,258.04 L355.77,257.12 L356.81,256.2 L357.85,255.28 L358.89,254.35 L359.93,253.42 L360.97,252.49 L362.01,251.56 L363.05,250.63 L364.09,249.69 L365.13,248.75 L366.17,247.81 L367.21,246.87 L368.25,245.93 L369.29,244.99 L370.33,244.06 L371.37,243.12 L372.41,242.18 L373.45,241.24 L374.49,240.31 L375.53,239.38 L376.57,238.45 L377.61,237.52 L378.65,236.6 L379.69,235.68 L380.73,234.76 L381.77,233.85 L382.81,232.95 L383.85,232.05 L384.88,231.15 L385.92,230.26 L386.96,229.38 L388,228.5 L389.04,227.63 L390.08,226.77 L391.12,225.91 L392.16,225.07 L393.2,224.23 L394.24,223.4 L395.28,222.58 L396.32,221.77 L397.36,220.97 L398.4,220.19 L399.44,219.41 L400.48,218.65 L401.52,217.89 L402.56,217.15 L403.6,216.43 L404.64,215.72 L405.68,215.02 L406.72,214.33 L407.76,213.66 L408.8,213.01 L409.84,212.37 L410.88,211.75 L411.92,211.15 L412.96,210.56 L414,209.99 L415.04,209.44 L416.07,208.91 L417.11,208.39 L418.15,207.9 L419.19,207.43 L420.23,206.98 L421.27,206.54 L422.31,206.14 L423.35,205.75 L424.39,205.39 L425.43,205.05 L426.47,204.73 L427.51,204.44 L428.55,204.17 L429.59,203.93 L430.63,203.72 L431.67,203.53 L432.71,203.37 L433.75,203.24 L434.79,203.14 L435.83,203.06 L436.87,203.02 L437.91,203" fill="none" stroke="#ff1a1a" stroke-width="1.1" stroke-linejoin="round" />
<path d="M272.6,321.57 L273.64,321.57 L274.68,321.54 L275.72,321.49 L276.76,321.42 L277.8,321.34 L278.84,321.24 L279.88,321.12 L280.92,320.98 L281.96,320.82 L283,320.64 L284.04,320.44 L285.08,320.23 L286.12,319.99 L287.16,319.74 L288.2,319.47 L289.23,319.19 L290.27,318.88 L291.31,318.56 L292.35,318.21 L293.39,317.85 L294.43,317.47 L295.47,317.08 L296.51,316.66 L297.55,316.23 L298.59,315.78 L299.63,315.32 L300.67,314.84 L301.71,314.33 L302.75,313.82 L303.79,313.28 L304.83,312.73 L305.87,312.16 L306.91,311.58 L307.95,310.98 L308.99,310.36 L310.03,309.73 L311.07,309.08 L312.11,308.42 L313.15,307.74 L314.19,307.04 L315.23,306.33 L316.27,305.6 L317.31,304.86 L318.35,304.11 L319.39,303.34 L320.42,302.56 L321.46,301.76 L322.5,300.95 L323.54,300.12 L324.58,299.28 L325.62,298.43 L326.66,297.57 L327.7,296.69 L328.74,295.8 L329.78,294.9 L330.82,293.98 L331.86,293.06 L332.9,292.12 L333.94,291.17 L334.98,290.21 L336.02,289.24 L337.06,288.26 L338.1,287.27 L339.14,286.26 L340.18,285.25 L341.22,284.23 L342.26,283.2 L343.3,282.17 L344.34,281.12 L345.38,280.06 L346.42,279 L347.46,277.93 L348.5,276.85 L349.54,275.77 L350.58,274.68 L351.62,273.58 L352.65,272.48 L353.69,271.37 L354.73,270.26 L355.77,269.14 L356.81,268.02 L357.85,266.89 L358.89,265.76 L359.93,264.62 L360.97,263.49 L362.01,262.34 L363.05,261.2 L364.09,260.06 L365.13,258.91 L366.17,257.76 L367.21,256.62 L368.25,255.47 L369.29,254.32 L370.33,253.17 L371.37,252.03 L372.41,250.88 L373.45,249.74 L374.49,248.6 L375.53,247.46 L376.57,246.32 L377.61,245.19 L378.65,244.06 L379.69,242.94 L380.73,241.82 L381.77,240.71 L382.81,239.6 L383.85,238.5 L384.88,237.4 L385.92,236.31 L386.96,235.23 L388,234.16 L389.04,233.1 L390.08,232.04 L391.12,231 L392.16,229.97 L393.2,228.94 L394.24,227.93 L395.28,226.93 L396.32,225.94 L397.36,224.97 L398.4,224 L399.44,223.05 L400.48,222.12 L401.52,221.2 L402.56,220.3 L403.6,219.41 L404.64,218.54 L405.68,217.69 L406.72,216.85 L407.76,216.03 L408.8,215.23 L409.84,214.45 L410.88,213.69 L411.92,212.95 L412.96,212.24 L414,211.54 L415.04,210.87 L416.07,210.22 L417.11,209.59 L418.15,208.99 L419.19,208.41 L420.23,207.86 L421.27,207.33 L422.31,206.83 L423.35,206.36 L424.39,205.92 L425.43,205.5 L426.47,205.12 L427.51,204.76 L428.55,204.43 L429.59,204.14 L430.63,203.88 L431.67,203.65 L432.71,203.45 L433.75,203.29 L434.79,203.17 L435.83,203.07 L436.87,203.02 L437.91,203" fill="none" stroke="#ff1a1a" stroke-width="1.1" stroke-linejoin="round" />
<path d="M272.6,330.5 L274.06,330.5 L275.44,330.48 L276.81,330.43 L278.19,330.34 L279.57,330.21 L280.94,330.05 L282.32,329.85 L283.7,329.62 L285.07,329.35 L286.45,329.05 L287.83,328.71 L289.2,328.33 L290.58,327.92 L291.96,327.47 L293.34,327 L294.71,326.48 L296.09,325.93 L297.47,325.35 L298.84,324.73 L300.22,324.08 L301.6,323.4 L302.97,322.68 L304.35,321.93 L305.73,321.15 L307.1,320.34 L308.48,319.49 L309.86,318.62 L311.23,317.71 L312.61,316.77 L313.99,315.81 L315.37,314.81 L316.74,313.78 L318.12,312.73 L319.5,311.64 L320.87,310.53 L322.25,309.4 L323.63,308.23 L325,307.04 L326.38,305.82 L327.76,304.58 L329.13,303.32 L330.51,302.03 L331.89,300.71 L333.26,299.38 L334.64,298.02 L336.02,296.64 L337.4,295.24 L338.77,293.82 L340.15,292.39 L341.53,290.93 L342.9,289.46 L344.28,287.96 L345.66,286.46 L347.03,284.93 L348.41,283.4 L349.79,281.85 L351.16,280.28 L352.54,278.71 L353.92,277.12 L355.29,275.52 L356.67,273.91 L358.05,272.3 L359.43,270.68 L360.8,269.05 L362.18,267.41 L363.56,265.77 L364.93,264.12 L366.31,262.48 L367.69,260.83 L369.06,259.18 L370.44,257.53 L371.82,255.88 L373.19,254.24 L374.57,252.6 L375.95,250.96 L377.33,249.33 L378.7,247.7 L380.08,246.09 L381.46,244.48 L382.83,242.88 L384.21,241.3 L385.59,239.72 L386.96,238.17 L388.34,236.62 L389.72,235.1 L391.09,233.59 L392.47,232.1 L393.85,230.63 L395.22,229.18 L396.6,227.76 L397.98,226.36 L399.36,224.98 L400.73,223.64 L402.11,222.32 L403.49,221.03 L404.86,219.77 L406.24,218.55 L407.62,217.36 L408.99,216.2 L410.37,215.09 L411.75,214.01 L413.12,212.97 L414.5,211.97 L415.88,211.02 L417.25,210.11 L418.63,209.25 L420.01,208.44 L421.39,207.68 L422.76,206.96 L424.14,206.31 L425.52,205.7 L426.89,205.15 L428.27,204.66 L429.65,204.23 L431.02,203.86 L432.4,203.56 L433.78,203.32 L435.15,203.14 L436.53,203.04 L437.91,203" fill="none" stroke="#ff1a1a" stroke-width="1.1" stroke-linejoin="round" />
<path d="M272.6,330.5 L294.48,330.5 L295.68,330.48 L296.89,330.43 L298.09,330.34 L299.3,330.21 L300.51,330.05 L301.71,329.85 L302.92,329.62 L304.12,329.35 L305.33,329.05 L306.53,328.71 L307.74,328.33 L308.94,327.92 L310.15,327.47 L311.35,327 L312.56,326.48 L313.76,325.93 L314.97,325.35 L316.17,324.73 L317.38,324.08 L318.58,323.4 L319.79,322.68 L321,321.93 L322.2,321.15 L323.41,320.34 L324.61,319.49 L325.82,318.62 L327.02,317.71 L328.23,316.77 L329.43,315.81 L330.64,314.81 L331.84,313.78 L333.05,312.73 L334.25,311.64 L335.46,310.53 L336.66,309.4 L337.87,308.23 L339.07,307.04 L340.28,305.82 L341.49,304.58 L342.69,303.32 L343.9,302.03 L345.1,300.71 L346.31,299.38 L347.51,298.02 L348.72,296.64 L349.92,295.24 L351.13,293.82 L352.33,292.39 L353.54,290.93 L354.74,289.46 L355.95,287.96 L357.15,286.46 L358.36,284.93 L359.56,283.4 L360.77,281.85 L361.98,280.28 L363.18,278.71 L364.39,277.12 L365.59,275.52 L366.8,273.91 L368,272.3 L369.21,270.68 L370.41,269.05 L371.62,267.41 L372.82,265.77 L374.03,264.12 L375.23,262.48 L376.44,260.83 L377.64,259.18 L378.85,257.53 L380.05,255.88 L381.26,254.24 L382.46,252.6 L383.67,250.96 L384.88,249.33 L386.08,247.7 L387.29,246.09 L388.49,244.48 L389.7,242.88 L390.9,241.3 L392.11,239.72 L393.31,238.17 L394.52,236.62 L395.72,235.1 L396.93,233.59 L398.13,232.1 L399.34,230.63 L400.54,229.18 L401.75,227.76 L402.95,226.36 L404.16,224.98 L405.37,223.64 L406.57,222.32 L407.78,221.03 L408.98,219.77 L410.19,218.55 L411.39,217.36 L412.6,216.2 L413.8,215.09 L415.01,214.01 L416.21,212.97 L417.42,211.97 L418.62,211.02 L419.83,210.11 L421.03,209.25 L422.24,208.44 L423.44,207.68 L424.65,206.96 L425.86,206.31 L427.06,205.7 L428.27,205.15 L429.47,204.66 L430.68,204.23 L431.88,203.86 L433.09,203.56 L434.29,203.32 L435.5,203.14 L436.7,203.04 L437.91,203" fill="none" stroke="#ff1a1a" stroke-width="1.1" stroke-linejoin="round" />
<path d="M272.6,330.5 L329.97,330.5 L330.88,330.48 L331.79,330.43 L332.69,330.34 L333.6,330.21 L334.51,330.05 L335.41,329.85 L336.32,329.62 L337.23,329.35 L338.13,329.05 L339.04,328.71 L339.95,328.33 L340.86,327.92 L341.76,327.47 L342.67,327 L343.58,326.48 L344.48,325.93 L345.39,325.35 L346.3,324.73 L347.21,324.08 L348.11,323.4 L349.02,322.68 L349.93,321.93 L350.83,321.15 L351.74,320.34 L352.65,319.49 L353.55,318.62 L354.46,317.71 L355.37,316.77 L356.28,315.81 L357.18,314.81 L358.09,313.78 L359,312.73 L359.9,311.64 L360.81,310.53 L361.72,309.4 L362.62,308.23 L363.53,307.04 L364.44,305.82 L365.35,304.58 L366.25,303.32 L367.16,302.03 L368.07,300.71 L368.97,299.38 L369.88,298.02 L370.79,296.64 L371.69,295.24 L372.6,293.82 L373.51,292.39 L374.42,290.93 L375.32,289.46 L376.23,287.96 L377.14,286.46 L378.04,284.93 L378.95,283.4 L379.86,281.85 L380.77,280.28 L381.67,278.71 L382.58,277.12 L383.49,275.52 L384.39,273.91 L385.3,272.3 L386.21,270.68 L387.11,269.05 L388.02,267.41 L388.93,265.77 L389.84,264.12 L390.74,262.48 L391.65,260.83 L392.56,259.18 L393.46,257.53 L394.37,255.88 L395.28,254.24 L396.18,252.6 L397.09,250.96 L398,249.33 L398.91,247.7 L399.81,246.09 L400.72,244.48 L401.63,242.88 L402.53,241.3 L403.44,239.72 L404.35,238.17 L405.25,236.62 L406.16,235.1 L407.07,233.59 L407.98,232.1 L408.88,230.63 L409.79,229.18 L410.7,227.76 L411.6,226.36 L412.51,224.98 L413.42,223.64 L414.33,222.32 L415.23,221.03 L416.14,219.77 L417.05,218.55 L417.95,217.36 L418.86,216.2 L419.77,215.09 L420.67,214.01 L421.58,212.97 L422.49,211.97 L423.4,211.02 L424.3,210.11 L425.21,209.25 L426.12,208.44 L427.02,207.68 L427.93,206.96 L428.84,206.31 L429.74,205.7 L430.65,205.15 L431.56,204.66 L432.47,204.23 L433.37,203.86 L434.28,203.56 L435.19,203.32 L436.09,203.14 L437,203.04 L437.91,203" fill="none" stroke="#ff1a1a" stroke-width="1.1" stroke-linejoin="round" />
<path d="M272.6,330.5 L349.42,330.5 L350.16,330.48 L350.91,330.43 L351.65,330.34 L352.39,330.21 L353.14,330.05 L353.88,329.85 L354.62,329.62 L355.37,329.35 L356.11,329.05 L356.86,328.71 L357.6,328.33 L358.34,327.92 L359.09,327.47 L359.83,327 L360.57,326.48 L361.32,325.93 L362.06,325.35 L362.8,324.73 L363.55,324.08 L364.29,323.4 L365.04,322.68 L365.78,321.93 L366.52,321.15 L367.27,320.34 L368.01,319.49 L368.75,318.62 L369.5,317.71 L370.24,316.77 L370.98,315.81 L371.73,314.81 L372.47,313.78 L373.21,312.73 L373.96,311.64 L374.7,310.53 L375.45,309.4 L376.19,308.23 L376.93,307.04 L377.68,305.82 L378.42,304.58 L379.16,303.32 L379.91,302.03 L380.65,300.71 L381.39,299.38 L382.14,298.02 L382.88,296.64 L383.63,295.24 L384.37,293.82 L385.11,292.39 L385.86,290.93 L386.6,289.46 L387.34,287.96 L388.09,286.46 L388.83,284.93 L389.57,283.4 L390.32,281.85 L391.06,280.28 L391.8,278.71 L392.55,277.12 L393.29,275.52 L394.04,273.91 L394.78,272.3 L395.52,270.68 L396.27,269.05 L397.01,267.41 L397.75,265.77 L398.5,264.12 L399.24,262.48 L399.98,260.83 L400.73,259.18 L401.47,257.53 L402.22,255.88 L402.96,254.24 L403.7,252.6 L404.45,250.96 L405.19,249.33 L405.93,247.7 L406.68,246.09 L407.42,244.48 L408.16,242.88 L408.91,241.3 L409.65,239.72 L410.39,238.17 L411.14,236.62 L411.88,235.1 L412.63,233.59 L413.37,232.1 L414.11,230.63 L414.86,229.18 L415.6,227.76 L416.34,226.36 L417.09,224.98 L417.83,223.64 L418.57,222.32 L419.32,221.03 L420.06,219.77 L420.81,218.55 L421.55,217.36 L422.29,216.2 L423.04,215.09 L423.78,214.01 L424.52,212.97 L425.27,211.97 L426.01,211.02 L426.75,210.11 L427.5,209.25 L428.24,208.44 L428.98,207.68 L429.73,206.96 L430.47,206.31 L431.22,205.7 L431.96,205.15 L432.7,204.66 L433.45,204.23 L434.19,203.86 L434.93,203.56 L435.68,203.32 L436.42,203.14 L437.16,203.04 L437.91,203" fill="none" stroke="#ff1a1a" stroke-width="1.1" stroke-linejoin="round" />
<path d="M272.6,330.5 L365.46,330.5 L366.07,330.48 L366.68,330.43 L367.29,330.34 L367.9,330.21 L368.51,330.05 L369.12,329.85 L369.73,329.62 L370.33,329.35 L370.94,329.05 L371.55,328.71 L372.16,328.33 L372.77,327.92 L373.38,327.47 L373.99,327 L374.6,326.48 L375.2,325.93 L375.81,325.35 L376.42,324.73 L377.03,324.08 L377.64,323.4 L378.25,322.68 L378.86,321.93 L379.47,321.15 L380.07,320.34 L380.68,319.49 L381.29,318.62 L381.9,317.71 L382.51,316.77 L383.12,315.81 L383.73,314.81 L384.34,313.78 L384.94,312.73 L385.55,311.64 L386.16,310.53 L386.77,309.4 L387.38,308.23 L387.99,307.04 L388.6,305.82 L389.21,304.58 L389.82,303.32 L390.42,302.03 L391.03,300.71 L391.64,299.38 L392.25,298.02 L392.86,296.64 L393.47,295.24 L394.08,293.82 L394.69,292.39 L395.29,290.93 L395.9,289.46 L396.51,287.96 L397.12,286.46 L397.73,284.93 L398.34,283.4 L398.95,281.85 L399.56,280.28 L400.16,278.71 L400.77,277.12 L401.38,275.52 L401.99,273.91 L402.6,272.3 L403.21,270.68 L403.82,269.05 L404.43,267.41 L405.03,265.77 L405.64,264.12 L406.25,262.48 L406.86,260.83 L407.47,259.18 L408.08,257.53 L408.69,255.88 L409.3,254.24 L409.9,252.6 L410.51,250.96 L411.12,249.33 L411.73,247.7 L412.34,246.09 L412.95,244.48 L413.56,242.88 L414.17,241.3 L414.77,239.72 L415.38,238.17 L415.99,236.62 L416.6,235.1 L417.21,233.59 L417.82,232.1 L418.43,230.63 L419.04,229.18 L419.64,227.76 L420.25,226.36 L420.86,224.98 L421.47,223.64 L422.08,222.32 L422.69,221.03 L423.3,219.77 L423.91,218.55 L424.52,217.36 L425.12,216.2 L425.73,215.09 L426.34,214.01 L426.95,212.97 L427.56,211.97 L428.17,211.02 L428.78,210.11 L429.39,209.25 L429.99,208.44 L430.6,207.68 L431.21,206.96 L431.82,206.31 L432.43,205.7 L433.04,205.15 L433.65,204.66 L434.26,204.23 L434.86,203.86 L435.47,203.56 L436.08,203.32 L436.69,203.14 L437.3,203.04 L437.91,203" fill="none" stroke="#ff1a1a" stroke-width="1.1" stroke-linejoin="round" />
<path d="M272.6,330.5 L372.76,330.5 L373.3,330.48 L373.85,330.43 L374.4,330.34 L374.95,330.21 L375.49,330.05 L376.04,329.85 L376.59,329.62 L377.14,329.35 L377.68,329.05 L378.23,328.71 L378.78,328.33 L379.33,327.92 L379.87,327.47 L380.42,327 L380.97,326.48 L381.52,325.93 L382.06,325.35 L382.61,324.73 L383.16,324.08 L383.71,323.4 L384.25,322.68 L384.8,321.93 L385.35,321.15 L385.9,320.34 L386.44,319.49 L386.99,318.62 L387.54,317.71 L388.09,316.77 L388.63,315.81 L389.18,314.81 L389.73,313.78 L390.28,312.73 L390.82,311.64 L391.37,310.53 L391.92,309.4 L392.47,308.23 L393.01,307.04 L393.56,305.82 L394.11,304.58 L394.66,303.32 L395.2,302.03 L395.75,300.71 L396.3,299.38 L396.85,298.02 L397.39,296.64 L397.94,295.24 L398.49,293.82 L399.04,292.39 L399.58,290.93 L400.13,289.46 L400.68,287.96 L401.23,286.46 L401.77,284.93 L402.32,283.4 L402.87,281.85 L403.42,280.28 L403.96,278.71 L404.51,277.12 L405.06,275.52 L405.61,273.91 L406.15,272.3 L406.7,270.68 L407.25,269.05 L407.8,267.41 L408.34,265.77 L408.89,264.12 L409.44,262.48 L409.99,260.83 L410.53,259.18 L411.08,257.53 L411.63,255.88 L412.18,254.24 L412.72,252.6 L413.27,250.96 L413.82,249.33 L414.37,247.7 L414.91,246.09 L415.46,244.48 L416.01,242.88 L416.56,241.3 L417.1,239.72 L417.65,238.17 L418.2,236.62 L418.75,235.1 L419.29,233.59 L419.84,232.1 L420.39,230.63 L420.94,229.18 L421.48,227.76 L422.03,226.36 L422.58,224.98 L423.13,223.64 L423.67,222.32 L424.22,221.03 L424.77,219.77 L425.32,218.55 L425.86,217.36 L426.41,216.2 L426.96,215.09 L427.51,214.01 L428.05,212.97 L428.6,211.97 L429.15,211.02 L429.7,210.11 L430.24,209.25 L430.79,208.44 L431.34,207.68 L431.89,206.96 L432.43,206.31 L432.98,205.7 L433.53,205.15 L434.08,204.66 L434.62,204.23 L435.17,203.86 L435.72,203.56 L436.27,203.32 L436.81,203.14 L437.36,203.04 L437.91,203" fill="none" stroke="#ff1a1a" stroke-width="1.1" stroke-linejoin="round" />
<line x1="272.6" y1="333.9" x2="272.6" y2="331" stroke="#111" stroke-width="0.95" />
<line x1="272.6" y1="199.2" x2="272.6" y2="202.1" stroke="#111" stroke-width="0.95" />
<line x1="282.32" y1="333.9" x2="282.32" y2="331" stroke="#111" stroke-width="0.95" />
<line x1="282.32" y1="199.2" x2="282.32" y2="202.1" stroke="#111" stroke-width="0.95" />
<line x1="292.05" y1="333.9" x2="292.05" y2="331" stroke="#111" stroke-width="0.95" />
<line x1="292.05" y1="199.2" x2="292.05" y2="202.1" stroke="#111" stroke-width="0.95" />
<line x1="301.77" y1="333.9" x2="301.77" y2="331" stroke="#111" stroke-width="0.95" />
<line x1="301.77" y1="199.2" x2="301.77" y2="202.1" stroke="#111" stroke-width="0.95" />
<line x1="311.5" y1="333.9" x2="311.5" y2="331" stroke="#111" stroke-width="0.95" />
<line x1="311.5" y1="199.2" x2="311.5" y2="202.1" stroke="#111" stroke-width="0.95" />
<line x1="321.22" y1="333.9" x2="321.22" y2="331" stroke="#111" stroke-width="0.95" />
<line x1="321.22" y1="199.2" x2="321.22" y2="202.1" stroke="#111" stroke-width="0.95" />
<line x1="330.94" y1="333.9" x2="330.94" y2="331" stroke="#111" stroke-width="0.95" />
<line x1="330.94" y1="199.2" x2="330.94" y2="202.1" stroke="#111" stroke-width="0.95" />
<line x1="340.67" y1="333.9" x2="340.67" y2="331" stroke="#111" stroke-width="0.95" />
<line x1="340.67" y1="199.2" x2="340.67" y2="202.1" stroke="#111" stroke-width="0.95" />
<line x1="350.39" y1="333.9" x2="350.39" y2="331" stroke="#111" stroke-width="0.95" />
<line x1="350.39" y1="199.2" x2="350.39" y2="202.1" stroke="#111" stroke-width="0.95" />
<line x1="360.12" y1="333.9" x2="360.12" y2="331" stroke="#111" stroke-width="0.95" />
<line x1="360.12" y1="199.2" x2="360.12" y2="202.1" stroke="#111" stroke-width="0.95" />
<line x1="369.84" y1="333.9" x2="369.84" y2="331" stroke="#111" stroke-width="0.95" />
<line x1="369.84" y1="199.2" x2="369.84" y2="202.1" stroke="#111" stroke-width="0.95" />
<line x1="379.56" y1="333.9" x2="379.56" y2="331" stroke="#111" stroke-width="0.95" />
<line x1="379.56" y1="199.2" x2="379.56" y2="202.1" stroke="#111" stroke-width="0.95" />
<line x1="389.29" y1="333.9" x2="389.29" y2="331" stroke="#111" stroke-width="0.95" />
<line x1="389.29" y1="199.2" x2="389.29" y2="202.1" stroke="#111" stroke-width="0.95" />
<line x1="399.01" y1="333.9" x2="399.01" y2="331" stroke="#111" stroke-width="0.95" />
<line x1="399.01" y1="199.2" x2="399.01" y2="202.1" stroke="#111" stroke-width="0.95" />
<line x1="408.74" y1="333.9" x2="408.74" y2="331" stroke="#111" stroke-width="0.95" />
<line x1="408.74" y1="199.2" x2="408.74" y2="202.1" stroke="#111" stroke-width="0.95" />
<line x1="418.46" y1="333.9" x2="418.46" y2="331" stroke="#111" stroke-width="0.95" />
<line x1="418.46" y1="199.2" x2="418.46" y2="202.1" stroke="#111" stroke-width="0.95" />
<line x1="428.18" y1="333.9" x2="428.18" y2="331" stroke="#111" stroke-width="0.95" />
<line x1="428.18" y1="199.2" x2="428.18" y2="202.1" stroke="#111" stroke-width="0.95" />
<line x1="437.91" y1="333.9" x2="437.91" y2="331" stroke="#111" stroke-width="0.95" />
<line x1="437.91" y1="199.2" x2="437.91" y2="202.1" stroke="#111" stroke-width="0.95" />
<line x1="277.46" y1="333.9" x2="277.46" y2="332" stroke="#111" stroke-width="0.95" />
<line x1="277.46" y1="199.2" x2="277.46" y2="201.1" stroke="#111" stroke-width="0.95" />
<line x1="287.19" y1="333.9" x2="287.19" y2="332" stroke="#111" stroke-width="0.95" />
<line x1="287.19" y1="199.2" x2="287.19" y2="201.1" stroke="#111" stroke-width="0.95" />
<line x1="296.91" y1="333.9" x2="296.91" y2="332" stroke="#111" stroke-width="0.95" />
<line x1="296.91" y1="199.2" x2="296.91" y2="201.1" stroke="#111" stroke-width="0.95" />
<line x1="306.63" y1="333.9" x2="306.63" y2="332" stroke="#111" stroke-width="0.95" />
<line x1="306.63" y1="199.2" x2="306.63" y2="201.1" stroke="#111" stroke-width="0.95" />
<line x1="316.36" y1="333.9" x2="316.36" y2="332" stroke="#111" stroke-width="0.95" />
<line x1="316.36" y1="199.2" x2="316.36" y2="201.1" stroke="#111" stroke-width="0.95" />
<line x1="326.08" y1="333.9" x2="326.08" y2="332" stroke="#111" stroke-width="0.95" />
<line x1="326.08" y1="199.2" x2="326.08" y2="201.1" stroke="#111" stroke-width="0.95" />
<line x1="335.81" y1="333.9" x2="335.81" y2="332" stroke="#111" stroke-width="0.95" />
<line x1="335.81" y1="199.2" x2="335.81" y2="201.1" stroke="#111" stroke-width="0.95" />
<line x1="345.53" y1="333.9" x2="345.53" y2="332" stroke="#111" stroke-width="0.95" />
<line x1="345.53" y1="199.2" x2="345.53" y2="201.1" stroke="#111" stroke-width="0.95" />
<line x1="355.25" y1="333.9" x2="355.25" y2="332" stroke="#111" stroke-width="0.95" />
<line x1="355.25" y1="199.2" x2="355.25" y2="201.1" stroke="#111" stroke-width="0.95" />
<line x1="364.98" y1="333.9" x2="364.98" y2="332" stroke="#111" stroke-width="0.95" />
<line x1="364.98" y1="199.2" x2="364.98" y2="201.1" stroke="#111" stroke-width="0.95" />
<line x1="374.7" y1="333.9" x2="374.7" y2="332" stroke="#111" stroke-width="0.95" />
<line x1="374.7" y1="199.2" x2="374.7" y2="201.1" stroke="#111" stroke-width="0.95" />
<line x1="384.43" y1="333.9" x2="384.43" y2="332" stroke="#111" stroke-width="0.95" />
<line x1="384.43" y1="199.2" x2="384.43" y2="201.1" stroke="#111" stroke-width="0.95" />
<line x1="394.15" y1="333.9" x2="394.15" y2="332" stroke="#111" stroke-width="0.95" />
<line x1="394.15" y1="199.2" x2="394.15" y2="201.1" stroke="#111" stroke-width="0.95" />
<line x1="403.87" y1="333.9" x2="403.87" y2="332" stroke="#111" stroke-width="0.95" />
<line x1="403.87" y1="199.2" x2="403.87" y2="201.1" stroke="#111" stroke-width="0.95" />
<line x1="413.6" y1="333.9" x2="413.6" y2="332" stroke="#111" stroke-width="0.95" />
<line x1="413.6" y1="199.2" x2="413.6" y2="201.1" stroke="#111" stroke-width="0.95" />
<line x1="423.32" y1="333.9" x2="423.32" y2="332" stroke="#111" stroke-width="0.95" />
<line x1="423.32" y1="199.2" x2="423.32" y2="201.1" stroke="#111" stroke-width="0.95" />
<line x1="433.05" y1="333.9" x2="433.05" y2="332" stroke="#111" stroke-width="0.95" />
<line x1="433.05" y1="199.2" x2="433.05" y2="201.1" stroke="#111" stroke-width="0.95" />
<line x1="268.2" y1="330.5" x2="271.1" y2="330.5" stroke="#111" stroke-width="0.95" />
<line x1="442.4" y1="330.5" x2="439.5" y2="330.5" stroke="#111" stroke-width="0.95" />
<line x1="268.2" y1="317.75" x2="271.1" y2="317.75" stroke="#111" stroke-width="0.95" />
<line x1="442.4" y1="317.75" x2="439.5" y2="317.75" stroke="#111" stroke-width="0.95" />
<line x1="268.2" y1="305" x2="271.1" y2="305" stroke="#111" stroke-width="0.95" />
<line x1="442.4" y1="305" x2="439.5" y2="305" stroke="#111" stroke-width="0.95" />
<line x1="268.2" y1="292.25" x2="271.1" y2="292.25" stroke="#111" stroke-width="0.95" />
<line x1="442.4" y1="292.25" x2="439.5" y2="292.25" stroke="#111" stroke-width="0.95" />
<line x1="268.2" y1="279.5" x2="271.1" y2="279.5" stroke="#111" stroke-width="0.95" />
<line x1="442.4" y1="279.5" x2="439.5" y2="279.5" stroke="#111" stroke-width="0.95" />
<line x1="268.2" y1="266.75" x2="271.1" y2="266.75" stroke="#111" stroke-width="0.95" />
<line x1="442.4" y1="266.75" x2="439.5" y2="266.75" stroke="#111" stroke-width="0.95" />
<line x1="268.2" y1="254" x2="271.1" y2="254" stroke="#111" stroke-width="0.95" />
<line x1="442.4" y1="254" x2="439.5" y2="254" stroke="#111" stroke-width="0.95" />
<line x1="268.2" y1="241.25" x2="271.1" y2="241.25" stroke="#111" stroke-width="0.95" />
<line x1="442.4" y1="241.25" x2="439.5" y2="241.25" stroke="#111" stroke-width="0.95" />
<line x1="268.2" y1="228.5" x2="271.1" y2="228.5" stroke="#111" stroke-width="0.95" />
<line x1="442.4" y1="228.5" x2="439.5" y2="228.5" stroke="#111" stroke-width="0.95" />
<line x1="268.2" y1="215.75" x2="271.1" y2="215.75" stroke="#111" stroke-width="0.95" />
<line x1="442.4" y1="215.75" x2="439.5" y2="215.75" stroke="#111" stroke-width="0.95" />
<line x1="268.2" y1="203" x2="271.1" y2="203" stroke="#111" stroke-width="0.95" />
<line x1="442.4" y1="203" x2="439.5" y2="203" stroke="#111" stroke-width="0.95" />
<line x1="268.2" y1="324.12" x2="270.1" y2="324.12" stroke="#111" stroke-width="0.95" />
<line x1="442.4" y1="324.12" x2="440.5" y2="324.12" stroke="#111" stroke-width="0.95" />
<line x1="268.2" y1="311.38" x2="270.1" y2="311.38" stroke="#111" stroke-width="0.95" />
<line x1="442.4" y1="311.38" x2="440.5" y2="311.38" stroke="#111" stroke-width="0.95" />
<line x1="268.2" y1="298.62" x2="270.1" y2="298.62" stroke="#111" stroke-width="0.95" />
<line x1="442.4" y1="298.62" x2="440.5" y2="298.62" stroke="#111" stroke-width="0.95" />
<line x1="268.2" y1="285.88" x2="270.1" y2="285.88" stroke="#111" stroke-width="0.95" />
<line x1="442.4" y1="285.88" x2="440.5" y2="285.88" stroke="#111" stroke-width="0.95" />
<line x1="268.2" y1="273.12" x2="270.1" y2="273.12" stroke="#111" stroke-width="0.95" />
<line x1="442.4" y1="273.12" x2="440.5" y2="273.12" stroke="#111" stroke-width="0.95" />
<line x1="268.2" y1="260.38" x2="270.1" y2="260.38" stroke="#111" stroke-width="0.95" />
<line x1="442.4" y1="260.38" x2="440.5" y2="260.38" stroke="#111" stroke-width="0.95" />
<line x1="268.2" y1="247.62" x2="270.1" y2="247.62" stroke="#111" stroke-width="0.95" />
<line x1="442.4" y1="247.62" x2="440.5" y2="247.62" stroke="#111" stroke-width="0.95" />
<line x1="268.2" y1="234.88" x2="270.1" y2="234.88" stroke="#111" stroke-width="0.95" />
<line x1="442.4" y1="234.88" x2="440.5" y2="234.88" stroke="#111" stroke-width="0.95" />
<line x1="268.2" y1="222.12" x2="270.1" y2="222.12" stroke="#111" stroke-width="0.95" />
<line x1="442.4" y1="222.12" x2="440.5" y2="222.12" stroke="#111" stroke-width="0.95" />
<line x1="268.2" y1="209.38" x2="270.1" y2="209.38" stroke="#111" stroke-width="0.95" />
<line x1="442.4" y1="209.38" x2="440.5" y2="209.38" stroke="#111" stroke-width="0.95" />
<rect x="268.2" y="199.2" width="174.2" height="134.7" fill="none" stroke="#111" stroke-width="1.2"/>
<text x="272.6" y="343.6" font-size="6.8" text-anchor="middle" font-weight="bold" fill="#000" stroke="#000" stroke-width="0.16" >0</text>
<text x="282.32" y="343.6" font-size="6.8" text-anchor="middle" font-weight="bold" fill="#000" stroke="#000" stroke-width="0.16" >2</text>
<text x="292.05" y="343.6" font-size="6.8" text-anchor="middle" font-weight="bold" fill="#000" stroke="#000" stroke-width="0.16" >4</text>
<text x="301.77" y="343.6" font-size="6.8" text-anchor="middle" font-weight="bold" fill="#000" stroke="#000" stroke-width="0.16" >6</text>
<text x="311.5" y="343.6" font-size="6.8" text-anchor="middle" font-weight="bold" fill="#000" stroke="#000" stroke-width="0.16" >8</text>
<text x="321.22" y="343.6" font-size="6.8" text-anchor="middle" font-weight="bold" fill="#000" stroke="#000" stroke-width="0.16" >10</text>
<text x="330.94" y="343.6" font-size="6.8" text-anchor="middle" font-weight="bold" fill="#000" stroke="#000" stroke-width="0.16" >12</text>
<text x="340.67" y="343.6" font-size="6.8" text-anchor="middle" font-weight="bold" fill="#000" stroke="#000" stroke-width="0.16" >14</text>
<text x="350.39" y="343.6" font-size="6.8" text-anchor="middle" font-weight="bold" fill="#000" stroke="#000" stroke-width="0.16" >16</text>
<text x="360.12" y="343.6" font-size="6.8" text-anchor="middle" font-weight="bold" fill="#000" stroke="#000" stroke-width="0.16" >18</text>
<text x="369.84" y="343.6" font-size="6.8" text-anchor="middle" font-weight="bold" fill="#000" stroke="#000" stroke-width="0.16" >20</text>
<text x="379.56" y="343.6" font-size="6.8" text-anchor="middle" font-weight="bold" fill="#000" stroke="#000" stroke-width="0.16" >22</text>
<text x="389.29" y="343.6" font-size="6.8" text-anchor="middle" font-weight="bold" fill="#000" stroke="#000" stroke-width="0.16" >24</text>
<text x="399.01" y="343.6" font-size="6.8" text-anchor="middle" font-weight="bold" fill="#000" stroke="#000" stroke-width="0.16" >26</text>
<text x="408.74" y="343.6" font-size="6.8" text-anchor="middle" font-weight="bold" fill="#000" stroke="#000" stroke-width="0.16" >28</text>
<text x="418.46" y="343.6" font-size="6.8" text-anchor="middle" font-weight="bold" fill="#000" stroke="#000" stroke-width="0.16" >30</text>
<text x="428.18" y="343.6" font-size="6.8" text-anchor="middle" font-weight="bold" fill="#000" stroke="#000" stroke-width="0.16" >32</text>
<text x="437.91" y="343.6" font-size="6.8" text-anchor="middle" font-weight="bold" fill="#000" stroke="#000" stroke-width="0.16" >34</text>
<text x="264.6" y="333.1" font-size="7.4" text-anchor="end" font-weight="bold" fill="#000" stroke="#000" stroke-width="0.16" >−200</text>
<text x="264.6" y="320.35" font-size="7.4" text-anchor="end" font-weight="bold" fill="#000" stroke="#000" stroke-width="0.16" >−180</text>
<text x="264.6" y="307.6" font-size="7.4" text-anchor="end" font-weight="bold" fill="#000" stroke="#000" stroke-width="0.16" >−160</text>
<text x="264.6" y="294.85" font-size="7.4" text-anchor="end" font-weight="bold" fill="#000" stroke="#000" stroke-width="0.16" >−140</text>
<text x="264.6" y="282.1" font-size="7.4" text-anchor="end" font-weight="bold" fill="#000" stroke="#000" stroke-width="0.16" >−120</text>
<text x="264.6" y="269.35" font-size="7.4" text-anchor="end" font-weight="bold" fill="#000" stroke="#000" stroke-width="0.16" >−100</text>
<text x="264.6" y="256.6" font-size="7.4" text-anchor="end" font-weight="bold" fill="#000" stroke="#000" stroke-width="0.16" >−80</text>
<text x="264.6" y="243.85" font-size="7.4" text-anchor="end" font-weight="bold" fill="#000" stroke="#000" stroke-width="0.16" >−60</text>
<text x="264.6" y="231.1" font-size="7.4" text-anchor="end" font-weight="bold" fill="#000" stroke="#000" stroke-width="0.16" >−40</text>
<text x="264.6" y="218.35" font-size="7.4" text-anchor="end" font-weight="bold" fill="#000" stroke="#000" stroke-width="0.16" >−20</text>
<text x="264.6" y="205.6" font-size="7.4" text-anchor="end" font-weight="bold" fill="#000" stroke="#000" stroke-width="0.16" >0</text>
<text x="273.4" y="211" font-size="7.2" text-anchor="start" font-weight="bold" fill="#1a1aff" stroke="#1a1aff" stroke-width="0.16" textLength="20.7" lengthAdjust="spacingAndGlyphs" >0 MPa</text>
<text x="273.4" y="232.9" font-size="7.2" text-anchor="start" font-weight="bold" fill="#1a1aff" stroke="#1a1aff" stroke-width="0.16" textLength="27.1" lengthAdjust="spacingAndGlyphs" >0.2 MPa</text>
<text x="273.4" y="255.1" font-size="7.2" text-anchor="start" font-weight="bold" fill="#1a1aff" stroke="#1a1aff" stroke-width="0.16" textLength="27.1" lengthAdjust="spacingAndGlyphs" >0.4 MPa</text>
<text x="273.2" y="277.4" font-size="7.2" text-anchor="start" font-weight="bold" fill="#1a1aff" stroke="#1a1aff" stroke-width="0.16" textLength="27.5" lengthAdjust="spacingAndGlyphs" >0.6 MPa</text>
<text x="273.2" y="299.3" font-size="7.2" text-anchor="start" font-weight="bold" fill="#1a1aff" stroke="#1a1aff" stroke-width="0.16" textLength="27.3" lengthAdjust="spacingAndGlyphs" >0.8 MPa</text>
<text x="274.1" y="319.6" font-size="7.2" text-anchor="start" font-weight="bold" fill="#1a1aff" stroke="#1a1aff" stroke-width="0.16" textLength="20.9" lengthAdjust="spacingAndGlyphs" >1 MPa</text>
<text x="273.6" y="328.7" font-size="7.2" text-anchor="start" font-weight="bold" fill="#1a1aff" stroke="#1a1aff" stroke-width="0.16" textLength="26.7" lengthAdjust="spacingAndGlyphs" >1.1 MPa</text>
<text x="305.5" y="327.7" font-size="7.2" text-anchor="start" font-weight="bold" fill="#1a1aff" stroke="#1a1aff" stroke-width="0.16" textLength="21.2" lengthAdjust="spacingAndGlyphs" >2 MPa</text>
<text x="328.9" y="327.7" font-size="7.2" text-anchor="start" font-weight="bold" fill="#1a1aff" stroke="#1a1aff" stroke-width="0.16" textLength="21.5" lengthAdjust="spacingAndGlyphs" >5 MPa</text>
<text x="352.6" y="321.1" font-size="7.2" text-anchor="start" font-weight="bold" fill="#1a1aff" stroke="#1a1aff" stroke-width="0.16" textLength="24.5" lengthAdjust="spacingAndGlyphs" >10 MPa</text>
<text x="372.3" y="313.3" font-size="7.2" text-anchor="start" font-weight="bold" fill="#1a1aff" stroke="#1a1aff" stroke-width="0.16" textLength="24.7" lengthAdjust="spacingAndGlyphs" >20 MPa</text>
<text x="384.7" y="305.2" font-size="7.2" text-anchor="start" font-weight="bold" fill="#1a1aff" stroke="#1a1aff" stroke-width="0.16" textLength="24.3" lengthAdjust="spacingAndGlyphs" >30 MPa</text>
<text x="235" y="199.2" font-size="13.8" text-anchor="start" font-weight="bold" fill="#000" stroke="#000" stroke-width="0.16" >e</text>
<text x="242.4" y="265.6" font-size="6.8" text-anchor="middle" font-weight="bold" fill="#000" stroke="#000" stroke-width="0.16" textLength="52.5" lengthAdjust="spacingAndGlyphs" transform="rotate(-90 242.4 265.6)" >Deflection (nm)</text>
<text x="289.8" y="353.5" font-size="6.8" text-anchor="start" font-weight="bold" fill="#000" stroke="#000" stroke-width="0.16" textLength="130.5" lengthAdjust="spacingAndGlyphs" >Distance from membrane center (µm)</text>
<rect x="385.4" y="319" width="53" height="10.3" fill="#fff" stroke="#333" stroke-width="0.8"/>
<line x1="386.8" y1="324" x2="402.9" y2="324" stroke="#ff1a1a" stroke-width="1.1" />
<text x="406.6" y="326" font-size="5.4" text-anchor="start" font-weight="bold" fill="#ff1a1a" stroke="#ff1a1a" stroke-width="0.16" textLength="28.1" lengthAdjust="spacingAndGlyphs" >Deflection</text>
<line x1="511.22" y1="199.2" x2="511.22" y2="334.2" stroke="#c8c8c8" stroke-width="0.55" stroke-dasharray="0.7 1.1"/>
<line x1="522.26" y1="199.2" x2="522.26" y2="334.2" stroke="#c8c8c8" stroke-width="0.55" stroke-dasharray="0.7 1.1"/>
<line x1="533.3" y1="199.2" x2="533.3" y2="334.2" stroke="#c8c8c8" stroke-width="0.55" stroke-dasharray="0.7 1.1"/>
<line x1="544.34" y1="199.2" x2="544.34" y2="334.2" stroke="#c8c8c8" stroke-width="0.55" stroke-dasharray="0.7 1.1"/>
<line x1="555.38" y1="199.2" x2="555.38" y2="334.2" stroke="#c8c8c8" stroke-width="0.55" stroke-dasharray="0.7 1.1"/>
<line x1="566.42" y1="199.2" x2="566.42" y2="334.2" stroke="#c8c8c8" stroke-width="0.55" stroke-dasharray="0.7 1.1"/>
<line x1="577.46" y1="199.2" x2="577.46" y2="334.2" stroke="#c8c8c8" stroke-width="0.55" stroke-dasharray="0.7 1.1"/>
<line x1="588.5" y1="199.2" x2="588.5" y2="334.2" stroke="#c8c8c8" stroke-width="0.55" stroke-dasharray="0.7 1.1"/>
<line x1="599.54" y1="199.2" x2="599.54" y2="334.2" stroke="#c8c8c8" stroke-width="0.55" stroke-dasharray="0.7 1.1"/>
<line x1="610.58" y1="199.2" x2="610.58" y2="334.2" stroke="#c8c8c8" stroke-width="0.55" stroke-dasharray="0.7 1.1"/>
<line x1="621.62" y1="199.2" x2="621.62" y2="334.2" stroke="#c8c8c8" stroke-width="0.55" stroke-dasharray="0.7 1.1"/>
<line x1="632.66" y1="199.2" x2="632.66" y2="334.2" stroke="#c8c8c8" stroke-width="0.55" stroke-dasharray="0.7 1.1"/>
<line x1="643.7" y1="199.2" x2="643.7" y2="334.2" stroke="#c8c8c8" stroke-width="0.55" stroke-dasharray="0.7 1.1"/>
<line x1="654.74" y1="199.2" x2="654.74" y2="334.2" stroke="#c8c8c8" stroke-width="0.55" stroke-dasharray="0.7 1.1"/>
<line x1="665.78" y1="199.2" x2="665.78" y2="334.2" stroke="#c8c8c8" stroke-width="0.55" stroke-dasharray="0.7 1.1"/>
<line x1="500.6" y1="328.72" x2="676.4" y2="328.72" stroke="#c8c8c8" stroke-width="0.55" stroke-dasharray="0.7 1.1"/>
<line x1="500.6" y1="317.96" x2="676.4" y2="317.96" stroke="#c8c8c8" stroke-width="0.55" stroke-dasharray="0.7 1.1"/>
<line x1="500.6" y1="307.2" x2="676.4" y2="307.2" stroke="#c8c8c8" stroke-width="0.55" stroke-dasharray="0.7 1.1"/>
<line x1="500.6" y1="296.44" x2="676.4" y2="296.44" stroke="#c8c8c8" stroke-width="0.55" stroke-dasharray="0.7 1.1"/>
<line x1="500.6" y1="285.68" x2="676.4" y2="285.68" stroke="#c8c8c8" stroke-width="0.55" stroke-dasharray="0.7 1.1"/>
<line x1="500.6" y1="274.92" x2="676.4" y2="274.92" stroke="#c8c8c8" stroke-width="0.55" stroke-dasharray="0.7 1.1"/>
<line x1="500.6" y1="264.16" x2="676.4" y2="264.16" stroke="#c8c8c8" stroke-width="0.55" stroke-dasharray="0.7 1.1"/>
<line x1="500.6" y1="253.4" x2="676.4" y2="253.4" stroke="#c8c8c8" stroke-width="0.55" stroke-dasharray="0.7 1.1"/>
<line x1="500.6" y1="242.64" x2="676.4" y2="242.64" stroke="#c8c8c8" stroke-width="0.55" stroke-dasharray="0.7 1.1"/>
<line x1="500.6" y1="231.88" x2="676.4" y2="231.88" stroke="#c8c8c8" stroke-width="0.55" stroke-dasharray="0.7 1.1"/>
<line x1="500.6" y1="221.12" x2="676.4" y2="221.12" stroke="#c8c8c8" stroke-width="0.55" stroke-dasharray="0.7 1.1"/>
<line x1="500.6" y1="210.36" x2="676.4" y2="210.36" stroke="#c8c8c8" stroke-width="0.55" stroke-dasharray="0.7 1.1"/>
<line x1="500.6" y1="199.6" x2="676.4" y2="199.6" stroke="#c8c8c8" stroke-width="0.55" stroke-dasharray="0.7 1.1"/>
<path d="M511.61,305.69 L512.41,304.44 L513.21,302.73 L514.01,300.81 L514.82,298.81 L515.62,296.78 L516.42,294.78 L517.22,292.82 L518.03,290.91 L518.83,289.06 L519.63,287.27 L520.43,285.53 L521.24,283.86 L522.04,282.24 L522.84,280.67 L523.64,279.16 L524.45,277.7 L525.25,276.29 L526.05,274.92 L526.85,273.59 L527.66,272.31 L528.46,271.06 L529.26,269.86 L530.06,268.69 L530.87,267.55 L531.67,266.44 L532.47,265.37 L533.27,264.32 L534.08,263.3 L534.88,262.31 L535.68,261.35 L536.48,260.41 L537.29,259.49 L538.09,258.6 L538.89,257.72 L539.69,256.87 L540.5,256.04 L541.3,255.23 L542.1,254.43 L542.9,253.66 L543.71,252.9 L544.51,252.16 L545.31,251.43 L546.11,250.72 L546.92,250.02 L547.72,249.34 L548.52,248.67 L549.32,248.01 L550.13,247.37 L550.93,246.74 L551.73,246.12 L552.53,245.52 L553.34,244.92 L554.14,244.34 L554.94,243.77 L555.74,243.2 L556.55,242.65 L557.35,242.11 L558.15,241.58 L558.95,241.05 L559.76,240.54 L560.56,240.03 L561.36,239.54 L562.16,239.05 L562.97,238.56 L563.77,238.09 L564.57,237.63 L565.37,237.17 L566.18,236.72 L566.98,236.27 L567.78,235.84 L568.58,235.41 L569.38,234.98 L570.19,234.56 L570.99,234.15 L571.79,233.75 L572.59,233.35 L573.4,232.96 L574.2,232.57 L575,232.19 L575.8,231.81 L576.61,231.44 L577.41,231.08 L578.21,230.71 L579.01,230.36 L579.82,230.01 L580.62,229.66 L581.42,229.32 L582.22,228.98 L583.03,228.65 L583.83,228.32 L584.63,228 L585.43,227.68 L586.24,227.37 L587.04,227.06 L587.84,226.75 L588.64,226.45 L589.45,226.15 L590.25,225.85 L591.05,225.56 L591.85,225.27 L592.66,224.99 L593.46,224.71 L594.26,224.43 L595.06,224.15 L595.87,223.88 L596.67,223.62 L597.47,223.35 L598.27,223.09 L599.08,222.83 L599.88,222.58 L600.68,222.32 L601.48,222.08 L602.29,221.83 L603.09,221.59 L603.89,221.34 L604.69,221.11 L605.5,220.87 L606.3,220.64 L607.1,220.41 L607.9,220.18 L608.71,219.96 L609.51,219.73 L610.31,219.51 L611.11,219.29 L611.92,219.08 L612.72,218.87 L613.52,218.66 L614.32,218.45 L615.13,218.24 L615.93,218.04 L616.73,217.84 L617.53,217.64 L618.34,217.44 L619.14,217.24 L619.94,217.05 L620.74,216.86 L621.55,216.67 L622.35,216.48 L623.15,216.29 L623.95,216.11 L624.76,215.93 L625.56,215.75 L626.36,215.57 L627.16,215.39 L627.97,215.22 L628.77,215.05 L629.57,214.88 L630.37,214.71 L631.18,214.54 L631.98,214.37 L632.78,214.21 L633.58,214.04 L634.39,213.88 L635.19,213.72 L635.99,213.57 L636.79,213.41 L637.6,213.25 L638.4,213.1 L639.2,212.95 L640,212.8 L640.81,212.65 L641.61,212.5 L642.41,212.35 L643.21,212.21 L644.02,212.06 L644.82,211.92 L645.62,211.78 L646.42,211.64 L647.23,211.5 L648.03,211.37 L648.83,211.23 L649.63,211.1 L650.44,210.96 L651.24,210.83 L652.04,210.7 L652.84,210.57 L653.65,210.44 L654.45,210.31 L655.25,210.19 L656.05,210.06 L656.86,209.94 L657.66,209.81 L658.46,209.69 L659.26,209.57 L660.07,209.45 L660.87,209.33 L661.67,209.22 L662.47,209.1 L663.28,208.98 L664.08,208.87 L664.88,208.76 L665.68,208.64 L666.49,208.53 L667.29,208.42 L668.09,208.31 L668.89,208.2 L669.7,208.1 L670.5,207.99 L671.3,207.88" fill="none" stroke="#ff1a1a" stroke-width="1.3" stroke-linejoin="round" />
<path d="M505.7,332.81 L505.85,332.59 L506,332.35 L506.15,332.11 L506.31,331.85 L506.46,331.57 L506.61,331.29 L506.76,331 L506.91,330.69 L507.06,330.38 L507.21,330.04 L507.37,329.7 L507.52,329.34 L507.67,328.96 L507.82,328.57 L507.97,328.16 L508.12,327.74 L508.27,327.29 L508.43,326.81 L508.58,326.3 L508.73,325.78 L508.88,325.23 L509.03,324.67 L509.18,324.1 L509.33,323.52 L509.49,322.94 L509.64,322.35 L509.79,321.72 L509.94,321.06 L510.09,320.34 L510.24,319.54 L510.39,318.65 L510.55,317.67 L510.7,316.63 L510.85,315.57 L511,314.44 L511.15,313.09 L511.3,311.28 L511.45,308.74 L511.61,305.69" fill="none" stroke="#1a1aff" stroke-width="1.3" stroke-linejoin="round" />
<line x1="512.61" y1="199.8" x2="512.61" y2="333.6" stroke="#ff10ff" stroke-width="1.3" stroke-dasharray="4 1.4 1 1.4"/>
<line x1="510.6" y1="319.3" x2="544" y2="319.3" stroke="#1a1aff" stroke-width="1.4" />
<polygon points="543.0,316.0 552.5,319.3 543.0,322.6" fill="#1a1aff"/>
<text x="515" y="310.7" font-size="5.8" text-anchor="start" font-weight="bold" fill="#1a1aff" stroke="#1a1aff" stroke-width="0.16" textLength="25.1" lengthAdjust="spacingAndGlyphs" >1.07 MPa</text>
<line x1="505.7" y1="334.2" x2="505.7" y2="331.3" stroke="#111" stroke-width="0.95" />
<line x1="505.7" y1="199.2" x2="505.7" y2="202.1" stroke="#111" stroke-width="0.95" />
<line x1="516.74" y1="334.2" x2="516.74" y2="331.3" stroke="#111" stroke-width="0.95" />
<line x1="516.74" y1="199.2" x2="516.74" y2="202.1" stroke="#111" stroke-width="0.95" />
<line x1="527.78" y1="334.2" x2="527.78" y2="331.3" stroke="#111" stroke-width="0.95" />
<line x1="527.78" y1="199.2" x2="527.78" y2="202.1" stroke="#111" stroke-width="0.95" />
<line x1="538.82" y1="334.2" x2="538.82" y2="331.3" stroke="#111" stroke-width="0.95" />
<line x1="538.82" y1="199.2" x2="538.82" y2="202.1" stroke="#111" stroke-width="0.95" />
<line x1="549.86" y1="334.2" x2="549.86" y2="331.3" stroke="#111" stroke-width="0.95" />
<line x1="549.86" y1="199.2" x2="549.86" y2="202.1" stroke="#111" stroke-width="0.95" />
<line x1="560.9" y1="334.2" x2="560.9" y2="331.3" stroke="#111" stroke-width="0.95" />
<line x1="560.9" y1="199.2" x2="560.9" y2="202.1" stroke="#111" stroke-width="0.95" />
<line x1="571.94" y1="334.2" x2="571.94" y2="331.3" stroke="#111" stroke-width="0.95" />
<line x1="571.94" y1="199.2" x2="571.94" y2="202.1" stroke="#111" stroke-width="0.95" />
<line x1="582.98" y1="334.2" x2="582.98" y2="331.3" stroke="#111" stroke-width="0.95" />
<line x1="582.98" y1="199.2" x2="582.98" y2="202.1" stroke="#111" stroke-width="0.95" />
<line x1="594.02" y1="334.2" x2="594.02" y2="331.3" stroke="#111" stroke-width="0.95" />
<line x1="594.02" y1="199.2" x2="594.02" y2="202.1" stroke="#111" stroke-width="0.95" />
<line x1="605.06" y1="334.2" x2="605.06" y2="331.3" stroke="#111" stroke-width="0.95" />
<line x1="605.06" y1="199.2" x2="605.06" y2="202.1" stroke="#111" stroke-width="0.95" />
<line x1="616.1" y1="334.2" x2="616.1" y2="331.3" stroke="#111" stroke-width="0.95" />
<line x1="616.1" y1="199.2" x2="616.1" y2="202.1" stroke="#111" stroke-width="0.95" />
<line x1="627.14" y1="334.2" x2="627.14" y2="331.3" stroke="#111" stroke-width="0.95" />
<line x1="627.14" y1="199.2" x2="627.14" y2="202.1" stroke="#111" stroke-width="0.95" />
<line x1="638.18" y1="334.2" x2="638.18" y2="331.3" stroke="#111" stroke-width="0.95" />
<line x1="638.18" y1="199.2" x2="638.18" y2="202.1" stroke="#111" stroke-width="0.95" />
<line x1="649.22" y1="334.2" x2="649.22" y2="331.3" stroke="#111" stroke-width="0.95" />
<line x1="649.22" y1="199.2" x2="649.22" y2="202.1" stroke="#111" stroke-width="0.95" />
<line x1="660.26" y1="334.2" x2="660.26" y2="331.3" stroke="#111" stroke-width="0.95" />
<line x1="660.26" y1="199.2" x2="660.26" y2="202.1" stroke="#111" stroke-width="0.95" />
<line x1="671.3" y1="334.2" x2="671.3" y2="331.3" stroke="#111" stroke-width="0.95" />
<line x1="671.3" y1="199.2" x2="671.3" y2="202.1" stroke="#111" stroke-width="0.95" />
<line x1="511.22" y1="334.2" x2="511.22" y2="332.3" stroke="#111" stroke-width="0.95" />
<line x1="511.22" y1="199.2" x2="511.22" y2="201.1" stroke="#111" stroke-width="0.95" />
<line x1="522.26" y1="334.2" x2="522.26" y2="332.3" stroke="#111" stroke-width="0.95" />
<line x1="522.26" y1="199.2" x2="522.26" y2="201.1" stroke="#111" stroke-width="0.95" />
<line x1="533.3" y1="334.2" x2="533.3" y2="332.3" stroke="#111" stroke-width="0.95" />
<line x1="533.3" y1="199.2" x2="533.3" y2="201.1" stroke="#111" stroke-width="0.95" />
<line x1="544.34" y1="334.2" x2="544.34" y2="332.3" stroke="#111" stroke-width="0.95" />
<line x1="544.34" y1="199.2" x2="544.34" y2="201.1" stroke="#111" stroke-width="0.95" />
<line x1="555.38" y1="334.2" x2="555.38" y2="332.3" stroke="#111" stroke-width="0.95" />
<line x1="555.38" y1="199.2" x2="555.38" y2="201.1" stroke="#111" stroke-width="0.95" />
<line x1="566.42" y1="334.2" x2="566.42" y2="332.3" stroke="#111" stroke-width="0.95" />
<line x1="566.42" y1="199.2" x2="566.42" y2="201.1" stroke="#111" stroke-width="0.95" />
<line x1="577.46" y1="334.2" x2="577.46" y2="332.3" stroke="#111" stroke-width="0.95" />
<line x1="577.46" y1="199.2" x2="577.46" y2="201.1" stroke="#111" stroke-width="0.95" />
<line x1="588.5" y1="334.2" x2="588.5" y2="332.3" stroke="#111" stroke-width="0.95" />
<line x1="588.5" y1="199.2" x2="588.5" y2="201.1" stroke="#111" stroke-width="0.95" />
<line x1="599.54" y1="334.2" x2="599.54" y2="332.3" stroke="#111" stroke-width="0.95" />
<line x1="599.54" y1="199.2" x2="599.54" y2="201.1" stroke="#111" stroke-width="0.95" />
<line x1="610.58" y1="334.2" x2="610.58" y2="332.3" stroke="#111" stroke-width="0.95" />
<line x1="610.58" y1="199.2" x2="610.58" y2="201.1" stroke="#111" stroke-width="0.95" />
<line x1="621.62" y1="334.2" x2="621.62" y2="332.3" stroke="#111" stroke-width="0.95" />
<line x1="621.62" y1="199.2" x2="621.62" y2="201.1" stroke="#111" stroke-width="0.95" />
<line x1="632.66" y1="334.2" x2="632.66" y2="332.3" stroke="#111" stroke-width="0.95" />
<line x1="632.66" y1="199.2" x2="632.66" y2="201.1" stroke="#111" stroke-width="0.95" />
<line x1="643.7" y1="334.2" x2="643.7" y2="332.3" stroke="#111" stroke-width="0.95" />
<line x1="643.7" y1="199.2" x2="643.7" y2="201.1" stroke="#111" stroke-width="0.95" />
<line x1="654.74" y1="334.2" x2="654.74" y2="332.3" stroke="#111" stroke-width="0.95" />
<line x1="654.74" y1="199.2" x2="654.74" y2="201.1" stroke="#111" stroke-width="0.95" />
<line x1="665.78" y1="334.2" x2="665.78" y2="332.3" stroke="#111" stroke-width="0.95" />
<line x1="665.78" y1="199.2" x2="665.78" y2="201.1" stroke="#111" stroke-width="0.95" />
<line x1="500.6" y1="334.1" x2="503.5" y2="334.1" stroke="#111" stroke-width="0.95" />
<line x1="676.4" y1="334.1" x2="673.5" y2="334.1" stroke="#111" stroke-width="0.95" />
<line x1="500.6" y1="323.34" x2="503.5" y2="323.34" stroke="#111" stroke-width="0.95" />
<line x1="676.4" y1="323.34" x2="673.5" y2="323.34" stroke="#111" stroke-width="0.95" />
<line x1="500.6" y1="312.58" x2="503.5" y2="312.58" stroke="#111" stroke-width="0.95" />
<line x1="676.4" y1="312.58" x2="673.5" y2="312.58" stroke="#111" stroke-width="0.95" />
<line x1="500.6" y1="301.82" x2="503.5" y2="301.82" stroke="#111" stroke-width="0.95" />
<line x1="676.4" y1="301.82" x2="673.5" y2="301.82" stroke="#111" stroke-width="0.95" />
<line x1="500.6" y1="291.06" x2="503.5" y2="291.06" stroke="#111" stroke-width="0.95" />
<line x1="676.4" y1="291.06" x2="673.5" y2="291.06" stroke="#111" stroke-width="0.95" />
<line x1="500.6" y1="280.3" x2="503.5" y2="280.3" stroke="#111" stroke-width="0.95" />
<line x1="676.4" y1="280.3" x2="673.5" y2="280.3" stroke="#111" stroke-width="0.95" />
<line x1="500.6" y1="269.54" x2="503.5" y2="269.54" stroke="#111" stroke-width="0.95" />
<line x1="676.4" y1="269.54" x2="673.5" y2="269.54" stroke="#111" stroke-width="0.95" />
<line x1="500.6" y1="258.78" x2="503.5" y2="258.78" stroke="#111" stroke-width="0.95" />
<line x1="676.4" y1="258.78" x2="673.5" y2="258.78" stroke="#111" stroke-width="0.95" />
<line x1="500.6" y1="248.02" x2="503.5" y2="248.02" stroke="#111" stroke-width="0.95" />
<line x1="676.4" y1="248.02" x2="673.5" y2="248.02" stroke="#111" stroke-width="0.95" />
<line x1="500.6" y1="237.26" x2="503.5" y2="237.26" stroke="#111" stroke-width="0.95" />
<line x1="676.4" y1="237.26" x2="673.5" y2="237.26" stroke="#111" stroke-width="0.95" />
<line x1="500.6" y1="226.5" x2="503.5" y2="226.5" stroke="#111" stroke-width="0.95" />
<line x1="676.4" y1="226.5" x2="673.5" y2="226.5" stroke="#111" stroke-width="0.95" />
<line x1="500.6" y1="215.74" x2="503.5" y2="215.74" stroke="#111" stroke-width="0.95" />
<line x1="676.4" y1="215.74" x2="673.5" y2="215.74" stroke="#111" stroke-width="0.95" />
<line x1="500.6" y1="204.98" x2="503.5" y2="204.98" stroke="#111" stroke-width="0.95" />
<line x1="676.4" y1="204.98" x2="673.5" y2="204.98" stroke="#111" stroke-width="0.95" />
<line x1="500.6" y1="328.72" x2="502.5" y2="328.72" stroke="#111" stroke-width="0.95" />
<line x1="676.4" y1="328.72" x2="674.5" y2="328.72" stroke="#111" stroke-width="0.95" />
<line x1="500.6" y1="317.96" x2="502.5" y2="317.96" stroke="#111" stroke-width="0.95" />
<line x1="676.4" y1="317.96" x2="674.5" y2="317.96" stroke="#111" stroke-width="0.95" />
<line x1="500.6" y1="307.2" x2="502.5" y2="307.2" stroke="#111" stroke-width="0.95" />
<line x1="676.4" y1="307.2" x2="674.5" y2="307.2" stroke="#111" stroke-width="0.95" />
<line x1="500.6" y1="296.44" x2="502.5" y2="296.44" stroke="#111" stroke-width="0.95" />
<line x1="676.4" y1="296.44" x2="674.5" y2="296.44" stroke="#111" stroke-width="0.95" />
<line x1="500.6" y1="285.68" x2="502.5" y2="285.68" stroke="#111" stroke-width="0.95" />
<line x1="676.4" y1="285.68" x2="674.5" y2="285.68" stroke="#111" stroke-width="0.95" />
<line x1="500.6" y1="274.92" x2="502.5" y2="274.92" stroke="#111" stroke-width="0.95" />
<line x1="676.4" y1="274.92" x2="674.5" y2="274.92" stroke="#111" stroke-width="0.95" />
<line x1="500.6" y1="264.16" x2="502.5" y2="264.16" stroke="#111" stroke-width="0.95" />
<line x1="676.4" y1="264.16" x2="674.5" y2="264.16" stroke="#111" stroke-width="0.95" />
<line x1="500.6" y1="253.4" x2="502.5" y2="253.4" stroke="#111" stroke-width="0.95" />
<line x1="676.4" y1="253.4" x2="674.5" y2="253.4" stroke="#111" stroke-width="0.95" />
<line x1="500.6" y1="242.64" x2="502.5" y2="242.64" stroke="#111" stroke-width="0.95" />
<line x1="676.4" y1="242.64" x2="674.5" y2="242.64" stroke="#111" stroke-width="0.95" />
<line x1="500.6" y1="231.88" x2="502.5" y2="231.88" stroke="#111" stroke-width="0.95" />
<line x1="676.4" y1="231.88" x2="674.5" y2="231.88" stroke="#111" stroke-width="0.95" />
<line x1="500.6" y1="221.12" x2="502.5" y2="221.12" stroke="#111" stroke-width="0.95" />
<line x1="676.4" y1="221.12" x2="674.5" y2="221.12" stroke="#111" stroke-width="0.95" />
<line x1="500.6" y1="210.36" x2="502.5" y2="210.36" stroke="#111" stroke-width="0.95" />
<line x1="676.4" y1="210.36" x2="674.5" y2="210.36" stroke="#111" stroke-width="0.95" />
<line x1="500.6" y1="199.6" x2="502.5" y2="199.6" stroke="#111" stroke-width="0.95" />
<line x1="676.4" y1="199.6" x2="674.5" y2="199.6" stroke="#111" stroke-width="0.95" />
<rect x="500.6" y="199.2" width="175.8" height="135" fill="none" stroke="#111" stroke-width="1.2"/>
<text x="505.7" y="343.2" font-size="7.3" text-anchor="middle" font-weight="bold" fill="#000" stroke="#000" stroke-width="0.16" >0</text>
<text x="516.74" y="343.2" font-size="7.3" text-anchor="middle" font-weight="bold" fill="#000" stroke="#000" stroke-width="0.16" >2</text>
<text x="527.78" y="343.2" font-size="7.3" text-anchor="middle" font-weight="bold" fill="#000" stroke="#000" stroke-width="0.16" >4</text>
<text x="538.82" y="343.2" font-size="7.3" text-anchor="middle" font-weight="bold" fill="#000" stroke="#000" stroke-width="0.16" >6</text>
<text x="549.86" y="343.2" font-size="7.3" text-anchor="middle" font-weight="bold" fill="#000" stroke="#000" stroke-width="0.16" >8</text>
<text x="560.9" y="343.2" font-size="7.3" text-anchor="middle" font-weight="bold" fill="#000" stroke="#000" stroke-width="0.16" >10</text>
<text x="571.94" y="343.2" font-size="7.3" text-anchor="middle" font-weight="bold" fill="#000" stroke="#000" stroke-width="0.16" >12</text>
<text x="582.98" y="343.2" font-size="7.3" text-anchor="middle" font-weight="bold" fill="#000" stroke="#000" stroke-width="0.16" >14</text>
<text x="594.02" y="343.2" font-size="7.3" text-anchor="middle" font-weight="bold" fill="#000" stroke="#000" stroke-width="0.16" >16</text>
<text x="605.06" y="343.2" font-size="7.3" text-anchor="middle" font-weight="bold" fill="#000" stroke="#000" stroke-width="0.16" >18</text>
<text x="616.1" y="343.2" font-size="7.3" text-anchor="middle" font-weight="bold" fill="#000" stroke="#000" stroke-width="0.16" >20</text>
<text x="627.14" y="343.2" font-size="7.3" text-anchor="middle" font-weight="bold" fill="#000" stroke="#000" stroke-width="0.16" >22</text>
<text x="638.18" y="343.2" font-size="7.3" text-anchor="middle" font-weight="bold" fill="#000" stroke="#000" stroke-width="0.16" >24</text>
<text x="649.22" y="343.2" font-size="7.3" text-anchor="middle" font-weight="bold" fill="#000" stroke="#000" stroke-width="0.16" >26</text>
<text x="660.26" y="343.2" font-size="7.3" text-anchor="middle" font-weight="bold" fill="#000" stroke="#000" stroke-width="0.16" >28</text>
<text x="671.3" y="343.2" font-size="7.3" text-anchor="middle" font-weight="bold" fill="#000" stroke="#000" stroke-width="0.16" >30</text>
<text x="497.2" y="336.7" font-size="7.4" text-anchor="end" font-weight="bold" fill="#000" stroke="#000" stroke-width="0.16" >260</text>
<text x="497.2" y="325.94" font-size="7.4" text-anchor="end" font-weight="bold" fill="#000" stroke="#000" stroke-width="0.16" >270</text>
<text x="497.2" y="315.18" font-size="7.4" text-anchor="end" font-weight="bold" fill="#000" stroke="#000" stroke-width="0.16" >280</text>
<text x="497.2" y="304.42" font-size="7.4" text-anchor="end" font-weight="bold" fill="#000" stroke="#000" stroke-width="0.16" >290</text>
<text x="497.2" y="293.66" font-size="7.4" text-anchor="end" font-weight="bold" fill="#000" stroke="#000" stroke-width="0.16" >300</text>
<text x="497.2" y="282.9" font-size="7.4" text-anchor="end" font-weight="bold" fill="#000" stroke="#000" stroke-width="0.16" >310</text>
<text x="497.2" y="272.14" font-size="7.4" text-anchor="end" font-weight="bold" fill="#000" stroke="#000" stroke-width="0.16" >320</text>
<text x="497.2" y="261.38" font-size="7.4" text-anchor="end" font-weight="bold" fill="#000" stroke="#000" stroke-width="0.16" >330</text>
<text x="497.2" y="250.62" font-size="7.4" text-anchor="end" font-weight="bold" fill="#000" stroke="#000" stroke-width="0.16" >340</text>
<text x="497.2" y="239.86" font-size="7.4" text-anchor="end" font-weight="bold" fill="#000" stroke="#000" stroke-width="0.16" >350</text>
<text x="497.2" y="229.1" font-size="7.4" text-anchor="end" font-weight="bold" fill="#000" stroke="#000" stroke-width="0.16" >360</text>
<text x="497.2" y="218.34" font-size="7.4" text-anchor="end" font-weight="bold" fill="#000" stroke="#000" stroke-width="0.16" >370</text>
<text x="497.2" y="207.58" font-size="7.4" text-anchor="end" font-weight="bold" fill="#000" stroke="#000" stroke-width="0.16" >380</text>
<path d="M571,315.88 L572.65,315.52 L574.29,315.14 L575.94,314.75 L577.58,314.34 L579.23,313.92 L580.87,313.48 L582.52,313.03 L584.16,312.57 L585.81,312.1 L587.45,311.61 L589.1,311.11 L590.74,310.6 L592.39,310.08 L594.03,309.54 L595.68,308.98 L597.32,308.41 L598.97,307.81 L600.61,307.21 L602.26,306.58 L603.9,305.93 L605.55,305.27 L607.19,304.59 L608.84,303.89 L610.48,303.17 L612.13,302.41 L613.77,301.62 L615.42,300.8 L617.06,299.95 L618.71,299.08 L620.35,298.19 L622,297.28 L623.64,296.35 L625.29,295.41 L626.93,294.46 L628.58,293.5 L630.22,292.54 L631.87,291.57 L633.51,290.58 L635.16,289.56 L636.8,288.5 L638.45,287.39 L640.09,286.21 L641.74,284.94 L643.38,283.57 L645.03,282.1 L646.67,280.53 L648.32,278.89 L649.96,277.17 L651.61,275.38 L653.25,273.49 L654.9,271.49 L656.55,269.35 L658.19,267.07 L659.84,264.63 L661.48,262 L663.13,259.2 L664.77,256.24 L666.42,253.11 L668.06,249.84" fill="none" stroke="#1a1aff" stroke-width="1.0" stroke-linejoin="round" />
<line x1="571" y1="319" x2="571" y2="317.4" stroke="#111" stroke-width="0.7" />
<line x1="571" y1="240.6" x2="571" y2="242.2" stroke="#111" stroke-width="0.7" />
<line x1="588.52" y1="319" x2="588.52" y2="317.4" stroke="#111" stroke-width="0.7" />
<line x1="588.52" y1="240.6" x2="588.52" y2="242.2" stroke="#111" stroke-width="0.7" />
<line x1="606.04" y1="319" x2="606.04" y2="317.4" stroke="#111" stroke-width="0.7" />
<line x1="606.04" y1="240.6" x2="606.04" y2="242.2" stroke="#111" stroke-width="0.7" />
<line x1="623.56" y1="319" x2="623.56" y2="317.4" stroke="#111" stroke-width="0.7" />
<line x1="623.56" y1="240.6" x2="623.56" y2="242.2" stroke="#111" stroke-width="0.7" />
<line x1="641.08" y1="319" x2="641.08" y2="317.4" stroke="#111" stroke-width="0.7" />
<line x1="641.08" y1="240.6" x2="641.08" y2="242.2" stroke="#111" stroke-width="0.7" />
<line x1="658.6" y1="319" x2="658.6" y2="317.4" stroke="#111" stroke-width="0.7" />
<line x1="658.6" y1="240.6" x2="658.6" y2="242.2" stroke="#111" stroke-width="0.7" />
<line x1="579.76" y1="319" x2="579.76" y2="318" stroke="#111" stroke-width="0.7" />
<line x1="579.76" y1="240.6" x2="579.76" y2="241.6" stroke="#111" stroke-width="0.7" />
<line x1="597.28" y1="319" x2="597.28" y2="318" stroke="#111" stroke-width="0.7" />
<line x1="597.28" y1="240.6" x2="597.28" y2="241.6" stroke="#111" stroke-width="0.7" />
<line x1="614.8" y1="319" x2="614.8" y2="318" stroke="#111" stroke-width="0.7" />
<line x1="614.8" y1="240.6" x2="614.8" y2="241.6" stroke="#111" stroke-width="0.7" />
<line x1="632.32" y1="319" x2="632.32" y2="318" stroke="#111" stroke-width="0.7" />
<line x1="632.32" y1="240.6" x2="632.32" y2="241.6" stroke="#111" stroke-width="0.7" />
<line x1="649.84" y1="319" x2="649.84" y2="318" stroke="#111" stroke-width="0.7" />
<line x1="649.84" y1="240.6" x2="649.84" y2="241.6" stroke="#111" stroke-width="0.7" />
<line x1="667.36" y1="319" x2="667.36" y2="318" stroke="#111" stroke-width="0.7" />
<line x1="667.36" y1="240.6" x2="667.36" y2="241.6" stroke="#111" stroke-width="0.7" />
<line x1="566.6" y1="308.6" x2="568.2" y2="308.6" stroke="#111" stroke-width="0.7" />
<line x1="672.2" y1="308.6" x2="670.6" y2="308.6" stroke="#111" stroke-width="0.7" />
<line x1="566.6" y1="298.2" x2="568.2" y2="298.2" stroke="#111" stroke-width="0.7" />
<line x1="672.2" y1="298.2" x2="670.6" y2="298.2" stroke="#111" stroke-width="0.7" />
<line x1="566.6" y1="287.8" x2="568.2" y2="287.8" stroke="#111" stroke-width="0.7" />
<line x1="672.2" y1="287.8" x2="670.6" y2="287.8" stroke="#111" stroke-width="0.7" />
<line x1="566.6" y1="277.4" x2="568.2" y2="277.4" stroke="#111" stroke-width="0.7" />
<line x1="672.2" y1="277.4" x2="670.6" y2="277.4" stroke="#111" stroke-width="0.7" />
<line x1="566.6" y1="267" x2="568.2" y2="267" stroke="#111" stroke-width="0.7" />
<line x1="672.2" y1="267" x2="670.6" y2="267" stroke="#111" stroke-width="0.7" />
<line x1="566.6" y1="256.6" x2="568.2" y2="256.6" stroke="#111" stroke-width="0.7" />
<line x1="672.2" y1="256.6" x2="670.6" y2="256.6" stroke="#111" stroke-width="0.7" />
<line x1="566.6" y1="246.2" x2="568.2" y2="246.2" stroke="#111" stroke-width="0.7" />
<line x1="672.2" y1="246.2" x2="670.6" y2="246.2" stroke="#111" stroke-width="0.7" />
<line x1="566.6" y1="313.8" x2="567.6" y2="313.8" stroke="#111" stroke-width="0.7" />
<line x1="672.2" y1="313.8" x2="671.2" y2="313.8" stroke="#111" stroke-width="0.7" />
<line x1="566.6" y1="303.4" x2="567.6" y2="303.4" stroke="#111" stroke-width="0.7" />
<line x1="672.2" y1="303.4" x2="671.2" y2="303.4" stroke="#111" stroke-width="0.7" />
<line x1="566.6" y1="293" x2="567.6" y2="293" stroke="#111" stroke-width="0.7" />
<line x1="672.2" y1="293" x2="671.2" y2="293" stroke="#111" stroke-width="0.7" />
<line x1="566.6" y1="282.6" x2="567.6" y2="282.6" stroke="#111" stroke-width="0.7" />
<line x1="672.2" y1="282.6" x2="671.2" y2="282.6" stroke="#111" stroke-width="0.7" />
<line x1="566.6" y1="272.2" x2="567.6" y2="272.2" stroke="#111" stroke-width="0.7" />
<line x1="672.2" y1="272.2" x2="671.2" y2="272.2" stroke="#111" stroke-width="0.7" />
<line x1="566.6" y1="261.8" x2="567.6" y2="261.8" stroke="#111" stroke-width="0.7" />
<line x1="672.2" y1="261.8" x2="671.2" y2="261.8" stroke="#111" stroke-width="0.7" />
<line x1="566.6" y1="251.4" x2="567.6" y2="251.4" stroke="#111" stroke-width="0.7" />
<line x1="672.2" y1="251.4" x2="671.2" y2="251.4" stroke="#111" stroke-width="0.7" />
<line x1="566.6" y1="241" x2="567.6" y2="241" stroke="#111" stroke-width="0.7" />
<line x1="672.2" y1="241" x2="671.2" y2="241" stroke="#111" stroke-width="0.7" />
<rect x="566.6" y="240.6" width="105.6" height="78.4" fill="none" stroke="#111" stroke-width="1.1"/>
<text x="571" y="323.8" font-size="4.0" text-anchor="middle" font-weight="bold" fill="#000" stroke="#000" stroke-width="0.16" >0.0</text>
<text x="588.52" y="323.8" font-size="4.0" text-anchor="middle" font-weight="bold" fill="#000" stroke="#000" stroke-width="0.16" >0.2</text>
<text x="606.04" y="323.8" font-size="4.0" text-anchor="middle" font-weight="bold" fill="#000" stroke="#000" stroke-width="0.16" >0.4</text>
<text x="623.56" y="323.8" font-size="4.0" text-anchor="middle" font-weight="bold" fill="#000" stroke="#000" stroke-width="0.16" >0.6</text>
<text x="641.08" y="323.8" font-size="4.0" text-anchor="middle" font-weight="bold" fill="#000" stroke="#000" stroke-width="0.16" >0.8</text>
<text x="658.6" y="323.8" font-size="4.0" text-anchor="middle" font-weight="bold" fill="#000" stroke="#000" stroke-width="0.16" >1.0</text>
<text x="564.9" y="320.4" font-size="4.0" text-anchor="end" font-weight="bold" fill="#000" stroke="#000" stroke-width="0.16" >260</text>
<text x="564.9" y="310" font-size="4.0" text-anchor="end" font-weight="bold" fill="#000" stroke="#000" stroke-width="0.16" >264</text>
<text x="564.9" y="299.6" font-size="4.0" text-anchor="end" font-weight="bold" fill="#000" stroke="#000" stroke-width="0.16" >268</text>
<text x="564.9" y="289.2" font-size="4.0" text-anchor="end" font-weight="bold" fill="#000" stroke="#000" stroke-width="0.16" >272</text>
<text x="564.9" y="278.8" font-size="4.0" text-anchor="end" font-weight="bold" fill="#000" stroke="#000" stroke-width="0.16" >276</text>
<text x="564.9" y="268.4" font-size="4.0" text-anchor="end" font-weight="bold" fill="#000" stroke="#000" stroke-width="0.16" >280</text>
<text x="564.9" y="258" font-size="4.0" text-anchor="end" font-weight="bold" fill="#000" stroke="#000" stroke-width="0.16" >284</text>
<text x="564.9" y="247.6" font-size="4.0" text-anchor="end" font-weight="bold" fill="#000" stroke="#000" stroke-width="0.16" >288</text>
<text x="602.5" y="329.6" font-size="4.4" text-anchor="start" font-weight="bold" fill="#000" stroke="#000" stroke-width="0.16" textLength="32.4" lengthAdjust="spacingAndGlyphs" >Pressure (MPa)</text>
<text x="552.9" y="280" font-size="4.2" text-anchor="middle" font-weight="bold" fill="#000" stroke="#000" stroke-width="0.16" textLength="36" lengthAdjust="spacingAndGlyphs" transform="rotate(-90 552.9 280)" >Capacitance (pF)</text>
<rect x="631.3" y="308.1" width="38.3" height="6.3" fill="#fff" stroke="#444" stroke-width="0.6"/>
<line x1="632.3" y1="311.3" x2="643.1" y2="311.3" stroke="#1a1aff" stroke-width="0.9" />
<text x="646" y="312.8" font-size="4.0" text-anchor="start" font-weight="bold" fill="#1a1aff" stroke="#1a1aff" stroke-width="0.16" textLength="22" lengthAdjust="spacingAndGlyphs" >Uncollapsed</text>
<rect x="513.5" y="206.0" width="59.8" height="20.1" fill="#fff" stroke="#444" stroke-width="0.8"/>
<line x1="514.4" y1="211.4" x2="531.8" y2="211.4" stroke="#1a1aff" stroke-width="1.2" />
<line x1="514.4" y1="221" x2="531.8" y2="221" stroke="#ff5a5a" stroke-width="2.0" />
<text x="534.4" y="213.5" font-size="6.0" text-anchor="start" font-weight="bold" fill="#1a1aff" stroke="#1a1aff" stroke-width="0.16" textLength="34.4" lengthAdjust="spacingAndGlyphs" >Uncollapsed</text>
<text x="534.4" y="223.1" font-size="6.0" text-anchor="start" font-weight="bold" fill="#ff1a1a" stroke="#ff1a1a" stroke-width="0.16" textLength="28.3" lengthAdjust="spacingAndGlyphs" >Collapsed</text>
<text x="466.2" y="198.4" font-size="13.8" text-anchor="start" font-weight="bold" fill="#000" stroke="#000" stroke-width="0.16" >f</text>
<text x="477.6" y="266" font-size="7.2" text-anchor="middle" font-weight="bold" fill="#000" stroke="#000" stroke-width="0.16" textLength="59.5" lengthAdjust="spacingAndGlyphs" transform="rotate(-90 477.6 266)" >Capacitance (pF)</text>
<text x="561.7" y="353.5" font-size="7.2" text-anchor="start" font-weight="bold" fill="#000" stroke="#000" stroke-width="0.16" textLength="53.3" lengthAdjust="spacingAndGlyphs" >Pressure (MPa)</text>
<ellipse cx="109" cy="448" rx="82" ry="42.2" fill="#101040"/>
<ellipse cx="109" cy="447.4" rx="82" ry="42.2" fill="#2626a6"/>
<ellipse cx="109" cy="444.8" rx="82" ry="42.2" fill="#2a2aac"/>
<ellipse cx="109" cy="443.3" rx="82" ry="42.2" fill="url(#gg)" stroke="#000" stroke-width="0.6" stroke-opacity="0.9"/>
<rect x="197.2" y="411" width="11.8" height="92.4" fill="url(#cb197)" stroke="#333" stroke-width="0.6"/>
<line x1="197.2" y1="503.4" x2="198.8" y2="503.4" stroke="#111" stroke-width="0.7" />
<line x1="209" y1="503.4" x2="207.4" y2="503.4" stroke="#111" stroke-width="0.7" />
<text x="212.4" y="506.3" font-size="8.4" text-anchor="start" font-weight="normal" fill="#111" stroke="#111" stroke-width="0.18">0</text>
<line x1="197.2" y1="481.66" x2="198.8" y2="481.66" stroke="#111" stroke-width="0.7" />
<line x1="209" y1="481.66" x2="207.4" y2="481.66" stroke="#111" stroke-width="0.7" />
<text x="212.4" y="484.56" font-size="8.4" text-anchor="start" font-weight="normal" fill="#111" stroke="#111" stroke-width="0.18">4</text>
<line x1="197.2" y1="459.92" x2="198.8" y2="459.92" stroke="#111" stroke-width="0.7" />
<line x1="209" y1="459.92" x2="207.4" y2="459.92" stroke="#111" stroke-width="0.7" />
<text x="212.4" y="462.82" font-size="8.4" text-anchor="start" font-weight="normal" fill="#111" stroke="#111" stroke-width="0.18">8</text>
<line x1="197.2" y1="438.18" x2="198.8" y2="438.18" stroke="#111" stroke-width="0.7" />
<line x1="209" y1="438.18" x2="207.4" y2="438.18" stroke="#111" stroke-width="0.7" />
<text x="212.4" y="441.08" font-size="8.4" text-anchor="start" font-weight="normal" fill="#111" stroke="#111" stroke-width="0.18">12</text>
<line x1="197.2" y1="416.44" x2="198.8" y2="416.44" stroke="#111" stroke-width="0.7" />
<line x1="209" y1="416.44" x2="207.4" y2="416.44" stroke="#111" stroke-width="0.7" />
<text x="212.4" y="419.34" font-size="8.4" text-anchor="start" font-weight="normal" fill="#111" stroke="#111" stroke-width="0.18">16</text>
<line x1="197.2" y1="492.53" x2="198.2" y2="492.53" stroke="#111" stroke-width="0.6" />
<line x1="209" y1="492.53" x2="208" y2="492.53" stroke="#111" stroke-width="0.6" />
<line x1="197.2" y1="470.79" x2="198.2" y2="470.79" stroke="#111" stroke-width="0.6" />
<line x1="209" y1="470.79" x2="208" y2="470.79" stroke="#111" stroke-width="0.6" />
<line x1="197.2" y1="449.05" x2="198.2" y2="449.05" stroke="#111" stroke-width="0.6" />
<line x1="209" y1="449.05" x2="208" y2="449.05" stroke="#111" stroke-width="0.6" />
<line x1="197.2" y1="427.31" x2="198.2" y2="427.31" stroke="#111" stroke-width="0.6" />
<line x1="209" y1="427.31" x2="208" y2="427.31" stroke="#111" stroke-width="0.6" />
<text x="203.2" y="397.4" font-size="8.2" text-anchor="middle" font-weight="normal" fill="#111" textLength="11.4" lengthAdjust="spacingAndGlyphs" stroke="#111" stroke-width="0.15">nm</text>
<text x="203.7" y="407.6" font-size="8.4" text-anchor="middle" font-weight="normal" fill="#111" textLength="8.6" lengthAdjust="spacingAndGlyphs" stroke="#111" stroke-width="0.15">17</text>
<text x="0" y="383.2" font-size="13.8" text-anchor="start" font-weight="bold" fill="#000" stroke="#000" stroke-width="0.16" >g</text>
<line x1="30.1" y1="523.4" x2="30.1" y2="517" stroke="#5a8ad0" stroke-width="0.9" />
<polygon points="29.3,518.8 30.1,516.5 30.9,518.8" fill="#4a7ac8"/>
<line x1="30.1" y1="523.4" x2="37.1" y2="521.2" stroke="#e03a78" stroke-width="0.9" />
<polygon points="35.1,520.9 37.5,521 35.7,522.5" fill="#e02a68"/>
<line x1="30.1" y1="523.4" x2="25.5" y2="520.4" stroke="#50b050" stroke-width="0.9" />
<polygon points="26.9,520.3 25.2,520.1 26.2,521.5" fill="#40a040"/>
<text x="29.2" y="515.6" font-size="6.6" text-anchor="start" font-weight="normal" fill="#222" font-style="italic">z</text>
<text x="38.9" y="522" font-size="6.6" text-anchor="start" font-weight="normal" fill="#222" font-style="italic">x</text>
<text x="22.1" y="521" font-size="6.6" text-anchor="start" font-weight="normal" fill="#222" font-style="italic">y</text>
<ellipse cx="342" cy="450.6" rx="76.6" ry="38.6" fill="#d8a040"/>
<ellipse cx="342" cy="449.7" rx="76.6" ry="38.6" fill="#333333"/>
<ellipse cx="342" cy="449.1" rx="76.6" ry="38.6" fill="#50c0d0"/>
<ellipse cx="342" cy="448.4" rx="76.6" ry="38.6" fill="#e6e2a6"/>
<ellipse cx="342" cy="447.7" rx="76.6" ry="38.6" fill="#48b4d8"/>
<ellipse cx="342" cy="446.7" rx="76.6" ry="38.6" fill="#222222"/>
<ellipse cx="342" cy="446.2" rx="76.6" ry="38.6" fill="#700000"/>
<ellipse cx="342" cy="445.6" rx="76.6" ry="38.6" fill="url(#gh)" stroke="#000" stroke-width="0.6" stroke-opacity="0.9"/>
<rect x="428" y="415.4" width="11.5" height="88" fill="url(#cb428)" stroke="#333" stroke-width="0.6"/>
<line x1="428" y1="503.4" x2="429.6" y2="503.4" stroke="#111" stroke-width="0.7" />
<line x1="439.5" y1="503.4" x2="437.9" y2="503.4" stroke="#111" stroke-width="0.7" />
<text x="442.8" y="506.3" font-size="8.4" text-anchor="start" font-weight="normal" fill="#111" stroke="#111" stroke-width="0.18">0</text>
<line x1="428" y1="480.12" x2="429.6" y2="480.12" stroke="#111" stroke-width="0.7" />
<line x1="439.5" y1="480.12" x2="437.9" y2="480.12" stroke="#111" stroke-width="0.7" />
<text x="442.8" y="483.02" font-size="8.4" text-anchor="start" font-weight="normal" fill="#111" stroke="#111" stroke-width="0.18">0.5</text>
<line x1="428" y1="456.84" x2="429.6" y2="456.84" stroke="#111" stroke-width="0.7" />
<line x1="439.5" y1="456.84" x2="437.9" y2="456.84" stroke="#111" stroke-width="0.7" />
<text x="442.8" y="459.74" font-size="8.4" text-anchor="start" font-weight="normal" fill="#111" stroke="#111" stroke-width="0.18">1</text>
<line x1="428" y1="433.56" x2="429.6" y2="433.56" stroke="#111" stroke-width="0.7" />
<line x1="439.5" y1="433.56" x2="437.9" y2="433.56" stroke="#111" stroke-width="0.7" />
<text x="442.8" y="436.46" font-size="8.4" text-anchor="start" font-weight="normal" fill="#111" stroke="#111" stroke-width="0.18">1.5</text>
<line x1="428" y1="491.76" x2="429" y2="491.76" stroke="#111" stroke-width="0.6" />
<line x1="439.5" y1="491.76" x2="438.5" y2="491.76" stroke="#111" stroke-width="0.6" />
<line x1="428" y1="468.48" x2="429" y2="468.48" stroke="#111" stroke-width="0.6" />
<line x1="439.5" y1="468.48" x2="438.5" y2="468.48" stroke="#111" stroke-width="0.6" />
<line x1="428" y1="445.2" x2="429" y2="445.2" stroke="#111" stroke-width="0.6" />
<line x1="439.5" y1="445.2" x2="438.5" y2="445.2" stroke="#111" stroke-width="0.6" />
<line x1="428" y1="421.92" x2="429" y2="421.92" stroke="#111" stroke-width="0.6" />
<line x1="439.5" y1="421.92" x2="438.5" y2="421.92" stroke="#111" stroke-width="0.6" />
<text x="422.4" y="401.6" font-size="8.4" text-anchor="start" font-weight="normal" fill="#111" stroke="#111" stroke-width="0.15">N/m<tspan font-size="5.2" dy="-3.4">2</tspan></text>
<text x="414.5" y="411.6" font-size="8.4" text-anchor="start" font-weight="normal" fill="#111" stroke="#111" stroke-width="0.15">1.89×10<tspan font-size="5.2" dy="-3.4">7</tspan></text>
<text x="275" y="392" font-size="10.2" text-anchor="start" font-weight="normal" fill="#ff2020" textLength="38.6" lengthAdjust="spacingAndGlyphs" >0.5 MPa</text>
<text x="233.5" y="384.5" font-size="13.8" text-anchor="start" font-weight="bold" fill="#000" stroke="#000" stroke-width="0.16" >h</text>
<line x1="261.2" y1="523.6" x2="261.2" y2="517.2" stroke="#5a8ad0" stroke-width="0.9" />
<polygon points="260.4,519 261.2,516.7 262,519" fill="#4a7ac8"/>
<line x1="261.2" y1="523.6" x2="268.2" y2="521.4" stroke="#e03a78" stroke-width="0.9" />
<polygon points="266.2,521.1 268.6,521.2 266.8,522.7" fill="#e02a68"/>
<line x1="261.2" y1="523.6" x2="256.6" y2="520.6" stroke="#50b050" stroke-width="0.9" />
<polygon points="258,520.5 256.3,520.3 257.3,521.7" fill="#40a040"/>
<text x="260.3" y="515.8" font-size="6.6" text-anchor="start" font-weight="normal" fill="#222" font-style="italic">z</text>
<text x="270" y="522.2" font-size="6.6" text-anchor="start" font-weight="normal" fill="#222" font-style="italic">x</text>
<text x="253.2" y="521.2" font-size="6.6" text-anchor="start" font-weight="normal" fill="#222" font-style="italic">y</text>
<ellipse cx="575.4" cy="447.9" rx="78" ry="39.7" fill="#e09040"/>
<ellipse cx="575.4" cy="447.3" rx="78" ry="39.7" fill="#5a3a20"/>
<ellipse cx="575.4" cy="446.7" rx="78" ry="39.7" fill="#44c0e0"/>
<ellipse cx="575.4" cy="445.9" rx="78" ry="39.7" fill="#3050d0"/>
<ellipse cx="575.4" cy="445.1" rx="78" ry="39.7" fill="#44c0e0"/>
<ellipse cx="575.4" cy="444.4" rx="78" ry="39.7" fill="#222222"/>
<ellipse cx="575.4" cy="443.9" rx="78" ry="39.7" fill="#700000"/>
<ellipse cx="575.4" cy="443.3" rx="78" ry="39.7" fill="url(#gi)" stroke="#000" stroke-width="0.6" stroke-opacity="0.9"/>
<rect x="663.4" y="413" width="11.8" height="88.4" fill="url(#cb663)" stroke="#333" stroke-width="0.6"/>
<line x1="663.4" y1="501.4" x2="665" y2="501.4" stroke="#111" stroke-width="0.7" />
<line x1="675.2" y1="501.4" x2="673.6" y2="501.4" stroke="#111" stroke-width="0.7" />
<text x="678.4" y="504.3" font-size="8.4" text-anchor="start" font-weight="normal" fill="#111" stroke="#111" stroke-width="0.18">0</text>
<line x1="663.4" y1="482.61" x2="665" y2="482.61" stroke="#111" stroke-width="0.7" />
<line x1="675.2" y1="482.61" x2="673.6" y2="482.61" stroke="#111" stroke-width="0.7" />
<text x="678.4" y="485.51" font-size="8.4" text-anchor="start" font-weight="normal" fill="#111" stroke="#111" stroke-width="0.18">2</text>
<line x1="663.4" y1="463.82" x2="665" y2="463.82" stroke="#111" stroke-width="0.7" />
<line x1="675.2" y1="463.82" x2="673.6" y2="463.82" stroke="#111" stroke-width="0.7" />
<text x="678.4" y="466.72" font-size="8.4" text-anchor="start" font-weight="normal" fill="#111" stroke="#111" stroke-width="0.18">4</text>
<line x1="663.4" y1="445.03" x2="665" y2="445.03" stroke="#111" stroke-width="0.7" />
<line x1="675.2" y1="445.03" x2="673.6" y2="445.03" stroke="#111" stroke-width="0.7" />
<text x="678.4" y="447.93" font-size="8.4" text-anchor="start" font-weight="normal" fill="#111" stroke="#111" stroke-width="0.18">6</text>
<line x1="663.4" y1="426.25" x2="665" y2="426.25" stroke="#111" stroke-width="0.7" />
<line x1="675.2" y1="426.25" x2="673.6" y2="426.25" stroke="#111" stroke-width="0.7" />
<text x="678.4" y="429.15" font-size="8.4" text-anchor="start" font-weight="normal" fill="#111" stroke="#111" stroke-width="0.18">8</text>
<line x1="663.4" y1="492.01" x2="664.4" y2="492.01" stroke="#111" stroke-width="0.6" />
<line x1="675.2" y1="492.01" x2="674.2" y2="492.01" stroke="#111" stroke-width="0.6" />
<line x1="663.4" y1="473.22" x2="664.4" y2="473.22" stroke="#111" stroke-width="0.6" />
<line x1="675.2" y1="473.22" x2="674.2" y2="473.22" stroke="#111" stroke-width="0.6" />
<line x1="663.4" y1="454.43" x2="664.4" y2="454.43" stroke="#111" stroke-width="0.6" />
<line x1="675.2" y1="454.43" x2="674.2" y2="454.43" stroke="#111" stroke-width="0.6" />
<line x1="663.4" y1="435.64" x2="664.4" y2="435.64" stroke="#111" stroke-width="0.6" />
<line x1="675.2" y1="435.64" x2="674.2" y2="435.64" stroke="#111" stroke-width="0.6" />
<line x1="663.4" y1="416.85" x2="664.4" y2="416.85" stroke="#111" stroke-width="0.6" />
<line x1="675.2" y1="416.85" x2="674.2" y2="416.85" stroke="#111" stroke-width="0.6" />
<text x="658.6" y="396" font-size="8.4" text-anchor="start" font-weight="normal" fill="#111" stroke="#111" stroke-width="0.15">N/m<tspan font-size="5.2" dy="-3.4">2</tspan></text>
<text x="649.8" y="408" font-size="8.4" text-anchor="start" font-weight="normal" fill="#111" stroke="#111" stroke-width="0.15">9.41×10<tspan font-size="5.2" dy="-3.4">8</tspan></text>
<text x="506" y="392.8" font-size="10.2" text-anchor="start" font-weight="normal" fill="#ff2020" textLength="37" lengthAdjust="spacingAndGlyphs" >20 MPa</text>
<text x="466.8" y="384.5" font-size="13.8" text-anchor="start" font-weight="bold" fill="#000" stroke="#000" stroke-width="0.16" >i</text>
<line x1="496.8" y1="520.6" x2="496.8" y2="514.2" stroke="#5a8ad0" stroke-width="0.9" />
<polygon points="496,516 496.8,513.7 497.6,516" fill="#4a7ac8"/>
<line x1="496.8" y1="520.6" x2="503.8" y2="518.4" stroke="#e03a78" stroke-width="0.9" />
<polygon points="501.8,518.1 504.2,518.2 502.4,519.7" fill="#e02a68"/>
<line x1="496.8" y1="520.6" x2="492.2" y2="517.6" stroke="#50b050" stroke-width="0.9" />
<polygon points="493.6,517.5 491.9,517.3 492.9,518.7" fill="#40a040"/>
<text x="495.9" y="512.8" font-size="6.6" text-anchor="start" font-weight="normal" fill="#222" font-style="italic">z</text>
<text x="505.6" y="519.2" font-size="6.6" text-anchor="start" font-weight="normal" fill="#222" font-style="italic">x</text>
<text x="488.8" y="518.2" font-size="6.6" text-anchor="start" font-weight="normal" fill="#222" font-style="italic">y</text>
<defs><radialGradient id="gg" cx="0.5" cy="0.5" r="0.5" fx="0.51" fy="0.49"><stop offset="0.0000" stop-color="#690000"/><stop offset="0.0125" stop-color="#690000"/><stop offset="0.0250" stop-color="#6a0000"/><stop offset="0.0375" stop-color="#6b0000"/><stop offset="0.0500" stop-color="#6c0000"/><stop offset="0.0625" stop-color="#6e0000"/><stop offset="0.0750" stop-color="#700000"/><stop offset="0.0875" stop-color="#720000"/><stop offset="0.1000" stop-color="#750000"/><stop offset="0.1125" stop-color="#780000"/><stop offset="0.1250" stop-color="#7c0000"/><stop offset="0.1375" stop-color="#7f0000"/><stop offset="0.1500" stop-color="#840000"/><stop offset="0.1625" stop-color="#880100"/><stop offset="0.1750" stop-color="#8d0300"/><stop offset="0.1875" stop-color="#920500"/><stop offset="0.2000" stop-color="#980700"/><stop offset="0.2125" stop-color="#9d0a00"/><stop offset="0.2250" stop-color="#a30c00"/><stop offset="0.2375" stop-color="#aa0f00"/><stop offset="0.2500" stop-color="#af1400"/><stop offset="0.2625" stop-color="#b41900"/><stop offset="0.2750" stop-color="#b91e00"/><stop offset="0.2875" stop-color="#bf2400"/><stop offset="0.3000" stop-color="#c52a00"/><stop offset="0.3125" stop-color="#c93200"/><stop offset="0.3250" stop-color="#cb3f00"/><stop offset="0.3375" stop-color="#ce4d00"/><stop offset="0.3500" stop-color="#d05b00"/><stop offset="0.3625" stop-color="#d26900"/><stop offset="0.3750" stop-color="#d07600"/><stop offset="0.3875" stop-color="#cf8300"/><stop offset="0.4000" stop-color="#cd9100"/><stop offset="0.4125" stop-color="#cb9e02"/><stop offset="0.4250" stop-color="#c8a905"/><stop offset="0.4375" stop-color="#c5b508"/><stop offset="0.4500" stop-color="#c0bf0d"/><stop offset="0.4625" stop-color="#b2c219"/><stop offset="0.4750" stop-color="#a5c525"/><stop offset="0.4875" stop-color="#97c831"/><stop offset="0.5000" stop-color="#86c848"/><stop offset="0.5125" stop-color="#75c85f"/><stop offset="0.5250" stop-color="#63c877"/><stop offset="0.5375" stop-color="#57c689"/><stop offset="0.5500" stop-color="#4cc39a"/><stop offset="0.5625" stop-color="#41c0aa"/><stop offset="0.5750" stop-color="#37bdba"/><stop offset="0.5875" stop-color="#34b5bf"/><stop offset="0.6000" stop-color="#31adc5"/><stop offset="0.6125" stop-color="#2ea4ca"/><stop offset="0.6250" stop-color="#2d9bce"/><stop offset="0.6375" stop-color="#2c8fcf"/><stop offset="0.6500" stop-color="#2b83d1"/><stop offset="0.6625" stop-color="#2b77d3"/><stop offset="0.6750" stop-color="#2a6cd4"/><stop offset="0.6875" stop-color="#2a64d1"/><stop offset="0.7000" stop-color="#295ccf"/><stop offset="0.7125" stop-color="#2954cd"/><stop offset="0.7250" stop-color="#294ccb"/><stop offset="0.7375" stop-color="#2845c9"/><stop offset="0.7500" stop-color="#273fc5"/><stop offset="0.7625" stop-color="#263abe"/><stop offset="0.7750" stop-color="#2535b8"/><stop offset="0.7875" stop-color="#2431b2"/><stop offset="0.8000" stop-color="#222dac"/><stop offset="0.8125" stop-color="#2128a6"/><stop offset="0.8250" stop-color="#2025a1"/><stop offset="0.8375" stop-color="#1f2399"/><stop offset="0.8500" stop-color="#1e2192"/><stop offset="0.8625" stop-color="#1d208b"/><stop offset="0.8750" stop-color="#1c1f85"/><stop offset="0.8875" stop-color="#1c1d7f"/><stop offset="0.9000" stop-color="#1b1c7a"/><stop offset="0.9125" stop-color="#1a1b75"/><stop offset="0.9250" stop-color="#1a1b71"/><stop offset="0.9375" stop-color="#191a6d"/><stop offset="0.9500" stop-color="#19196a"/><stop offset="0.9625" stop-color="#181967"/><stop offset="0.9750" stop-color="#181865"/><stop offset="0.9875" stop-color="#181864"/><stop offset="1.0000" stop-color="#181864"/></radialGradient><linearGradient id="cb197" x1="0" y1="0" x2="0" y2="1"><stop offset="0.0000" stop-color="#6e0000"/><stop offset="0.0167" stop-color="#7b0000"/><stop offset="0.0333" stop-color="#890000"/><stop offset="0.0500" stop-color="#960000"/><stop offset="0.0667" stop-color="#a40500"/><stop offset="0.0833" stop-color="#b10a00"/><stop offset="0.1000" stop-color="#bf1000"/><stop offset="0.1167" stop-color="#cc1500"/><stop offset="0.1333" stop-color="#d81c00"/><stop offset="0.1500" stop-color="#dd2900"/><stop offset="0.1667" stop-color="#e13600"/><stop offset="0.1833" stop-color="#e64300"/><stop offset="0.2000" stop-color="#eb5000"/><stop offset="0.2167" stop-color="#ee6300"/><stop offset="0.2333" stop-color="#f17700"/><stop offset="0.2500" stop-color="#f38a00"/><stop offset="0.2667" stop-color="#f49b01"/><stop offset="0.2833" stop-color="#f3a905"/><stop offset="0.3000" stop-color="#f1b608"/><stop offset="0.3167" stop-color="#efc30b"/><stop offset="0.3333" stop-color="#eed10f"/><stop offset="0.3500" stop-color="#ecde12"/><stop offset="0.3667" stop-color="#e5e618"/><stop offset="0.3833" stop-color="#d5e421"/><stop offset="0.4000" stop-color="#c6e32b"/><stop offset="0.4167" stop-color="#b6e234"/><stop offset="0.4333" stop-color="#a6e13f"/><stop offset="0.4500" stop-color="#94e150"/><stop offset="0.4667" stop-color="#81e161"/><stop offset="0.4833" stop-color="#6ee171"/><stop offset="0.5000" stop-color="#5be182"/><stop offset="0.5167" stop-color="#4fe192"/><stop offset="0.5333" stop-color="#4be0a1"/><stop offset="0.5500" stop-color="#47dfb0"/><stop offset="0.5667" stop-color="#43debe"/><stop offset="0.5833" stop-color="#40ddcd"/><stop offset="0.6000" stop-color="#3cdcdc"/><stop offset="0.6167" stop-color="#3ad1e0"/><stop offset="0.6333" stop-color="#38c6e3"/><stop offset="0.6500" stop-color="#36bbe7"/><stop offset="0.6667" stop-color="#35b0eb"/><stop offset="0.6833" stop-color="#33a4ef"/><stop offset="0.7000" stop-color="#3299ee"/><stop offset="0.7167" stop-color="#318cec"/><stop offset="0.7333" stop-color="#3080ea"/><stop offset="0.7500" stop-color="#2f73e7"/><stop offset="0.7667" stop-color="#2e66e4"/><stop offset="0.7833" stop-color="#2d5ae2"/><stop offset="0.8000" stop-color="#2c50de"/><stop offset="0.8167" stop-color="#2c49d8"/><stop offset="0.8333" stop-color="#2b41d2"/><stop offset="0.8500" stop-color="#2a3acc"/><stop offset="0.8667" stop-color="#2932c6"/><stop offset="0.8833" stop-color="#282bc0"/><stop offset="0.9000" stop-color="#2727b9"/><stop offset="0.9167" stop-color="#2626b2"/><stop offset="0.9333" stop-color="#2424aa"/><stop offset="0.9500" stop-color="#2323a3"/><stop offset="0.9667" stop-color="#21219b"/><stop offset="0.9833" stop-color="#202094"/><stop offset="1.0000" stop-color="#1e1e8c"/></linearGradient><radialGradient id="gh" cx="0.5" cy="0.5" r="0.5" fx="0.5" fy="0.485"><stop offset="0.0000" stop-color="#cf8500"/><stop offset="0.0050" stop-color="#cf8600"/><stop offset="0.0100" stop-color="#cf8700"/><stop offset="0.0150" stop-color="#ce8700"/><stop offset="0.0200" stop-color="#ce8800"/><stop offset="0.0250" stop-color="#ce8900"/><stop offset="0.0300" stop-color="#ce8a00"/><stop offset="0.0350" stop-color="#ce8a00"/><stop offset="0.0400" stop-color="#ce8b00"/><stop offset="0.0450" stop-color="#ce8c00"/><stop offset="0.0500" stop-color="#ce8c00"/><stop offset="0.0550" stop-color="#ce8d00"/><stop offset="0.0600" stop-color="#ce8e00"/><stop offset="0.0650" stop-color="#ce8e00"/><stop offset="0.0700" stop-color="#ce8f00"/><stop offset="0.0750" stop-color="#ce9000"/><stop offset="0.0800" stop-color="#ce9000"/><stop offset="0.0850" stop-color="#cd9100"/><stop offset="0.0900" stop-color="#cd9200"/><stop offset="0.0950" stop-color="#cd9300"/><stop offset="0.1000" stop-color="#cd9300"/><stop offset="0.1050" stop-color="#cd9400"/><stop offset="0.1100" stop-color="#cd9500"/><stop offset="0.1150" stop-color="#cd9500"/><stop offset="0.1200" stop-color="#cd9600"/><stop offset="0.1250" stop-color="#cc9801"/><stop offset="0.1300" stop-color="#cc9a01"/><stop offset="0.1350" stop-color="#cb9c02"/><stop offset="0.1400" stop-color="#cb9e02"/><stop offset="0.1450" stop-color="#caa003"/><stop offset="0.1500" stop-color="#caa203"/><stop offset="0.1550" stop-color="#c9a504"/><stop offset="0.1600" stop-color="#c9a704"/><stop offset="0.1650" stop-color="#c8a905"/><stop offset="0.1700" stop-color="#c8ab05"/><stop offset="0.1750" stop-color="#c7ad06"/><stop offset="0.1800" stop-color="#c7af06"/><stop offset="0.1850" stop-color="#c6b107"/><stop offset="0.1900" stop-color="#c6b307"/><stop offset="0.1950" stop-color="#c5b508"/><stop offset="0.2000" stop-color="#c5b708"/><stop offset="0.2050" stop-color="#c4b909"/><stop offset="0.2100" stop-color="#c4bb09"/><stop offset="0.2150" stop-color="#c3bd0a"/><stop offset="0.2200" stop-color="#c2be0b"/><stop offset="0.2250" stop-color="#bfbf0d"/><stop offset="0.2300" stop-color="#bdbf0f"/><stop offset="0.2350" stop-color="#bbc011"/><stop offset="0.2400" stop-color="#b8c013"/><stop offset="0.2450" stop-color="#b6c115"/><stop offset="0.2500" stop-color="#b4c117"/><stop offset="0.2550" stop-color="#b2c219"/><stop offset="0.2600" stop-color="#b0c21b"/><stop offset="0.2650" stop-color="#adc31d"/><stop offset="0.2700" stop-color="#abc31f"/><stop offset="0.2750" stop-color="#a9c421"/><stop offset="0.2800" stop-color="#a6c423"/><stop offset="0.2850" stop-color="#a4c525"/><stop offset="0.2900" stop-color="#a2c527"/><stop offset="0.2950" stop-color="#a0c629"/><stop offset="0.3000" stop-color="#9ec62b"/><stop offset="0.3050" stop-color="#9cc72d"/><stop offset="0.3100" stop-color="#9ac72f"/><stop offset="0.3150" stop-color="#98c830"/><stop offset="0.3200" stop-color="#96c832"/><stop offset="0.3250" stop-color="#94c835"/><stop offset="0.3300" stop-color="#91c838"/><stop offset="0.3350" stop-color="#8fc83b"/><stop offset="0.3400" stop-color="#8dc83f"/><stop offset="0.3450" stop-color="#8bc842"/><stop offset="0.3500" stop-color="#88c845"/><stop offset="0.3550" stop-color="#86c848"/><stop offset="0.3600" stop-color="#84c84b"/><stop offset="0.3650" stop-color="#81c84e"/><stop offset="0.3700" stop-color="#7fc851"/><stop offset="0.3750" stop-color="#7dc854"/><stop offset="0.3800" stop-color="#7bc857"/><stop offset="0.3850" stop-color="#78c85b"/><stop offset="0.3900" stop-color="#76c85e"/><stop offset="0.3950" stop-color="#74c861"/><stop offset="0.4000" stop-color="#71c864"/><stop offset="0.4050" stop-color="#6fc867"/><stop offset="0.4100" stop-color="#6dc86a"/><stop offset="0.4150" stop-color="#68c870"/><stop offset="0.4200" stop-color="#64c876"/><stop offset="0.4250" stop-color="#60c87c"/><stop offset="0.4300" stop-color="#5dc780"/><stop offset="0.4350" stop-color="#5ac784"/><stop offset="0.4400" stop-color="#58c688"/><stop offset="0.4450" stop-color="#55c68c"/><stop offset="0.4500" stop-color="#52c590"/><stop offset="0.4550" stop-color="#50c494"/><stop offset="0.4600" stop-color="#4dc498"/><stop offset="0.4650" stop-color="#4ac39c"/><stop offset="0.4700" stop-color="#48c2a0"/><stop offset="0.4750" stop-color="#45c2a4"/><stop offset="0.4800" stop-color="#42c1a8"/><stop offset="0.4850" stop-color="#40c0ab"/><stop offset="0.4900" stop-color="#3ec0ae"/><stop offset="0.4950" stop-color="#3cbfb2"/><stop offset="0.5000" stop-color="#3abfb5"/><stop offset="0.5050" stop-color="#37beb8"/><stop offset="0.5100" stop-color="#37bdba"/><stop offset="0.5150" stop-color="#36bbbb"/><stop offset="0.5200" stop-color="#35b9bc"/><stop offset="0.5250" stop-color="#35b8bd"/><stop offset="0.5300" stop-color="#34b6be"/><stop offset="0.5350" stop-color="#34b4bf"/><stop offset="0.5400" stop-color="#33b3c0"/><stop offset="0.5450" stop-color="#33b1c2"/><stop offset="0.5500" stop-color="#32b0c3"/><stop offset="0.5550" stop-color="#32aec4"/><stop offset="0.5600" stop-color="#31adc5"/><stop offset="0.5650" stop-color="#31abc6"/><stop offset="0.5700" stop-color="#30aac7"/><stop offset="0.5750" stop-color="#30a8c8"/><stop offset="0.5800" stop-color="#2fa7c8"/><stop offset="0.5850" stop-color="#2fa5c9"/><stop offset="0.5900" stop-color="#2ea4ca"/><stop offset="0.5950" stop-color="#2ea2cb"/><stop offset="0.6000" stop-color="#2da1cc"/><stop offset="0.6050" stop-color="#2d9fcd"/><stop offset="0.6100" stop-color="#2d9dcd"/><stop offset="0.6150" stop-color="#2d9ecd"/><stop offset="0.6200" stop-color="#2da0cd"/><stop offset="0.6250" stop-color="#2da1cc"/><stop offset="0.6300" stop-color="#2ea2cc"/><stop offset="0.6350" stop-color="#2ea3cb"/><stop offset="0.6400" stop-color="#2ea4ca"/><stop offset="0.6450" stop-color="#30a8c8"/><stop offset="0.6500" stop-color="#31acc5"/><stop offset="0.6550" stop-color="#32afc3"/><stop offset="0.6600" stop-color="#33b3c0"/><stop offset="0.6650" stop-color="#35b7be"/><stop offset="0.6700" stop-color="#36babb"/><stop offset="0.6750" stop-color="#37beb9"/><stop offset="0.6800" stop-color="#3abfb5"/><stop offset="0.6850" stop-color="#3dbfb0"/><stop offset="0.6900" stop-color="#40c0ac"/><stop offset="0.6950" stop-color="#42c1a8"/><stop offset="0.7000" stop-color="#45c2a4"/><stop offset="0.7050" stop-color="#48c29f"/><stop offset="0.7100" stop-color="#4bc39b"/><stop offset="0.7150" stop-color="#4ec497"/><stop offset="0.7200" stop-color="#51c492"/><stop offset="0.7250" stop-color="#54c58e"/><stop offset="0.7300" stop-color="#56c68a"/><stop offset="0.7350" stop-color="#59c786"/><stop offset="0.7400" stop-color="#5cc782"/><stop offset="0.7450" stop-color="#5ec87e"/><stop offset="0.7500" stop-color="#61c87a"/><stop offset="0.7550" stop-color="#65c874"/><stop offset="0.7600" stop-color="#69c86f"/><stop offset="0.7650" stop-color="#6dc86a"/><stop offset="0.7700" stop-color="#71c864"/><stop offset="0.7750" stop-color="#75c85f"/><stop offset="0.7800" stop-color="#79c85a"/><stop offset="0.7850" stop-color="#7dc855"/><stop offset="0.7900" stop-color="#80c84f"/><stop offset="0.7950" stop-color="#84c84a"/><stop offset="0.8000" stop-color="#88c845"/><stop offset="0.8050" stop-color="#90c83b"/><stop offset="0.8100" stop-color="#97c831"/><stop offset="0.8150" stop-color="#9dc72c"/><stop offset="0.8200" stop-color="#a3c527"/><stop offset="0.8250" stop-color="#a9c421"/><stop offset="0.8300" stop-color="#afc31c"/><stop offset="0.8350" stop-color="#b5c117"/><stop offset="0.8400" stop-color="#bbc011"/><stop offset="0.8450" stop-color="#c1be0c"/><stop offset="0.8500" stop-color="#c4bb09"/><stop offset="0.8550" stop-color="#c6b107"/><stop offset="0.8600" stop-color="#c9a704"/><stop offset="0.8650" stop-color="#cb9d02"/><stop offset="0.8700" stop-color="#cd9200"/><stop offset="0.8750" stop-color="#cf8500"/><stop offset="0.8800" stop-color="#d07900"/><stop offset="0.8850" stop-color="#d16c00"/><stop offset="0.8900" stop-color="#d15d00"/><stop offset="0.8950" stop-color="#ce4c00"/><stop offset="0.9000" stop-color="#cb3c00"/><stop offset="0.9050" stop-color="#c72c00"/><stop offset="0.9100" stop-color="#bf2400"/><stop offset="0.9150" stop-color="#b71c00"/><stop offset="0.9200" stop-color="#ae1300"/><stop offset="0.9250" stop-color="#a40c00"/><stop offset="0.9300" stop-color="#980700"/><stop offset="0.9350" stop-color="#8e0300"/><stop offset="0.9400" stop-color="#830000"/><stop offset="0.9450" stop-color="#780000"/><stop offset="0.9500" stop-color="#7d0000"/><stop offset="0.9550" stop-color="#820000"/><stop offset="0.9600" stop-color="#870000"/><stop offset="0.9650" stop-color="#950600"/><stop offset="0.9700" stop-color="#a20c00"/><stop offset="0.9750" stop-color="#ae1300"/><stop offset="0.9800" stop-color="#b21700"/><stop offset="0.9850" stop-color="#b51a00"/><stop offset="0.9900" stop-color="#b91e00"/><stop offset="0.9950" stop-color="#bc2100"/><stop offset="1.0000" stop-color="#bf2400"/></radialGradient><linearGradient id="cb428" x1="0" y1="0" x2="0" y2="1"><stop offset="0.0000" stop-color="#6e0000"/><stop offset="0.0167" stop-color="#7b0000"/><stop offset="0.0333" stop-color="#890000"/><stop offset="0.0500" stop-color="#960000"/><stop offset="0.0667" stop-color="#a40500"/><stop offset="0.0833" stop-color="#b10a00"/><stop offset="0.1000" stop-color="#bf1000"/><stop offset="0.1167" stop-color="#cc1500"/><stop offset="0.1333" stop-color="#d81c00"/><stop offset="0.1500" stop-color="#dd2900"/><stop offset="0.1667" stop-color="#e13600"/><stop offset="0.1833" stop-color="#e64300"/><stop offset="0.2000" stop-color="#eb5000"/><stop offset="0.2167" stop-color="#ee6300"/><stop offset="0.2333" stop-color="#f17700"/><stop offset="0.2500" stop-color="#f38a00"/><stop offset="0.2667" stop-color="#f49b01"/><stop offset="0.2833" stop-color="#f3a905"/><stop offset="0.3000" stop-color="#f1b608"/><stop offset="0.3167" stop-color="#efc30b"/><stop offset="0.3333" stop-color="#eed10f"/><stop offset="0.3500" stop-color="#ecde12"/><stop offset="0.3667" stop-color="#e5e618"/><stop offset="0.3833" stop-color="#d5e421"/><stop offset="0.4000" stop-color="#c6e32b"/><stop offset="0.4167" stop-color="#b6e234"/><stop offset="0.4333" stop-color="#a6e13f"/><stop offset="0.4500" stop-color="#94e150"/><stop offset="0.4667" stop-color="#81e161"/><stop offset="0.4833" stop-color="#6ee171"/><stop offset="0.5000" stop-color="#5be182"/><stop offset="0.5167" stop-color="#4fe192"/><stop offset="0.5333" stop-color="#4be0a1"/><stop offset="0.5500" stop-color="#47dfb0"/><stop offset="0.5667" stop-color="#43debe"/><stop offset="0.5833" stop-color="#40ddcd"/><stop offset="0.6000" stop-color="#3cdcdc"/><stop offset="0.6167" stop-color="#3ad1e0"/><stop offset="0.6333" stop-color="#38c6e3"/><stop offset="0.6500" stop-color="#36bbe7"/><stop offset="0.6667" stop-color="#35b0eb"/><stop offset="0.6833" stop-color="#33a4ef"/><stop offset="0.7000" stop-color="#3299ee"/><stop offset="0.7167" stop-color="#318cec"/><stop offset="0.7333" stop-color="#3080ea"/><stop offset="0.7500" stop-color="#2f73e7"/><stop offset="0.7667" stop-color="#2e66e4"/><stop offset="0.7833" stop-color="#2d5ae2"/><stop offset="0.8000" stop-color="#2c50de"/><stop offset="0.8167" stop-color="#2c49d8"/><stop offset="0.8333" stop-color="#2b41d2"/><stop offset="0.8500" stop-color="#2a3acc"/><stop offset="0.8667" stop-color="#2932c6"/><stop offset="0.8833" stop-color="#282bc0"/><stop offset="0.9000" stop-color="#2727b9"/><stop offset="0.9167" stop-color="#2626b2"/><stop offset="0.9333" stop-color="#2424aa"/><stop offset="0.9500" stop-color="#2323a3"/><stop offset="0.9667" stop-color="#21219b"/><stop offset="0.9833" stop-color="#202094"/><stop offset="1.0000" stop-color="#1e1e8c"/></linearGradient><radialGradient id="gi" cx="0.5" cy="0.5" r="0.5" fx="0.5" fy="0.5"><stop offset="0.0000" stop-color="#181864"/><stop offset="0.0063" stop-color="#181864"/><stop offset="0.0125" stop-color="#181864"/><stop offset="0.0187" stop-color="#181864"/><stop offset="0.0250" stop-color="#181864"/><stop offset="0.0312" stop-color="#181864"/><stop offset="0.0375" stop-color="#181864"/><stop offset="0.0437" stop-color="#181864"/><stop offset="0.0500" stop-color="#181864"/><stop offset="0.0563" stop-color="#181864"/><stop offset="0.0625" stop-color="#181864"/><stop offset="0.0688" stop-color="#181864"/><stop offset="0.0750" stop-color="#181864"/><stop offset="0.0813" stop-color="#181864"/><stop offset="0.0875" stop-color="#181864"/><stop offset="0.0938" stop-color="#181864"/><stop offset="0.1000" stop-color="#181864"/><stop offset="0.1062" stop-color="#181864"/><stop offset="0.1125" stop-color="#181864"/><stop offset="0.1187" stop-color="#181864"/><stop offset="0.1250" stop-color="#181864"/><stop offset="0.1313" stop-color="#181864"/><stop offset="0.1375" stop-color="#181864"/><stop offset="0.1437" stop-color="#181864"/><stop offset="0.1500" stop-color="#181864"/><stop offset="0.1562" stop-color="#181864"/><stop offset="0.1625" stop-color="#181864"/><stop offset="0.1688" stop-color="#181864"/><stop offset="0.1750" stop-color="#181864"/><stop offset="0.1812" stop-color="#181864"/><stop offset="0.1875" stop-color="#181864"/><stop offset="0.1938" stop-color="#181864"/><stop offset="0.2000" stop-color="#181864"/><stop offset="0.2062" stop-color="#181864"/><stop offset="0.2125" stop-color="#181864"/><stop offset="0.2188" stop-color="#181864"/><stop offset="0.2250" stop-color="#181864"/><stop offset="0.2313" stop-color="#181864"/><stop offset="0.2375" stop-color="#181864"/><stop offset="0.2437" stop-color="#181864"/><stop offset="0.2500" stop-color="#181864"/><stop offset="0.2562" stop-color="#181864"/><stop offset="0.2625" stop-color="#181864"/><stop offset="0.2687" stop-color="#181864"/><stop offset="0.2750" stop-color="#181864"/><stop offset="0.2812" stop-color="#181864"/><stop offset="0.2875" stop-color="#181864"/><stop offset="0.2938" stop-color="#181864"/><stop offset="0.3000" stop-color="#181864"/><stop offset="0.3063" stop-color="#181864"/><stop offset="0.3125" stop-color="#181864"/><stop offset="0.3187" stop-color="#181864"/><stop offset="0.3250" stop-color="#181864"/><stop offset="0.3312" stop-color="#181864"/><stop offset="0.3375" stop-color="#181864"/><stop offset="0.3438" stop-color="#181864"/><stop offset="0.3500" stop-color="#181864"/><stop offset="0.3563" stop-color="#181864"/><stop offset="0.3625" stop-color="#181864"/><stop offset="0.3688" stop-color="#181864"/><stop offset="0.3750" stop-color="#181864"/><stop offset="0.3812" stop-color="#181864"/><stop offset="0.3875" stop-color="#181864"/><stop offset="0.3937" stop-color="#181864"/><stop offset="0.4000" stop-color="#181864"/><stop offset="0.4062" stop-color="#181864"/><stop offset="0.4125" stop-color="#181864"/><stop offset="0.4188" stop-color="#181864"/><stop offset="0.4250" stop-color="#181864"/><stop offset="0.4313" stop-color="#181864"/><stop offset="0.4375" stop-color="#181864"/><stop offset="0.4437" stop-color="#181864"/><stop offset="0.4500" stop-color="#181864"/><stop offset="0.4562" stop-color="#181864"/><stop offset="0.4625" stop-color="#181864"/><stop offset="0.4688" stop-color="#181864"/><stop offset="0.4750" stop-color="#1a1c76"/><stop offset="0.4813" stop-color="#1d208d"/><stop offset="0.4875" stop-color="#2025a2"/><stop offset="0.4938" stop-color="#2431b2"/><stop offset="0.5000" stop-color="#273dc2"/><stop offset="0.5062" stop-color="#294dcb"/><stop offset="0.5125" stop-color="#295ed0"/><stop offset="0.5188" stop-color="#2a70d4"/><stop offset="0.5250" stop-color="#2c87d0"/><stop offset="0.5312" stop-color="#2d9ecd"/><stop offset="0.5375" stop-color="#31adc4"/><stop offset="0.5437" stop-color="#35b8bd"/><stop offset="0.5500" stop-color="#3dbfb0"/><stop offset="0.5563" stop-color="#4bc39b"/><stop offset="0.5625" stop-color="#55c68b"/><stop offset="0.5687" stop-color="#5ac785"/><stop offset="0.5750" stop-color="#5ec87e"/><stop offset="0.5813" stop-color="#64c877"/><stop offset="0.5875" stop-color="#64c877"/><stop offset="0.5938" stop-color="#64c877"/><stop offset="0.6000" stop-color="#64c877"/><stop offset="0.6062" stop-color="#64c877"/><stop offset="0.6125" stop-color="#64c877"/><stop offset="0.6188" stop-color="#64c877"/><stop offset="0.6250" stop-color="#64c877"/><stop offset="0.6312" stop-color="#64c877"/><stop offset="0.6375" stop-color="#64c877"/><stop offset="0.6438" stop-color="#64c877"/><stop offset="0.6500" stop-color="#64c877"/><stop offset="0.6562" stop-color="#64c877"/><stop offset="0.6625" stop-color="#64c877"/><stop offset="0.6687" stop-color="#64c877"/><stop offset="0.6750" stop-color="#64c877"/><stop offset="0.6813" stop-color="#64c877"/><stop offset="0.6875" stop-color="#64c877"/><stop offset="0.6937" stop-color="#64c877"/><stop offset="0.7000" stop-color="#64c877"/><stop offset="0.7063" stop-color="#54c58d"/><stop offset="0.7125" stop-color="#47c2a1"/><stop offset="0.7188" stop-color="#3abfb5"/><stop offset="0.7250" stop-color="#34b6be"/><stop offset="0.7312" stop-color="#31adc5"/><stop offset="0.7375" stop-color="#2ea3cb"/><stop offset="0.7438" stop-color="#2c96ce"/><stop offset="0.7500" stop-color="#2b82d1"/><stop offset="0.7562" stop-color="#2a6dd4"/><stop offset="0.7625" stop-color="#295dcf"/><stop offset="0.7688" stop-color="#294dcb"/><stop offset="0.7750" stop-color="#2845c9"/><stop offset="0.7812" stop-color="#283fc6"/><stop offset="0.7875" stop-color="#263bc0"/><stop offset="0.7937" stop-color="#2537ba"/><stop offset="0.8000" stop-color="#2432b4"/><stop offset="0.8063" stop-color="#2433b5"/><stop offset="0.8125" stop-color="#2434b6"/><stop offset="0.8187" stop-color="#2535b7"/><stop offset="0.8250" stop-color="#2536b8"/><stop offset="0.8313" stop-color="#2536b9"/><stop offset="0.8375" stop-color="#2537bb"/><stop offset="0.8438" stop-color="#2638bc"/><stop offset="0.8500" stop-color="#273cc1"/><stop offset="0.8562" stop-color="#2843c8"/><stop offset="0.8625" stop-color="#294ccb"/><stop offset="0.8688" stop-color="#2956ce"/><stop offset="0.8750" stop-color="#2961d1"/><stop offset="0.8812" stop-color="#2a6ed4"/><stop offset="0.8875" stop-color="#2b80d2"/><stop offset="0.8938" stop-color="#2c96ce"/><stop offset="0.9000" stop-color="#30a9c7"/><stop offset="0.9062" stop-color="#38beb7"/><stop offset="0.9125" stop-color="#58c688"/><stop offset="0.9187" stop-color="#a6c424"/><stop offset="0.9250" stop-color="#c8aa05"/><stop offset="0.9313" stop-color="#d07d00"/><stop offset="0.9375" stop-color="#cf5200"/><stop offset="0.9437" stop-color="#c93200"/><stop offset="0.9500" stop-color="#bf2400"/><stop offset="0.9563" stop-color="#b21700"/><stop offset="0.9625" stop-color="#940600"/><stop offset="0.9688" stop-color="#840000"/><stop offset="0.9750" stop-color="#7e0000"/><stop offset="0.9812" stop-color="#790000"/><stop offset="0.9875" stop-color="#740000"/><stop offset="0.9938" stop-color="#6e0000"/><stop offset="1.0000" stop-color="#690000"/></radialGradient><linearGradient id="cb663" x1="0" y1="0" x2="0" y2="1"><stop offset="0.0000" stop-color="#6e0000"/><stop offset="0.0167" stop-color="#7b0000"/><stop offset="0.0333" stop-color="#890000"/><stop offset="0.0500" stop-color="#960000"/><stop offset="0.0667" stop-color="#a40500"/><stop offset="0.0833" stop-color="#b10a00"/><stop offset="0.1000" stop-color="#bf1000"/><stop offset="0.1167" stop-color="#cc1500"/><stop offset="0.1333" stop-color="#d81c00"/><stop offset="0.1500" stop-color="#dd2900"/><stop offset="0.1667" stop-color="#e13600"/><stop offset="0.1833" stop-color="#e64300"/><stop offset="0.2000" stop-color="#eb5000"/><stop offset="0.2167" stop-color="#ee6300"/><stop offset="0.2333" stop-color="#f17700"/><stop offset="0.2500" stop-color="#f38a00"/><stop offset="0.2667" stop-color="#f49b01"/><stop offset="0.2833" stop-color="#f3a905"/><stop offset="0.3000" stop-color="#f1b608"/><stop offset="0.3167" stop-color="#efc30b"/><stop offset="0.3333" stop-color="#eed10f"/><stop offset="0.3500" stop-color="#ecde12"/><stop offset="0.3667" stop-color="#e5e618"/><stop offset="0.3833" stop-color="#d5e421"/><stop offset="0.4000" stop-color="#c6e32b"/><stop offset="0.4167" stop-color="#b6e234"/><stop offset="0.4333" stop-color="#a6e13f"/><stop offset="0.4500" stop-color="#94e150"/><stop offset="0.4667" stop-color="#81e161"/><stop offset="0.4833" stop-color="#6ee171"/><stop offset="0.5000" stop-color="#5be182"/><stop offset="0.5167" stop-color="#4fe192"/><stop offset="0.5333" stop-color="#4be0a1"/><stop offset="0.5500" stop-color="#47dfb0"/><stop offset="0.5667" stop-color="#43debe"/><stop offset="0.5833" stop-color="#40ddcd"/><stop offset="0.6000" stop-color="#3cdcdc"/><stop offset="0.6167" stop-color="#3ad1e0"/><stop offset="0.6333" stop-color="#38c6e3"/><stop offset="0.6500" stop-color="#36bbe7"/><stop offset="0.6667" stop-color="#35b0eb"/><stop offset="0.6833" stop-color="#33a4ef"/><stop offset="0.7000" stop-color="#3299ee"/><stop offset="0.7167" stop-color="#318cec"/><stop offset="0.7333" stop-color="#3080ea"/><stop offset="0.7500" stop-color="#2f73e7"/><stop offset="0.7667" stop-color="#2e66e4"/><stop offset="0.7833" stop-color="#2d5ae2"/><stop offset="0.8000" stop-color="#2c50de"/><stop offset="0.8167" stop-color="#2c49d8"/><stop offset="0.8333" stop-color="#2b41d2"/><stop offset="0.8500" stop-color="#2a3acc"/><stop offset="0.8667" stop-color="#2932c6"/><stop offset="0.8833" stop-color="#282bc0"/><stop offset="0.9000" stop-color="#2727b9"/><stop offset="0.9167" stop-color="#2626b2"/><stop offset="0.9333" stop-color="#2424aa"/><stop offset="0.9500" stop-color="#2323a3"/><stop offset="0.9667" stop-color="#21219b"/><stop offset="0.9833" stop-color="#202094"/><stop offset="1.0000" stop-color="#1e1e8c"/></linearGradient></defs>
</svg></body></html>
